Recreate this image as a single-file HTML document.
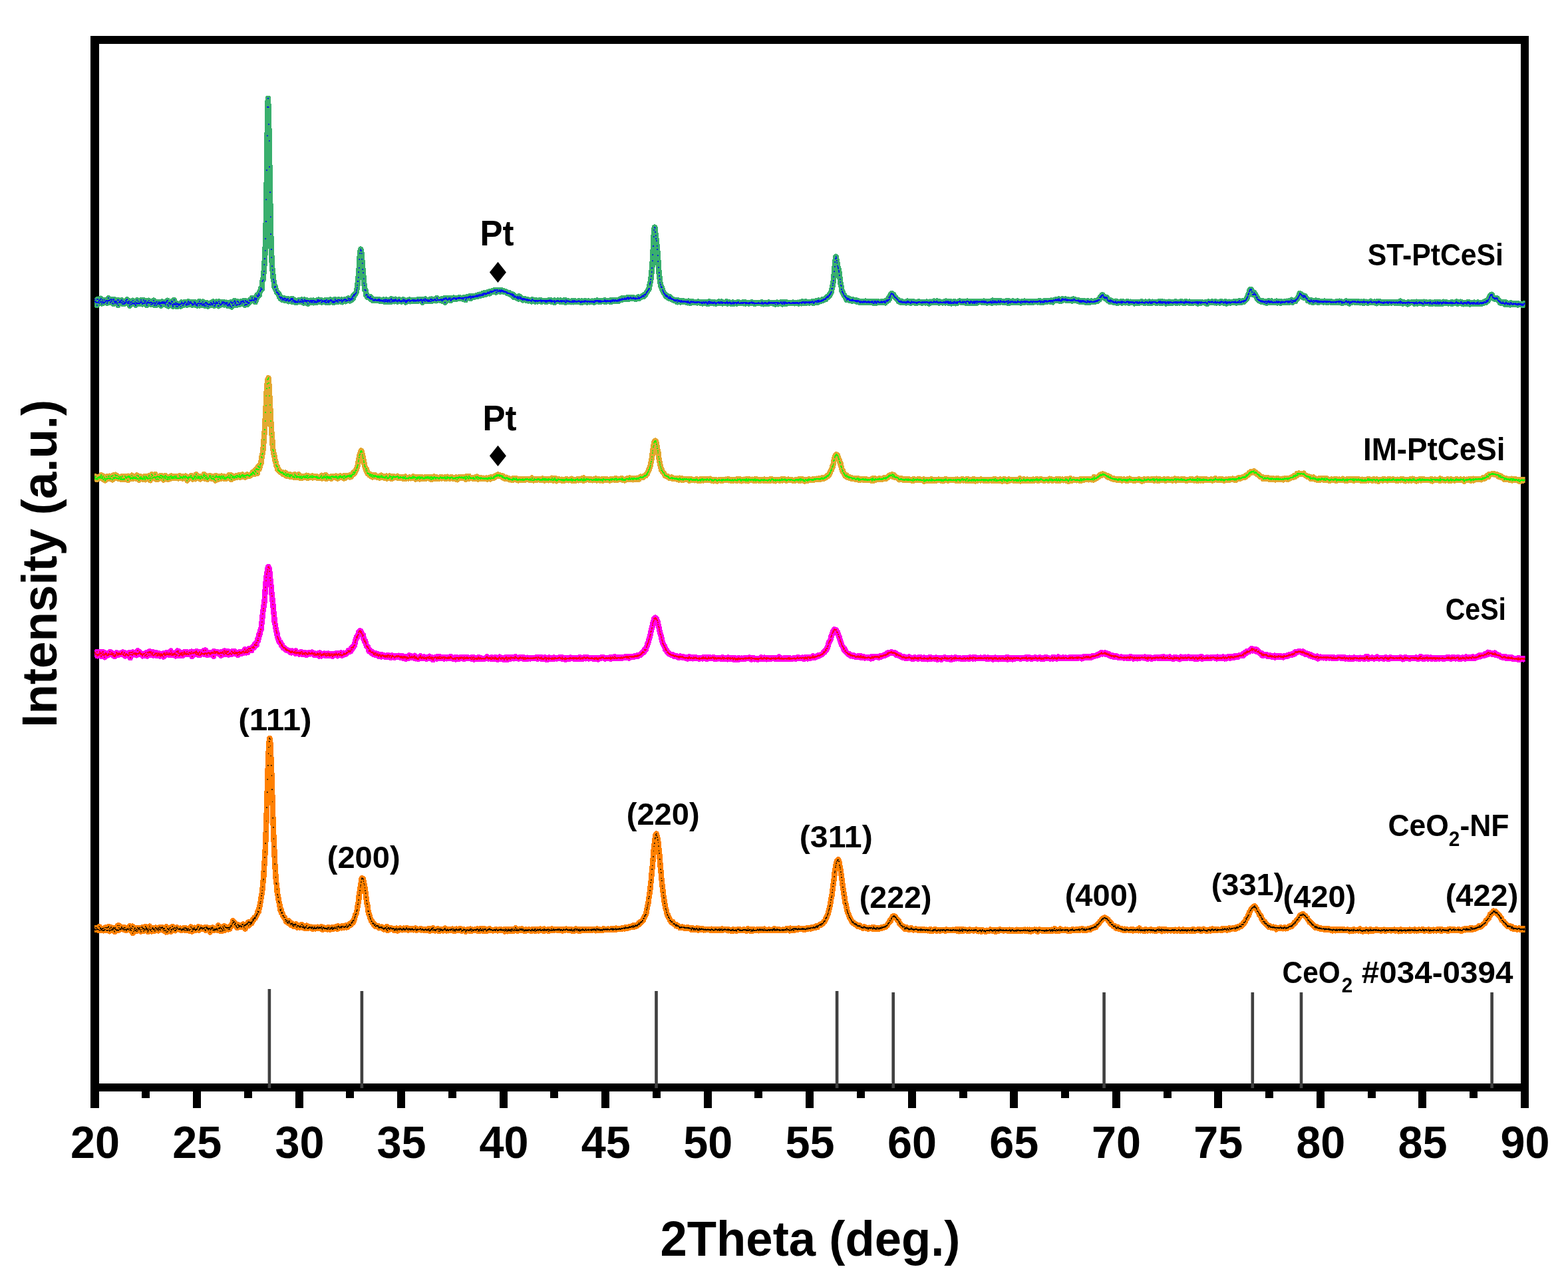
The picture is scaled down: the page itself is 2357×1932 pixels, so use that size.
<!DOCTYPE html>
<html lang="en"><head><meta charset="utf-8"><title>XRD patterns</title>
<style>html,body{margin:0;padding:0;background:#fff}svg{display:block}text{font-family:"Liberation Sans",sans-serif;font-weight:bold;fill:#000}</style></head><body>
<svg width="2357" height="1932" viewBox="0 0 2357 1932">
<rect x="0" y="0" width="2357" height="1932" fill="#fff"/>
<defs>
<marker id="m0" markerUnits="userSpaceOnUse" markerWidth="2" markerHeight="2" refX="1" refY="1" viewBox="0 0 2 2"><rect width="2" height="2" fill="#0000FF"/></marker>
<marker id="m1" markerUnits="userSpaceOnUse" markerWidth="2" markerHeight="2" refX="1" refY="1" viewBox="0 0 2 2"><rect width="2" height="2" fill="#00FF00"/></marker>
<marker id="m2" markerUnits="userSpaceOnUse" markerWidth="2" markerHeight="2" refX="1" refY="1" viewBox="0 0 2 2"><rect width="2" height="2" fill="#FF0000"/></marker>
<marker id="m3" markerUnits="userSpaceOnUse" markerWidth="1.7" markerHeight="1.7" refX="0.85" refY="0.85" viewBox="0 0 1.7 1.7"><rect width="1.7" height="1.7" fill="#000000"/></marker>
<clipPath id="cc"><rect x="142" y="60" width="2150.6" height="1575"/></clipPath>
</defs>
<g fill="#000" shape-rendering="crispEdges">
<rect x="136" y="54" width="13" height="1612"/>
<rect x="2286" y="54" width="12" height="1612"/>
<rect x="136" y="54" width="2162" height="12"/>
<rect x="136" y="1629" width="2162" height="12"/>
<rect x="213.0" y="1640" width="12" height="11"/>
<rect x="290.0" y="1640" width="12" height="26"/>
<rect x="367.0" y="1640" width="12" height="11"/>
<rect x="444.0" y="1640" width="12" height="26"/>
<rect x="520.0" y="1640" width="12" height="11"/>
<rect x="597.0" y="1640" width="12" height="26"/>
<rect x="674.0" y="1640" width="12" height="11"/>
<rect x="751.0" y="1640" width="12" height="26"/>
<rect x="827.0" y="1640" width="12" height="11"/>
<rect x="904.0" y="1640" width="12" height="26"/>
<rect x="981.0" y="1640" width="12" height="11"/>
<rect x="1058.0" y="1640" width="12" height="26"/>
<rect x="1134.0" y="1640" width="12" height="11"/>
<rect x="1211.0" y="1640" width="12" height="26"/>
<rect x="1288.0" y="1640" width="12" height="11"/>
<rect x="1365.0" y="1640" width="12" height="26"/>
<rect x="1442.0" y="1640" width="12" height="11"/>
<rect x="1518.0" y="1640" width="12" height="26"/>
<rect x="1595.0" y="1640" width="12" height="11"/>
<rect x="1672.0" y="1640" width="12" height="26"/>
<rect x="1749.0" y="1640" width="12" height="11"/>
<rect x="1825.0" y="1640" width="12" height="26"/>
<rect x="1902.0" y="1640" width="12" height="11"/>
<rect x="1979.0" y="1640" width="12" height="26"/>
<rect x="2056.0" y="1640" width="12" height="11"/>
<rect x="2132.0" y="1640" width="12" height="26"/>
<rect x="2209.0" y="1640" width="12" height="11"/>
</g>
<g fill="#404040" shape-rendering="crispEdges">
<rect x="402.6" y="1487" width="4.6" height="149" shape-rendering="auto"/>
<rect x="541.6" y="1490" width="4.6" height="146" shape-rendering="auto"/>
<rect x="984.2" y="1490" width="4.6" height="146" shape-rendering="auto"/>
<rect x="1255.8" y="1490" width="4.6" height="146" shape-rendering="auto"/>
<rect x="1340.4" y="1492" width="4.6" height="144" shape-rendering="auto"/>
<rect x="1657.3" y="1492" width="4.6" height="144" shape-rendering="auto"/>
<rect x="1880.5" y="1492" width="4.6" height="144" shape-rendering="auto"/>
<rect x="1953.7" y="1492" width="4.6" height="144" shape-rendering="auto"/>
<rect x="2240.3" y="1492" width="4.6" height="144" shape-rendering="auto"/>
</g>
<polyline clip-path="url(#cc)" fill="none" stroke="#39AF6D" stroke-width="8.5" stroke-linejoin="round" stroke-linecap="butt" shape-rendering="crispEdges" marker-start="url(#m0)" marker-mid="url(#m0)" marker-end="url(#m0)" points="142.5,449.7 143.1,453.1 143.7,454.5 144.3,453.3 145.0,454.7 145.6,458.9 146.2,450.1 146.8,454.9 147.4,449.7 148.0,453.7 148.6,452.0 149.3,455.7 149.9,451.3 150.5,454.1 151.1,450.5 151.7,448.7 152.3,453.9 152.9,456.5 153.6,454.1 154.2,451.1 154.8,453.7 155.4,454.7 156.0,455.5 156.6,450.8 157.2,454.6 157.9,453.9 158.5,453.1 159.1,453.2 159.7,451.8 160.3,452.0 160.9,455.8 161.5,453.7 162.2,452.2 162.8,448.2 163.4,451.5 164.0,452.2 164.6,450.6 165.2,450.6 165.8,454.9 166.5,452.8 167.1,449.9 167.7,450.6 168.3,452.7 168.9,455.5 169.5,450.3 170.1,456.6 170.7,452.4 171.4,450.0 172.0,454.4 172.6,456.3 173.2,453.0 173.8,454.7 174.4,452.8 175.0,453.4 175.7,456.8 176.3,455.2 176.9,451.1 177.5,459.1 178.1,451.4 178.7,455.2 179.3,454.4 180.0,453.3 180.6,453.9 181.2,453.2 181.8,455.2 182.4,452.1 183.0,451.2 183.6,454.5 184.3,457.1 184.9,453.3 185.5,457.0 186.1,453.5 186.7,456.8 187.3,455.6 187.9,454.8 188.6,455.7 189.2,452.2 189.8,454.1 190.4,450.8 191.0,450.4 191.6,455.8 192.2,453.6 192.9,456.0 193.5,454.3 194.1,452.5 194.7,459.8 195.3,456.8 195.9,454.5 196.5,454.2 197.2,457.5 197.8,453.6 198.4,457.3 199.0,455.6 199.6,451.7 200.2,455.8 200.8,456.6 201.5,455.5 202.1,456.4 202.7,457.2 203.3,453.5 203.9,459.0 204.5,454.8 205.1,456.2 205.8,451.4 206.4,456.5 207.0,456.0 207.6,453.4 208.2,455.9 208.8,455.6 209.4,456.6 210.1,456.0 210.7,453.5 211.3,454.8 211.9,451.3 212.5,454.7 213.1,453.7 213.7,456.9 214.4,457.4 215.0,456.0 215.6,451.1 216.2,455.9 216.8,452.6 217.4,455.7 218.0,455.2 218.7,452.7 219.3,452.3 219.9,456.6 220.5,459.2 221.1,454.9 221.7,455.7 222.3,453.9 222.9,454.5 223.6,451.7 224.2,455.3 224.8,455.5 225.4,454.5 226.0,455.3 226.6,454.4 227.2,457.8 227.9,455.0 228.5,455.7 229.1,457.1 229.7,455.6 230.3,456.1 230.9,451.7 231.5,454.8 232.2,459.2 232.8,456.1 233.4,457.4 234.0,456.1 234.6,459.1 235.2,453.9 235.8,453.8 236.5,456.8 237.1,457.1 237.7,456.2 238.3,456.2 238.9,454.2 239.5,457.7 240.1,455.7 240.8,456.6 241.4,454.7 242.0,459.8 242.6,454.8 243.2,456.1 243.8,453.5 244.4,454.1 245.1,455.7 245.7,454.2 246.3,456.1 246.9,454.2 247.5,456.1 248.1,456.0 248.7,458.4 249.4,454.9 250.0,453.8 250.6,454.4 251.2,451.8 251.8,451.7 252.4,458.2 253.0,460.4 253.7,455.4 254.3,456.4 254.9,455.3 255.5,458.1 256.1,455.9 256.7,456.0 257.3,456.0 258.0,453.1 258.6,458.1 259.2,454.0 259.8,460.9 260.4,459.2 261.0,456.9 261.6,451.1 262.3,456.6 262.9,458.1 263.5,457.4 264.1,455.4 264.7,460.7 265.3,458.2 265.9,456.3 266.6,461.0 267.2,457.5 267.8,457.1 268.4,457.6 269.0,459.3 269.6,457.5 270.2,457.4 270.9,457.5 271.5,460.8 272.1,457.1 272.7,454.3 273.3,455.4 273.9,456.0 274.5,459.1 275.1,459.3 275.8,456.3 276.4,457.0 277.0,456.4 277.6,454.1 278.2,454.8 278.8,454.4 279.4,457.5 280.1,458.6 280.7,456.7 281.3,456.1 281.9,458.4 282.5,455.2 283.1,453.0 283.7,456.8 284.4,457.6 285.0,454.8 285.6,454.1 286.2,455.6 286.8,454.1 287.4,456.3 288.0,456.4 288.7,457.2 289.3,458.7 289.9,456.9 290.5,458.1 291.1,457.8 291.7,453.8 292.3,456.5 293.0,454.8 293.6,454.6 294.2,457.1 294.8,459.1 295.4,458.2 296.0,457.8 296.6,459.8 297.3,456.8 297.9,455.5 298.5,456.0 299.1,455.8 299.7,453.1 300.3,459.4 300.9,456.6 301.6,456.7 302.2,456.0 302.8,457.0 303.4,455.8 304.0,458.8 304.6,453.6 305.2,458.2 305.9,457.0 306.5,459.2 307.1,459.6 307.7,459.6 308.3,456.9 308.9,455.1 309.5,459.8 310.2,454.8 310.8,457.4 311.4,455.9 312.0,457.3 312.6,460.8 313.2,458.2 313.8,457.6 314.5,456.8 315.1,457.7 315.7,458.6 316.3,458.1 316.9,455.1 317.5,455.6 318.1,457.0 318.8,458.5 319.4,457.9 320.0,456.7 320.6,453.3 321.2,454.6 321.8,459.9 322.4,456.1 323.1,459.6 323.7,457.6 324.3,455.9 324.9,453.7 325.5,456.4 326.1,455.8 326.7,454.7 327.4,456.3 328.0,459.8 328.6,460.4 329.2,453.2 329.8,456.4 330.4,456.3 331.0,457.7 331.6,458.5 332.3,457.7 332.9,457.1 333.5,454.0 334.1,455.2 334.7,456.2 335.3,455.8 335.9,453.8 336.6,454.5 337.2,458.4 337.8,454.7 338.4,456.1 339.0,455.7 339.6,457.7 340.2,455.9 340.9,454.7 341.5,455.9 342.1,458.9 342.7,460.0 343.3,458.3 343.9,457.5 344.5,455.9 345.2,458.0 345.8,459.9 346.4,460.5 347.0,454.0 347.6,454.8 348.2,461.6 348.8,456.1 349.5,459.0 350.1,455.4 350.7,458.8 351.3,459.3 351.9,453.5 352.5,452.0 353.1,456.7 353.8,454.2 354.4,456.0 355.0,458.7 355.6,458.4 356.2,458.6 356.8,452.9 357.4,457.5 358.1,453.5 358.7,454.7 359.3,457.5 359.9,457.7 360.5,456.4 361.1,456.9 361.7,455.4 362.4,453.3 363.0,454.3 363.6,456.5 364.2,453.4 364.8,453.5 365.4,452.3 366.0,453.1 366.7,454.8 367.3,454.7 367.9,458.7 368.5,457.7 369.1,452.1 369.7,457.6 370.3,453.9 371.0,458.2 371.6,453.1 372.2,454.7 372.8,455.2 373.4,456.1 374.0,456.0 374.6,454.5 375.3,451.2 375.9,452.2 376.5,451.7 377.1,452.1 377.7,450.7 378.3,452.4 378.9,447.9 379.6,451.4 380.2,451.1 380.8,451.3 381.4,451.6 382.0,451.6 382.6,450.0 383.2,448.0 383.8,454.2 384.5,449.4 385.1,451.2 385.7,448.8 386.3,443.5 386.9,445.6 387.5,444.5 388.1,445.8 388.8,443.1 389.4,441.2 390.0,443.7 390.6,438.1 391.2,437.7 391.8,436.3 392.4,432.9 393.1,434.6 393.7,434.6 394.3,423.2 394.9,422.2 395.5,420.5 396.1,412.8 396.7,407.7 397.4,397.7 398.0,388.9 398.6,376.5 399.2,358.7 399.8,333.0 400.4,300.2 401.0,255.6 401.7,204.3 402.3,160.9 402.9,147.8 403.5,161.3 404.1,186.6 404.7,211.6 405.3,250.8 406.0,289.2 406.6,326.4 407.2,352.1 407.8,374.9 408.4,387.4 409.0,400.4 409.6,405.9 410.3,412.1 410.9,420.2 411.5,422.5 412.1,425.0 412.7,432.0 413.3,431.4 413.9,431.1 414.6,435.7 415.2,436.0 415.8,438.9 416.4,439.6 417.0,439.9 417.6,439.7 418.2,442.2 418.9,443.0 419.5,442.2 420.1,446.3 420.7,447.2 421.3,446.9 421.9,449.3 422.5,447.2 423.2,447.1 423.8,447.7 424.4,451.1 425.0,448.7 425.6,448.5 426.2,450.4 426.8,451.4 427.5,448.3 428.1,449.4 428.7,449.0 429.3,452.2 429.9,449.5 430.5,452.1 431.1,449.8 431.8,450.6 432.4,451.2 433.0,449.2 433.6,453.4 434.2,451.5 434.8,451.9 435.4,451.1 436.0,452.3 436.7,451.2 437.3,449.5 437.9,449.0 438.5,453.8 439.1,450.2 439.7,449.0 440.3,452.4 441.0,451.4 441.6,452.5 442.2,454.3 442.8,453.2 443.4,451.5 444.0,454.6 444.6,452.9 445.3,453.9 445.9,453.8 446.5,454.7 447.1,453.9 447.7,454.1 448.3,451.8 448.9,451.1 449.6,453.6 450.2,453.6 450.8,454.1 451.4,453.4 452.0,453.4 452.6,450.8 453.2,454.1 453.9,450.4 454.5,454.2 455.1,451.8 455.7,452.8 456.3,455.6 456.9,453.2 457.5,450.4 458.2,450.9 458.8,452.2 459.4,453.2 460.0,452.3 460.6,451.9 461.2,454.1 461.8,451.6 462.5,456.7 463.1,452.4 463.7,452.7 464.3,452.4 464.9,452.5 465.5,454.9 466.1,452.7 466.8,451.8 467.4,452.2 468.0,453.5 468.6,451.7 469.2,454.9 469.8,452.9 470.4,452.0 471.1,451.5 471.7,455.3 472.3,452.3 472.9,454.1 473.5,452.8 474.1,452.6 474.7,454.3 475.4,455.2 476.0,453.7 476.6,452.6 477.2,450.9 477.8,454.2 478.4,452.3 479.0,450.7 479.7,453.2 480.3,452.8 480.9,451.8 481.5,451.6 482.1,451.8 482.7,450.8 483.3,454.7 484.0,453.8 484.6,451.8 485.2,453.2 485.8,452.9 486.4,453.2 487.0,452.8 487.6,454.2 488.2,451.6 488.9,453.0 489.5,451.8 490.1,455.0 490.7,450.9 491.3,451.3 491.9,454.2 492.5,452.5 493.2,453.6 493.8,451.7 494.4,455.0 495.0,452.6 495.6,452.7 496.2,452.4 496.8,450.5 497.5,451.0 498.1,452.3 498.7,451.6 499.3,454.2 499.9,453.6 500.5,453.3 501.1,455.0 501.8,453.9 502.4,453.1 503.0,454.5 503.6,450.0 504.2,452.8 504.8,452.1 505.4,452.6 506.1,452.4 506.7,451.9 507.3,453.7 507.9,450.8 508.5,453.7 509.1,450.5 509.7,450.6 510.4,451.1 511.0,452.2 511.6,452.1 512.2,451.7 512.8,451.7 513.4,450.4 514.0,454.3 514.7,452.6 515.3,451.8 515.9,451.4 516.5,451.0 517.1,452.4 517.7,450.3 518.3,450.0 519.0,449.9 519.6,453.3 520.2,452.1 520.8,451.2 521.4,450.5 522.0,452.1 522.6,451.9 523.3,448.4 523.9,450.6 524.5,449.0 525.1,448.8 525.7,452.4 526.3,452.0 526.9,450.0 527.6,448.7 528.2,450.3 528.8,450.7 529.4,448.1 530.0,446.1 530.6,449.2 531.2,444.7 531.9,443.0 532.5,444.6 533.1,442.6 533.7,442.2 534.3,441.8 534.9,441.1 535.5,439.2 536.2,436.1 536.8,432.6 537.4,428.5 538.0,423.0 538.6,417.3 539.2,409.2 539.8,402.5 540.4,389.8 541.1,380.6 541.7,376.5 542.3,374.6 542.9,377.1 543.5,381.3 544.1,389.5 544.7,395.6 545.4,405.0 546.0,410.4 546.6,419.4 547.2,425.6 547.8,429.4 548.4,435.6 549.0,435.6 549.7,436.7 550.3,443.8 550.9,442.7 551.5,443.0 552.1,446.7 552.7,446.2 553.3,445.4 554.0,446.7 554.6,446.8 555.2,448.1 555.8,447.8 556.4,449.4 557.0,446.3 557.6,449.8 558.3,449.0 558.9,449.4 559.5,449.2 560.1,449.5 560.7,452.2 561.3,450.8 561.9,451.0 562.6,451.5 563.2,451.7 563.8,449.8 564.4,450.0 565.0,451.3 565.6,451.6 566.2,451.6 566.9,450.9 567.5,452.2 568.1,451.4 568.7,449.9 569.3,451.8 569.9,449.9 570.5,450.8 571.2,452.7 571.8,451.1 572.4,452.0 573.0,452.4 573.6,451.4 574.2,452.6 574.8,452.2 575.5,452.4 576.1,452.9 576.7,450.6 577.3,450.7 577.9,453.7 578.5,452.4 579.1,450.9 579.8,453.4 580.4,450.3 581.0,452.9 581.6,451.1 582.2,451.9 582.8,453.9 583.4,451.5 584.1,451.1 584.7,452.6 585.3,451.1 585.9,453.6 586.5,453.8 587.1,451.3 587.7,450.9 588.4,449.2 589.0,453.5 589.6,450.5 590.2,452.3 590.8,452.1 591.4,453.0 592.0,450.8 592.6,453.3 593.3,450.9 593.9,452.2 594.5,449.7 595.1,450.6 595.7,452.6 596.3,452.3 596.9,452.5 597.6,453.6 598.2,451.4 598.8,451.8 599.4,452.1 600.0,450.4 600.6,452.8 601.2,452.0 601.9,453.1 602.5,452.7 603.1,453.6 603.7,452.2 604.3,452.5 604.9,452.5 605.5,452.2 606.2,450.3 606.8,453.1 607.4,450.7 608.0,451.1 608.6,451.4 609.2,452.9 609.8,454.6 610.5,451.9 611.1,454.0 611.7,451.9 612.3,453.1 612.9,451.0 613.5,452.1 614.1,451.2 614.8,451.0 615.4,450.4 616.0,453.3 616.6,452.8 617.2,452.2 617.8,451.6 618.4,451.9 619.1,452.2 619.7,451.0 620.3,451.9 620.9,451.0 621.5,452.8 622.1,450.8 622.7,452.5 623.4,452.4 624.0,451.3 624.6,452.3 625.2,452.7 625.8,452.2 626.4,451.9 627.0,451.4 627.7,452.4 628.3,449.8 628.9,452.5 629.5,451.3 630.1,451.6 630.7,451.7 631.3,450.5 632.0,451.5 632.6,450.5 633.2,450.2 633.8,451.0 634.4,453.2 635.0,454.8 635.6,451.4 636.3,452.2 636.9,450.4 637.5,450.5 638.1,451.6 638.7,452.9 639.3,449.4 639.9,450.4 640.6,452.2 641.2,451.0 641.8,451.2 642.4,451.1 643.0,452.9 643.6,451.8 644.2,451.1 644.9,453.0 645.5,451.8 646.1,452.6 646.7,449.7 647.3,449.9 647.9,453.3 648.5,451.0 649.1,449.7 649.8,451.3 650.4,451.8 651.0,451.9 651.6,451.6 652.2,451.1 652.8,451.3 653.4,449.8 654.1,449.9 654.7,451.1 655.3,451.5 655.9,452.3 656.5,448.0 657.1,448.6 657.7,451.2 658.4,451.3 659.0,450.8 659.6,451.2 660.2,450.8 660.8,451.3 661.4,450.7 662.0,450.6 662.7,449.6 663.3,450.6 663.9,451.6 664.5,452.5 665.1,450.4 665.7,451.0 666.3,450.7 667.0,448.7 667.6,450.2 668.2,450.4 668.8,454.7 669.4,448.4 670.0,449.4 670.6,447.9 671.3,449.8 671.9,449.8 672.5,450.1 673.1,451.4 673.7,449.7 674.3,449.5 674.9,448.2 675.6,448.9 676.2,449.7 676.8,450.6 677.4,448.3 678.0,452.1 678.6,450.2 679.2,449.5 679.9,449.4 680.5,450.3 681.1,449.0 681.7,447.6 682.3,448.3 682.9,448.0 683.5,449.4 684.2,448.9 684.8,449.6 685.4,448.3 686.0,450.1 686.6,449.0 687.2,448.4 687.8,448.4 688.5,447.9 689.1,448.4 689.7,449.0 690.3,447.1 690.9,448.2 691.5,447.6 692.1,447.6 692.8,448.7 693.4,448.4 694.0,448.9 694.6,448.3 695.2,447.8 695.8,447.7 696.4,450.1 697.1,447.8 697.7,447.5 698.3,447.5 698.9,447.3 699.5,447.1 700.1,451.2 700.7,448.8 701.3,448.4 702.0,446.5 702.6,446.7 703.2,447.4 703.8,447.7 704.4,447.1 705.0,445.6 705.6,446.3 706.3,447.1 706.9,445.3 707.5,449.0 708.1,446.7 708.7,446.5 709.3,445.9 709.9,447.1 710.6,445.7 711.2,445.3 711.8,447.2 712.4,446.1 713.0,445.7 713.6,444.9 714.2,446.2 714.9,445.9 715.5,446.2 716.1,443.8 716.7,445.6 717.3,443.7 717.9,445.9 718.5,444.7 719.2,444.1 719.8,444.6 720.4,442.7 721.0,444.5 721.6,444.9 722.2,442.7 722.8,443.4 723.5,443.8 724.1,444.0 724.7,441.5 725.3,441.7 725.9,443.9 726.5,441.2 727.1,442.6 727.8,440.5 728.4,442.2 729.0,440.6 729.6,441.3 730.2,442.6 730.8,441.6 731.4,442.1 732.1,440.6 732.7,441.1 733.3,439.3 733.9,441.3 734.5,440.3 735.1,439.5 735.7,441.4 736.4,438.9 737.0,437.9 737.6,438.9 738.2,439.0 738.8,439.5 739.4,437.6 740.0,438.7 740.7,437.6 741.3,438.3 741.9,437.9 742.5,437.4 743.1,436.1 743.7,436.7 744.3,436.0 745.0,436.7 745.6,439.8 746.2,436.4 746.8,436.0 747.4,438.5 748.0,436.1 748.6,437.7 749.3,437.5 749.9,437.7 750.5,436.5 751.1,436.2 751.7,436.8 752.3,438.9 752.9,437.2 753.5,436.0 754.2,437.9 754.8,437.3 755.4,437.8 756.0,436.9 756.6,437.8 757.2,438.8 757.8,439.1 758.5,438.3 759.1,438.4 759.7,438.6 760.3,439.2 760.9,439.6 761.5,438.7 762.1,440.7 762.8,440.7 763.4,440.3 764.0,441.4 764.6,440.8 765.2,440.8 765.8,440.9 766.4,440.5 767.1,442.6 767.7,441.5 768.3,442.3 768.9,442.6 769.5,444.0 770.1,442.1 770.7,444.9 771.4,444.3 772.0,443.2 772.6,447.0 773.2,445.2 773.8,445.3 774.4,445.9 775.0,446.3 775.7,446.9 776.3,446.7 776.9,447.8 777.5,448.6 778.1,445.7 778.7,447.1 779.3,449.5 780.0,447.7 780.6,445.5 781.2,448.2 781.8,448.6 782.4,449.4 783.0,446.9 783.6,449.7 784.3,448.5 784.9,449.9 785.5,449.2 786.1,451.4 786.7,449.0 787.3,448.9 787.9,450.4 788.6,449.4 789.2,450.7 789.8,450.4 790.4,449.9 791.0,450.5 791.6,451.9 792.2,449.9 792.9,450.0 793.5,450.7 794.1,452.4 794.7,451.2 795.3,451.1 795.9,451.1 796.5,452.1 797.2,451.7 797.8,451.6 798.4,451.5 799.0,453.4 799.6,450.8 800.2,450.2 800.8,451.0 801.5,451.5 802.1,452.0 802.7,451.6 803.3,452.5 803.9,452.2 804.5,453.6 805.1,452.0 805.7,451.5 806.4,452.5 807.0,451.5 807.6,453.3 808.2,453.4 808.8,452.8 809.4,451.7 810.0,451.9 810.7,452.2 811.3,452.0 811.9,452.5 812.5,451.1 813.1,451.6 813.7,453.8 814.3,452.1 815.0,451.9 815.6,452.7 816.2,452.0 816.8,452.1 817.4,451.9 818.0,452.7 818.6,452.4 819.3,452.1 819.9,453.9 820.5,452.0 821.1,452.6 821.7,454.2 822.3,451.8 822.9,452.2 823.6,452.9 824.2,451.7 824.8,452.6 825.4,452.4 826.0,451.4 826.6,453.1 827.2,453.2 827.9,451.4 828.5,452.3 829.1,453.8 829.7,452.1 830.3,452.6 830.9,452.9 831.5,452.8 832.2,452.6 832.8,453.0 833.4,451.6 834.0,455.1 834.6,452.7 835.2,452.5 835.8,452.6 836.5,452.3 837.1,453.0 837.7,452.7 838.3,451.5 838.9,451.7 839.5,453.2 840.1,452.6 840.8,453.5 841.4,452.7 842.0,452.7 842.6,451.5 843.2,453.1 843.8,453.1 844.4,453.9 845.1,451.9 845.7,452.7 846.3,452.5 846.9,452.6 847.5,451.6 848.1,453.3 848.7,452.7 849.4,453.1 850.0,454.7 850.6,451.3 851.2,454.3 851.8,452.3 852.4,453.0 853.0,452.5 853.7,452.3 854.3,452.9 854.9,452.6 855.5,453.8 856.1,452.9 856.7,453.1 857.3,453.6 857.9,453.5 858.6,454.4 859.2,453.7 859.8,453.6 860.4,451.8 861.0,454.0 861.6,454.3 862.2,452.3 862.9,454.1 863.5,452.1 864.1,452.8 864.7,453.1 865.3,452.9 865.9,454.0 866.5,453.9 867.2,452.9 867.8,453.4 868.4,453.5 869.0,452.7 869.6,453.2 870.2,452.3 870.8,453.3 871.5,453.2 872.1,453.9 872.7,454.4 873.3,455.0 873.9,453.1 874.5,452.5 875.1,454.1 875.8,454.4 876.4,453.3 877.0,453.1 877.6,453.3 878.2,453.9 878.8,452.4 879.4,454.1 880.1,452.4 880.7,452.5 881.3,453.4 881.9,452.8 882.5,454.6 883.1,453.0 883.7,453.1 884.4,452.6 885.0,452.7 885.6,454.1 886.2,454.3 886.8,453.3 887.4,453.8 888.0,452.9 888.7,453.1 889.3,454.2 889.9,452.6 890.5,453.8 891.1,453.6 891.7,453.2 892.3,454.1 893.0,454.8 893.6,452.4 894.2,454.3 894.8,452.9 895.4,451.8 896.0,452.9 896.6,452.6 897.3,451.5 897.9,452.1 898.5,452.9 899.1,453.0 899.7,452.0 900.3,454.2 900.9,453.2 901.6,451.9 902.2,453.9 902.8,454.0 903.4,452.3 904.0,453.5 904.6,452.5 905.2,452.8 905.9,453.2 906.5,452.7 907.1,453.0 907.7,453.3 908.3,452.5 908.9,451.2 909.5,453.1 910.1,452.1 910.8,452.8 911.4,453.8 912.0,452.3 912.6,453.1 913.2,452.8 913.8,452.2 914.4,452.1 915.1,453.1 915.7,453.4 916.3,452.6 916.9,451.5 917.5,452.9 918.1,454.1 918.7,453.3 919.4,451.7 920.0,451.4 920.6,452.6 921.2,453.3 921.8,451.4 922.4,450.9 923.0,451.7 923.7,453.0 924.3,451.8 924.9,450.8 925.5,452.3 926.1,452.1 926.7,452.7 927.3,451.6 928.0,452.7 928.6,451.2 929.2,451.0 929.8,451.2 930.4,452.6 931.0,450.0 931.6,451.7 932.3,449.6 932.9,451.1 933.5,451.2 934.1,450.4 934.7,448.5 935.3,450.7 935.9,448.5 936.6,449.9 937.2,449.9 937.8,449.6 938.4,449.6 939.0,448.3 939.6,450.2 940.2,449.5 940.9,449.4 941.5,450.1 942.1,448.1 942.7,448.7 943.3,448.4 943.9,446.8 944.5,449.9 945.2,448.2 945.8,449.1 946.4,448.6 947.0,447.8 947.6,447.3 948.2,447.0 948.8,449.1 949.5,448.4 950.1,448.7 950.7,448.6 951.3,448.9 951.9,447.3 952.5,448.1 953.1,448.9 953.8,448.3 954.4,448.6 955.0,449.6 955.6,447.9 956.2,448.8 956.8,449.4 957.4,449.0 958.1,449.2 958.7,448.6 959.3,446.4 959.9,447.9 960.5,447.7 961.1,448.9 961.7,447.9 962.4,447.0 963.0,447.1 963.6,446.5 964.2,446.8 964.8,445.3 965.4,446.1 966.0,445.3 966.6,444.8 967.3,444.2 967.9,445.8 968.5,442.9 969.1,442.5 969.7,443.5 970.3,442.8 970.9,441.8 971.6,440.3 972.2,439.3 972.8,438.6 973.4,438.1 974.0,436.6 974.6,436.0 975.2,434.5 975.9,434.0 976.5,428.4 977.1,425.9 977.7,423.6 978.3,420.1 978.9,415.2 979.5,409.0 980.2,403.0 980.8,392.4 981.4,383.0 982.0,370.1 982.6,355.9 983.2,345.7 983.8,341.6 984.5,342.6 985.1,348.8 985.7,354.4 986.3,358.9 986.9,362.3 987.5,369.6 988.1,375.2 988.8,384.3 989.4,393.1 990.0,402.4 990.6,410.0 991.2,414.8 991.8,419.7 992.4,425.3 993.1,428.2 993.7,430.9 994.3,432.1 994.9,432.3 995.5,435.7 996.1,435.6 996.7,437.9 997.4,439.0 998.0,440.8 998.6,441.2 999.2,442.0 999.8,443.1 1000.4,444.7 1001.0,443.6 1001.7,446.0 1002.3,444.2 1002.9,445.1 1003.5,446.6 1004.1,446.3 1004.7,447.8 1005.3,448.5 1006.0,448.2 1006.6,446.1 1007.2,448.8 1007.8,447.4 1008.4,449.3 1009.0,448.9 1009.6,450.2 1010.3,449.3 1010.9,450.1 1011.5,450.4 1012.1,450.0 1012.7,451.7 1013.3,451.1 1013.9,452.1 1014.6,451.0 1015.2,452.5 1015.8,451.9 1016.4,451.4 1017.0,451.6 1017.6,451.0 1018.2,454.3 1018.8,451.3 1019.5,452.2 1020.1,452.9 1020.7,452.6 1021.3,451.8 1021.9,453.3 1022.5,452.7 1023.1,454.4 1023.8,452.2 1024.4,452.2 1025.0,453.7 1025.6,452.5 1026.2,453.6 1026.8,453.3 1027.4,454.1 1028.1,452.6 1028.7,452.9 1029.3,453.8 1029.9,452.9 1030.5,453.5 1031.1,453.9 1031.7,453.8 1032.4,453.2 1033.0,455.3 1033.6,453.0 1034.2,453.6 1034.8,455.2 1035.4,452.6 1036.0,455.1 1036.7,455.1 1037.3,456.1 1037.9,453.8 1038.5,454.1 1039.1,452.8 1039.7,453.8 1040.3,454.5 1041.0,454.3 1041.6,453.3 1042.2,454.1 1042.8,454.1 1043.4,454.8 1044.0,454.7 1044.6,453.8 1045.3,455.2 1045.9,454.9 1046.5,454.9 1047.1,453.8 1047.7,454.2 1048.3,455.4 1048.9,453.9 1049.6,453.6 1050.2,453.9 1050.8,454.5 1051.4,454.1 1052.0,455.4 1052.6,455.0 1053.2,455.0 1053.9,454.4 1054.5,456.1 1055.1,455.3 1055.7,455.9 1056.3,456.4 1056.9,454.2 1057.5,454.4 1058.2,455.0 1058.8,455.4 1059.4,456.1 1060.0,454.4 1060.6,454.4 1061.2,455.3 1061.8,454.3 1062.5,455.6 1063.1,456.8 1063.7,457.0 1064.3,454.7 1064.9,453.9 1065.5,455.6 1066.1,453.2 1066.8,456.3 1067.4,455.3 1068.0,454.1 1068.6,455.1 1069.2,455.6 1069.8,454.9 1070.4,454.4 1071.0,455.9 1071.7,455.0 1072.3,455.1 1072.9,456.3 1073.5,454.0 1074.1,455.3 1074.7,455.4 1075.3,454.9 1076.0,456.8 1076.6,456.1 1077.2,456.3 1077.8,455.0 1078.4,454.7 1079.0,454.6 1079.6,455.0 1080.3,453.5 1080.9,456.2 1081.5,454.7 1082.1,455.2 1082.7,453.8 1083.3,455.6 1083.9,455.5 1084.6,453.5 1085.2,454.4 1085.8,456.4 1086.4,455.6 1087.0,454.7 1087.6,455.1 1088.2,454.8 1088.9,455.2 1089.5,455.7 1090.1,455.7 1090.7,454.7 1091.3,456.1 1091.9,455.4 1092.5,453.2 1093.2,454.9 1093.8,456.5 1094.4,455.0 1095.0,454.7 1095.6,455.4 1096.2,455.5 1096.8,454.4 1097.5,454.8 1098.1,456.0 1098.7,456.6 1099.3,455.4 1099.9,456.5 1100.5,455.9 1101.1,456.1 1101.8,454.4 1102.4,454.8 1103.0,456.6 1103.6,454.8 1104.2,455.8 1104.8,455.3 1105.4,455.2 1106.1,455.1 1106.7,454.9 1107.3,456.6 1107.9,455.8 1108.5,454.8 1109.1,454.9 1109.7,454.0 1110.4,455.6 1111.0,455.6 1111.6,455.6 1112.2,456.1 1112.8,456.1 1113.4,455.6 1114.0,454.8 1114.7,455.1 1115.3,456.0 1115.9,455.7 1116.5,454.6 1117.1,456.3 1117.7,455.1 1118.3,454.7 1119.0,454.9 1119.6,454.5 1120.2,455.2 1120.8,456.5 1121.4,454.7 1122.0,456.1 1122.6,455.1 1123.2,456.1 1123.9,455.5 1124.5,455.5 1125.1,456.1 1125.7,456.6 1126.3,454.8 1126.9,456.0 1127.5,455.7 1128.2,454.8 1128.8,455.1 1129.4,455.4 1130.0,454.2 1130.6,456.1 1131.2,455.6 1131.8,454.7 1132.5,455.7 1133.1,455.1 1133.7,456.6 1134.3,455.7 1134.9,456.1 1135.5,455.7 1136.1,456.4 1136.8,455.6 1137.4,456.2 1138.0,456.1 1138.6,456.0 1139.2,455.7 1139.8,456.3 1140.4,454.9 1141.1,455.6 1141.7,455.6 1142.3,456.1 1142.9,455.8 1143.5,455.8 1144.1,456.2 1144.7,456.5 1145.4,454.3 1146.0,455.2 1146.6,455.6 1147.2,457.3 1147.8,455.5 1148.4,455.7 1149.0,455.4 1149.7,456.2 1150.3,455.1 1150.9,455.0 1151.5,456.1 1152.1,456.6 1152.7,455.8 1153.3,455.5 1154.0,456.8 1154.6,454.7 1155.2,456.1 1155.8,454.4 1156.4,456.3 1157.0,455.8 1157.6,454.9 1158.3,455.4 1158.9,455.6 1159.5,455.6 1160.1,455.0 1160.7,454.9 1161.3,455.6 1161.9,456.3 1162.6,455.8 1163.2,455.0 1163.8,455.1 1164.4,456.2 1165.0,455.4 1165.6,457.5 1166.2,455.3 1166.9,455.0 1167.5,455.0 1168.1,454.5 1168.7,456.9 1169.3,457.3 1169.9,454.8 1170.5,455.5 1171.2,455.7 1171.8,455.8 1172.4,455.6 1173.0,455.4 1173.6,455.4 1174.2,454.1 1174.8,456.0 1175.4,456.2 1176.1,457.4 1176.7,454.7 1177.3,454.1 1177.9,455.6 1178.5,455.1 1179.1,456.9 1179.7,453.9 1180.4,455.1 1181.0,455.6 1181.6,455.8 1182.2,454.5 1182.8,456.4 1183.4,456.3 1184.0,456.2 1184.7,455.4 1185.3,455.1 1185.9,455.0 1186.5,456.2 1187.1,454.9 1187.7,455.6 1188.3,455.6 1189.0,455.7 1189.6,456.1 1190.2,455.5 1190.8,455.0 1191.4,455.6 1192.0,454.5 1192.6,456.0 1193.3,454.9 1193.9,456.3 1194.5,456.3 1195.1,455.2 1195.7,455.8 1196.3,455.6 1196.9,454.9 1197.6,455.6 1198.2,455.4 1198.8,456.0 1199.4,454.7 1200.0,456.0 1200.6,456.7 1201.2,456.1 1201.9,454.6 1202.5,455.4 1203.1,454.6 1203.7,454.9 1204.3,455.0 1204.9,456.3 1205.5,453.6 1206.2,454.0 1206.8,455.2 1207.4,453.7 1208.0,454.2 1208.6,455.0 1209.2,454.4 1209.8,456.2 1210.5,453.6 1211.1,455.4 1211.7,455.0 1212.3,453.7 1212.9,455.4 1213.5,454.8 1214.1,454.3 1214.8,454.9 1215.4,454.8 1216.0,454.1 1216.6,455.7 1217.2,454.9 1217.8,454.2 1218.4,453.9 1219.1,454.6 1219.7,454.7 1220.3,454.1 1220.9,453.1 1221.5,453.0 1222.1,454.3 1222.7,456.2 1223.4,455.1 1224.0,455.3 1224.6,453.2 1225.2,453.6 1225.8,453.4 1226.4,452.6 1227.0,452.8 1227.7,454.5 1228.3,452.5 1228.9,452.0 1229.5,454.4 1230.1,452.6 1230.7,451.4 1231.3,453.7 1231.9,452.5 1232.6,452.7 1233.2,452.5 1233.8,452.8 1234.4,451.9 1235.0,452.5 1235.6,450.5 1236.2,452.0 1236.9,451.7 1237.5,451.7 1238.1,449.8 1238.7,449.8 1239.3,449.8 1239.9,449.8 1240.5,448.7 1241.2,450.1 1241.8,448.3 1242.4,446.9 1243.0,447.1 1243.6,446.7 1244.2,445.4 1244.8,447.2 1245.5,445.3 1246.1,444.5 1246.7,442.7 1247.3,444.1 1247.9,441.9 1248.5,441.7 1249.1,439.7 1249.8,438.6 1250.4,434.3 1251.0,433.8 1251.6,429.2 1252.2,426.2 1252.8,422.1 1253.4,416.4 1254.1,408.4 1254.7,400.9 1255.3,394.1 1255.9,388.9 1256.5,385.7 1257.1,388.1 1257.7,391.9 1258.4,395.4 1259.0,399.6 1259.6,402.0 1260.2,403.5 1260.8,406.9 1261.4,409.1 1262.0,413.7 1262.7,419.7 1263.3,424.3 1263.9,428.5 1264.5,429.9 1265.1,434.9 1265.7,438.7 1266.3,438.0 1267.0,440.3 1267.6,441.6 1268.2,442.5 1268.8,444.6 1269.4,445.3 1270.0,444.9 1270.6,446.7 1271.3,446.4 1271.9,448.0 1272.5,450.8 1273.1,448.0 1273.7,449.2 1274.3,450.4 1274.9,449.3 1275.6,448.5 1276.2,449.9 1276.8,451.6 1277.4,450.8 1278.0,451.5 1278.6,451.1 1279.2,451.0 1279.9,452.4 1280.5,450.6 1281.1,452.4 1281.7,450.1 1282.3,452.3 1282.9,452.2 1283.5,451.5 1284.1,451.9 1284.8,452.0 1285.4,451.6 1286.0,452.9 1286.6,451.7 1287.2,452.9 1287.8,451.6 1288.4,453.9 1289.1,453.1 1289.7,452.0 1290.3,452.2 1290.9,452.8 1291.5,454.6 1292.1,453.4 1292.7,453.0 1293.4,454.7 1294.0,454.7 1294.6,453.3 1295.2,453.6 1295.8,453.5 1296.4,454.3 1297.0,454.9 1297.7,453.0 1298.3,454.0 1298.9,453.1 1299.5,454.6 1300.1,453.6 1300.7,454.2 1301.3,452.6 1302.0,454.4 1302.6,454.2 1303.2,455.1 1303.8,453.5 1304.4,454.1 1305.0,453.3 1305.6,454.7 1306.3,453.4 1306.9,454.9 1307.5,453.9 1308.1,453.7 1308.7,453.9 1309.3,453.5 1309.9,454.7 1310.6,453.3 1311.2,453.1 1311.8,454.4 1312.4,455.0 1313.0,455.8 1313.6,455.8 1314.2,453.3 1314.9,454.7 1315.5,454.4 1316.1,453.0 1316.7,454.2 1317.3,455.9 1317.9,455.1 1318.5,453.1 1319.2,452.9 1319.8,452.9 1320.4,453.9 1321.0,454.6 1321.6,454.3 1322.2,454.5 1322.8,454.8 1323.5,454.6 1324.1,453.8 1324.7,453.6 1325.3,453.2 1325.9,455.1 1326.5,453.5 1327.1,453.9 1327.8,454.4 1328.4,453.9 1329.0,453.0 1329.6,454.9 1330.2,453.4 1330.8,455.4 1331.4,454.3 1332.1,451.5 1332.7,451.4 1333.3,453.3 1333.9,452.6 1334.5,451.0 1335.1,451.5 1335.7,451.4 1336.3,447.3 1337.0,449.7 1337.6,447.0 1338.2,445.1 1338.8,442.8 1339.4,442.4 1340.0,441.1 1340.6,442.2 1341.3,441.5 1341.9,442.1 1342.5,443.8 1343.1,442.6 1343.7,444.7 1344.3,445.0 1344.9,446.8 1345.6,446.8 1346.2,447.1 1346.8,447.8 1347.4,448.8 1348.0,449.1 1348.6,450.1 1349.2,450.8 1349.9,450.7 1350.5,452.7 1351.1,453.2 1351.7,453.2 1352.3,453.9 1352.9,453.1 1353.5,454.5 1354.2,453.4 1354.8,453.4 1355.4,452.7 1356.0,454.9 1356.6,454.2 1357.2,454.4 1357.8,454.8 1358.5,453.9 1359.1,453.8 1359.7,454.8 1360.3,454.1 1360.9,454.7 1361.5,454.3 1362.1,455.5 1362.8,454.1 1363.4,454.5 1364.0,452.6 1364.6,454.9 1365.2,454.3 1365.8,454.1 1366.4,453.1 1367.1,454.7 1367.7,455.0 1368.3,454.8 1368.9,455.9 1369.5,454.1 1370.1,452.9 1370.7,454.1 1371.4,454.8 1372.0,454.4 1372.6,454.3 1373.2,454.8 1373.8,453.5 1374.4,454.9 1375.0,455.4 1375.7,454.6 1376.3,454.4 1376.9,455.3 1377.5,455.0 1378.1,456.0 1378.7,454.4 1379.3,455.0 1380.0,454.6 1380.6,453.5 1381.2,454.5 1381.8,453.6 1382.4,453.9 1383.0,454.4 1383.6,454.9 1384.3,455.2 1384.9,454.9 1385.5,455.5 1386.1,453.9 1386.7,453.9 1387.3,454.6 1387.9,455.3 1388.5,454.3 1389.2,454.2 1389.8,454.6 1390.4,453.9 1391.0,455.3 1391.6,454.4 1392.2,454.4 1392.8,453.5 1393.5,454.0 1394.1,455.1 1394.7,454.5 1395.3,454.4 1395.9,455.0 1396.5,456.6 1397.1,454.8 1397.8,453.9 1398.4,454.3 1399.0,454.8 1399.6,453.8 1400.2,454.0 1400.8,454.6 1401.4,455.1 1402.1,454.8 1402.7,454.9 1403.3,454.4 1403.9,452.6 1404.5,453.7 1405.1,454.1 1405.7,454.7 1406.4,454.2 1407.0,453.9 1407.6,454.1 1408.2,452.5 1408.8,455.1 1409.4,454.7 1410.0,454.2 1410.7,454.5 1411.3,455.5 1411.9,455.2 1412.5,453.5 1413.1,454.7 1413.7,454.7 1414.3,453.9 1415.0,455.0 1415.6,454.5 1416.2,455.2 1416.8,455.4 1417.4,454.5 1418.0,454.4 1418.6,454.6 1419.3,453.5 1419.9,455.3 1420.5,454.3 1421.1,455.5 1421.7,454.2 1422.3,452.7 1422.9,454.6 1423.6,454.1 1424.2,454.9 1424.8,452.8 1425.4,454.1 1426.0,455.9 1426.6,455.0 1427.2,453.9 1427.9,455.8 1428.5,454.6 1429.1,453.4 1429.7,456.4 1430.3,455.6 1430.9,454.9 1431.5,455.5 1432.2,455.1 1432.8,455.8 1433.4,453.5 1434.0,455.7 1434.6,453.9 1435.2,453.4 1435.8,454.6 1436.5,456.3 1437.1,454.8 1437.7,454.2 1438.3,454.2 1438.9,456.0 1439.5,454.2 1440.1,453.6 1440.7,454.0 1441.4,453.8 1442.0,454.3 1442.6,452.3 1443.2,453.6 1443.8,453.6 1444.4,454.7 1445.0,454.8 1445.7,454.7 1446.3,455.2 1446.9,453.4 1447.5,455.1 1448.1,454.8 1448.7,454.5 1449.3,453.4 1450.0,454.0 1450.6,454.2 1451.2,453.9 1451.8,454.5 1452.4,456.0 1453.0,453.4 1453.6,452.6 1454.3,453.3 1454.9,453.1 1455.5,454.0 1456.1,453.7 1456.7,456.0 1457.3,454.3 1457.9,455.8 1458.6,455.1 1459.2,452.9 1459.8,454.1 1460.4,453.3 1461.0,454.2 1461.6,455.9 1462.2,454.1 1462.9,455.0 1463.5,453.2 1464.1,454.1 1464.7,456.0 1465.3,453.4 1465.9,454.7 1466.5,453.3 1467.2,454.3 1467.8,453.4 1468.4,455.7 1469.0,452.8 1469.6,453.7 1470.2,454.6 1470.8,454.4 1471.5,453.1 1472.1,453.8 1472.7,454.2 1473.3,453.9 1473.9,453.8 1474.5,454.3 1475.1,453.0 1475.8,454.5 1476.4,453.0 1477.0,452.9 1477.6,454.5 1478.2,454.1 1478.8,452.7 1479.4,453.9 1480.1,455.0 1480.7,453.3 1481.3,454.5 1481.9,453.4 1482.5,454.1 1483.1,454.5 1483.7,455.6 1484.4,455.2 1485.0,455.0 1485.6,453.5 1486.2,454.6 1486.8,455.2 1487.4,454.1 1488.0,454.0 1488.7,454.7 1489.3,453.0 1489.9,454.7 1490.5,455.8 1491.1,453.9 1491.7,454.2 1492.3,451.6 1492.9,454.9 1493.6,455.2 1494.2,452.8 1494.8,454.5 1495.4,452.8 1496.0,454.7 1496.6,452.5 1497.2,454.2 1497.9,455.3 1498.5,453.7 1499.1,454.2 1499.7,454.9 1500.3,453.8 1500.9,451.8 1501.5,453.7 1502.2,454.1 1502.8,455.1 1503.4,453.7 1504.0,452.2 1504.6,453.3 1505.2,453.5 1505.8,454.1 1506.5,454.3 1507.1,454.4 1507.7,453.2 1508.3,454.3 1508.9,452.8 1509.5,454.9 1510.1,453.7 1510.8,453.9 1511.4,454.3 1512.0,454.2 1512.6,452.6 1513.2,453.1 1513.8,453.5 1514.4,452.6 1515.1,456.1 1515.7,454.4 1516.3,452.1 1516.9,454.6 1517.5,454.2 1518.1,454.2 1518.7,455.3 1519.4,453.4 1520.0,453.2 1520.6,454.4 1521.2,454.1 1521.8,453.7 1522.4,452.6 1523.0,453.8 1523.7,454.6 1524.3,454.6 1524.9,454.4 1525.5,453.1 1526.1,454.6 1526.7,454.3 1527.3,455.2 1528.0,454.4 1528.6,454.8 1529.2,454.3 1529.8,452.4 1530.4,454.2 1531.0,453.8 1531.6,454.3 1532.3,454.0 1532.9,454.0 1533.5,454.7 1534.1,453.9 1534.7,455.5 1535.3,453.3 1535.9,453.2 1536.6,454.5 1537.2,454.4 1537.8,453.8 1538.4,454.4 1539.0,453.3 1539.6,453.9 1540.2,452.6 1540.9,454.6 1541.5,452.9 1542.1,454.1 1542.7,452.8 1543.3,453.4 1543.9,454.4 1544.5,453.3 1545.2,453.7 1545.8,453.5 1546.4,454.6 1547.0,453.9 1547.6,455.1 1548.2,454.4 1548.8,453.4 1549.4,453.8 1550.1,453.4 1550.7,453.2 1551.3,454.4 1551.9,455.2 1552.5,453.8 1553.1,453.3 1553.7,453.0 1554.4,453.2 1555.0,453.8 1555.6,453.7 1556.2,453.5 1556.8,453.2 1557.4,453.8 1558.0,453.9 1558.7,454.2 1559.3,453.4 1559.9,454.4 1560.5,452.9 1561.1,452.6 1561.7,453.3 1562.3,452.6 1563.0,452.3 1563.6,453.6 1564.2,455.0 1564.8,453.9 1565.4,452.8 1566.0,452.9 1566.6,454.3 1567.3,454.6 1567.9,453.5 1568.5,452.7 1569.1,454.5 1569.7,452.3 1570.3,454.1 1570.9,452.3 1571.6,452.8 1572.2,452.8 1572.8,452.3 1573.4,453.9 1574.0,452.9 1574.6,453.6 1575.2,452.8 1575.9,453.2 1576.5,452.0 1577.1,452.3 1577.7,453.2 1578.3,451.8 1578.9,452.2 1579.5,453.9 1580.2,451.6 1580.8,452.2 1581.4,452.2 1582.0,452.8 1582.6,454.4 1583.2,451.5 1583.8,451.1 1584.5,451.6 1585.1,452.0 1585.7,451.7 1586.3,451.4 1586.9,450.1 1587.5,450.8 1588.1,451.7 1588.8,451.6 1589.4,450.9 1590.0,449.9 1590.6,451.8 1591.2,451.3 1591.8,449.3 1592.4,452.4 1593.1,450.8 1593.7,451.7 1594.3,451.5 1594.9,452.7 1595.5,450.0 1596.1,451.1 1596.7,451.7 1597.4,449.2 1598.0,450.2 1598.6,449.7 1599.2,450.8 1599.8,451.2 1600.4,450.2 1601.0,450.7 1601.6,449.4 1602.3,451.4 1602.9,451.7 1603.5,450.6 1604.1,450.4 1604.7,451.4 1605.3,452.0 1605.9,450.7 1606.6,450.6 1607.2,451.1 1607.8,451.5 1608.4,451.4 1609.0,451.7 1609.6,452.2 1610.2,450.6 1610.9,452.4 1611.5,450.6 1612.1,451.1 1612.7,452.3 1613.3,451.5 1613.9,449.5 1614.5,450.6 1615.2,449.8 1615.8,451.2 1616.4,451.7 1617.0,451.5 1617.6,451.9 1618.2,451.9 1618.8,452.4 1619.5,451.5 1620.1,452.3 1620.7,451.1 1621.3,452.8 1621.9,452.4 1622.5,452.6 1623.1,454.2 1623.8,452.0 1624.4,452.9 1625.0,454.0 1625.6,452.4 1626.2,454.1 1626.8,452.3 1627.4,452.3 1628.1,453.0 1628.7,452.2 1629.3,453.6 1629.9,452.7 1630.5,454.3 1631.1,452.6 1631.7,454.1 1632.4,453.6 1633.0,454.7 1633.6,454.7 1634.2,452.4 1634.8,453.8 1635.4,452.4 1636.0,454.2 1636.7,452.9 1637.3,453.9 1637.9,454.6 1638.5,453.5 1639.1,453.3 1639.7,453.7 1640.3,452.5 1641.0,453.5 1641.6,453.5 1642.2,453.8 1642.8,453.7 1643.4,454.1 1644.0,453.7 1644.6,452.7 1645.3,453.6 1645.9,453.7 1646.5,452.4 1647.1,452.7 1647.7,453.3 1648.3,452.7 1648.9,451.7 1649.6,452.8 1650.2,452.3 1650.8,450.6 1651.4,450.6 1652.0,451.0 1652.6,450.6 1653.2,447.4 1653.8,447.2 1654.5,447.0 1655.1,445.3 1655.7,445.7 1656.3,443.5 1656.9,444.4 1657.5,443.3 1658.1,444.0 1658.8,446.7 1659.4,445.8 1660.0,447.2 1660.6,448.6 1661.2,446.5 1661.8,446.8 1662.4,447.5 1663.1,448.2 1663.7,447.3 1664.3,448.8 1664.9,451.0 1665.5,452.2 1666.1,452.6 1666.7,452.6 1667.4,452.6 1668.0,451.6 1668.6,454.0 1669.2,451.2 1669.8,451.7 1670.4,452.5 1671.0,452.4 1671.7,454.1 1672.3,453.4 1672.9,452.8 1673.5,453.8 1674.1,454.8 1674.7,454.3 1675.3,454.6 1676.0,454.9 1676.6,453.4 1677.2,452.7 1677.8,455.4 1678.4,454.8 1679.0,455.9 1679.6,453.6 1680.3,453.9 1680.9,454.3 1681.5,455.3 1682.1,453.9 1682.7,453.8 1683.3,454.9 1683.9,455.1 1684.6,454.5 1685.2,453.3 1685.8,454.6 1686.4,455.6 1687.0,453.3 1687.6,454.6 1688.2,454.4 1688.9,453.6 1689.5,454.3 1690.1,454.4 1690.7,455.2 1691.3,454.6 1691.9,455.3 1692.5,454.6 1693.2,453.8 1693.8,453.3 1694.4,454.0 1695.0,454.1 1695.6,453.3 1696.2,454.1 1696.8,455.8 1697.5,453.8 1698.1,454.2 1698.7,453.8 1699.3,455.0 1699.9,453.9 1700.5,454.2 1701.1,455.2 1701.8,454.1 1702.4,454.8 1703.0,454.0 1703.6,454.8 1704.2,455.6 1704.8,454.8 1705.4,456.4 1706.0,455.3 1706.7,454.0 1707.3,454.2 1707.9,454.0 1708.5,454.7 1709.1,455.6 1709.7,454.0 1710.3,455.6 1711.0,454.8 1711.6,454.6 1712.2,456.0 1712.8,454.2 1713.4,454.2 1714.0,454.7 1714.6,454.9 1715.3,454.7 1715.9,455.1 1716.5,453.2 1717.1,454.8 1717.7,454.7 1718.3,454.7 1718.9,454.7 1719.6,455.5 1720.2,455.4 1720.8,455.1 1721.4,455.7 1722.0,453.5 1722.6,454.4 1723.2,454.4 1723.9,454.8 1724.5,454.1 1725.1,454.7 1725.7,455.8 1726.3,454.5 1726.9,454.5 1727.5,453.3 1728.2,455.3 1728.8,453.9 1729.4,454.7 1730.0,456.0 1730.6,455.1 1731.2,453.8 1731.8,455.6 1732.5,453.7 1733.1,454.5 1733.7,454.3 1734.3,453.9 1734.9,453.8 1735.5,454.0 1736.1,454.3 1736.8,455.3 1737.4,454.0 1738.0,454.9 1738.6,455.7 1739.2,455.5 1739.8,455.3 1740.4,454.5 1741.1,454.8 1741.7,453.2 1742.3,455.2 1742.9,454.2 1743.5,455.5 1744.1,452.9 1744.7,455.0 1745.4,454.5 1746.0,453.8 1746.6,455.9 1747.2,455.3 1747.8,453.6 1748.4,455.4 1749.0,454.1 1749.7,454.7 1750.3,453.7 1750.9,454.6 1751.5,455.7 1752.1,454.0 1752.7,456.6 1753.3,454.9 1754.0,454.6 1754.6,454.3 1755.2,454.1 1755.8,456.1 1756.4,453.7 1757.0,455.8 1757.6,454.7 1758.2,453.7 1758.9,455.4 1759.5,454.3 1760.1,454.1 1760.7,455.4 1761.3,454.7 1761.9,455.3 1762.5,455.6 1763.2,455.3 1763.8,455.0 1764.4,454.3 1765.0,454.9 1765.6,454.3 1766.2,454.8 1766.8,453.5 1767.5,455.5 1768.1,453.8 1768.7,453.7 1769.3,454.9 1769.9,455.5 1770.5,454.2 1771.1,454.8 1771.8,454.3 1772.4,454.6 1773.0,455.4 1773.6,455.4 1774.2,453.9 1774.8,454.7 1775.4,453.1 1776.1,455.0 1776.7,454.3 1777.3,454.5 1777.9,454.3 1778.5,454.7 1779.1,454.5 1779.7,456.0 1780.4,454.1 1781.0,455.2 1781.6,454.7 1782.2,452.9 1782.8,455.3 1783.4,453.4 1784.0,454.1 1784.7,455.2 1785.3,453.8 1785.9,455.1 1786.5,454.1 1787.1,454.4 1787.7,455.5 1788.3,453.6 1789.0,455.3 1789.6,454.4 1790.2,454.8 1790.8,454.7 1791.4,455.1 1792.0,455.8 1792.6,454.9 1793.3,454.3 1793.9,455.3 1794.5,455.3 1795.1,454.8 1795.7,454.1 1796.3,455.1 1796.9,455.1 1797.6,454.1 1798.2,454.1 1798.8,455.6 1799.4,455.0 1800.0,453.9 1800.6,456.7 1801.2,455.8 1801.9,454.2 1802.5,454.4 1803.1,455.2 1803.7,454.2 1804.3,454.6 1804.9,455.8 1805.5,454.5 1806.2,453.8 1806.8,454.7 1807.4,454.6 1808.0,455.0 1808.6,454.9 1809.2,455.1 1809.8,455.1 1810.4,454.9 1811.1,455.4 1811.7,455.4 1812.3,454.3 1812.9,454.5 1813.5,456.5 1814.1,456.4 1814.7,455.5 1815.4,456.5 1816.0,454.3 1816.6,453.4 1817.2,454.0 1817.8,453.9 1818.4,454.9 1819.0,454.1 1819.7,453.9 1820.3,454.0 1820.9,454.6 1821.5,453.8 1822.1,453.3 1822.7,453.6 1823.3,453.7 1824.0,454.9 1824.6,455.1 1825.2,455.0 1825.8,455.3 1826.4,453.9 1827.0,453.2 1827.6,454.6 1828.3,455.6 1828.9,454.8 1829.5,454.9 1830.1,453.9 1830.7,455.1 1831.3,454.8 1831.9,454.9 1832.6,454.4 1833.2,455.5 1833.8,455.5 1834.4,453.9 1835.0,455.1 1835.6,452.8 1836.2,454.3 1836.9,454.3 1837.5,454.1 1838.1,454.0 1838.7,454.3 1839.3,455.6 1839.9,455.0 1840.5,455.0 1841.2,454.4 1841.8,453.3 1842.4,454.9 1843.0,455.5 1843.6,456.5 1844.2,453.9 1844.8,454.9 1845.5,455.7 1846.1,454.4 1846.7,455.1 1847.3,454.7 1847.9,453.7 1848.5,454.8 1849.1,455.6 1849.8,454.8 1850.4,454.4 1851.0,454.7 1851.6,454.2 1852.2,454.3 1852.8,454.4 1853.4,453.9 1854.1,454.6 1854.7,454.4 1855.3,453.6 1855.9,454.6 1856.5,455.1 1857.1,452.8 1857.7,454.6 1858.4,455.4 1859.0,454.9 1859.6,453.7 1860.2,453.8 1860.8,455.0 1861.4,454.1 1862.0,453.7 1862.7,452.1 1863.3,454.6 1863.9,454.8 1864.5,453.5 1865.1,453.6 1865.7,454.7 1866.3,453.7 1866.9,452.7 1867.6,453.1 1868.2,453.4 1868.8,453.2 1869.4,454.1 1870.0,452.0 1870.6,451.8 1871.2,452.7 1871.9,452.1 1872.5,451.4 1873.1,450.9 1873.7,449.1 1874.3,448.9 1874.9,447.1 1875.5,445.8 1876.2,443.2 1876.8,442.1 1877.4,440.6 1878.0,438.1 1878.6,436.7 1879.2,434.9 1879.8,435.5 1880.5,434.9 1881.1,436.4 1881.7,438.6 1882.3,439.4 1882.9,442.7 1883.5,442.7 1884.1,443.1 1884.8,441.7 1885.4,439.7 1886.0,442.5 1886.6,442.5 1887.2,442.4 1887.8,443.8 1888.4,446.5 1889.1,447.7 1889.7,447.0 1890.3,450.2 1890.9,449.6 1891.5,450.6 1892.1,451.1 1892.7,452.2 1893.4,451.3 1894.0,451.5 1894.6,453.0 1895.2,452.4 1895.8,453.5 1896.4,453.0 1897.0,452.4 1897.7,454.1 1898.3,453.3 1898.9,452.5 1899.5,453.8 1900.1,454.0 1900.7,453.7 1901.3,454.8 1902.0,453.0 1902.6,453.2 1903.2,455.5 1903.8,453.2 1904.4,455.8 1905.0,453.6 1905.6,454.5 1906.3,453.1 1906.9,452.3 1907.5,453.7 1908.1,455.0 1908.7,453.3 1909.3,455.1 1909.9,454.3 1910.6,453.9 1911.2,452.5 1911.8,453.6 1912.4,455.2 1913.0,454.1 1913.6,454.6 1914.2,455.0 1914.9,454.6 1915.5,453.7 1916.1,454.3 1916.7,454.3 1917.3,455.0 1917.9,454.6 1918.5,454.4 1919.1,452.5 1919.8,453.6 1920.4,455.4 1921.0,453.8 1921.6,453.1 1922.2,454.9 1922.8,454.2 1923.4,453.5 1924.1,454.1 1924.7,453.6 1925.3,455.8 1925.9,455.3 1926.5,453.3 1927.1,454.4 1927.7,454.0 1928.4,455.2 1929.0,454.0 1929.6,453.7 1930.2,453.6 1930.8,454.6 1931.4,455.2 1932.0,453.8 1932.7,453.0 1933.3,453.8 1933.9,453.0 1934.5,452.7 1935.1,453.2 1935.7,455.2 1936.3,453.6 1937.0,452.5 1937.6,454.1 1938.2,454.7 1938.8,452.7 1939.4,453.4 1940.0,453.1 1940.6,453.9 1941.3,450.7 1941.9,454.5 1942.5,452.4 1943.1,454.7 1943.7,452.1 1944.3,453.0 1944.9,452.7 1945.6,452.9 1946.2,452.2 1946.8,451.4 1947.4,453.0 1948.0,451.0 1948.6,450.8 1949.2,450.0 1949.9,449.3 1950.5,448.8 1951.1,447.3 1951.7,445.8 1952.3,445.8 1952.9,444.0 1953.5,440.8 1954.2,442.4 1954.8,441.5 1955.4,442.5 1956.0,442.7 1956.6,444.0 1957.2,444.6 1957.8,445.3 1958.5,445.1 1959.1,447.4 1959.7,444.3 1960.3,446.7 1960.9,445.1 1961.5,444.9 1962.1,446.3 1962.8,446.7 1963.4,448.4 1964.0,449.1 1964.6,449.1 1965.2,449.5 1965.8,452.1 1966.4,451.6 1967.1,452.2 1967.7,452.9 1968.3,452.1 1968.9,453.9 1969.5,453.2 1970.1,453.0 1970.7,450.9 1971.3,452.6 1972.0,453.4 1972.6,453.4 1973.2,452.7 1973.8,455.2 1974.4,452.3 1975.0,451.8 1975.6,452.6 1976.3,453.7 1976.9,452.8 1977.5,452.3 1978.1,451.7 1978.7,452.1 1979.3,453.7 1979.9,453.1 1980.6,454.5 1981.2,452.4 1981.8,452.9 1982.4,452.5 1983.0,454.5 1983.6,453.0 1984.2,453.0 1984.9,454.2 1985.5,453.1 1986.1,453.9 1986.7,453.0 1987.3,453.7 1987.9,454.3 1988.5,453.4 1989.2,454.5 1989.8,454.0 1990.4,452.9 1991.0,452.6 1991.6,453.7 1992.2,452.9 1992.8,454.2 1993.5,454.5 1994.1,453.1 1994.7,453.9 1995.3,454.0 1995.9,453.1 1996.5,454.4 1997.1,453.7 1997.8,453.8 1998.4,453.3 1999.0,453.3 1999.6,454.0 2000.2,453.8 2000.8,454.9 2001.4,453.5 2002.1,453.7 2002.7,454.5 2003.3,454.4 2003.9,454.2 2004.5,454.7 2005.1,454.3 2005.7,453.8 2006.4,453.9 2007.0,454.0 2007.6,454.1 2008.2,454.9 2008.8,453.4 2009.4,454.3 2010.0,453.6 2010.7,453.5 2011.3,453.4 2011.9,452.8 2012.5,455.1 2013.1,452.7 2013.7,453.5 2014.3,453.1 2015.0,453.0 2015.6,453.0 2016.2,454.3 2016.8,454.3 2017.4,455.8 2018.0,454.0 2018.6,454.7 2019.3,454.4 2019.9,455.3 2020.5,454.8 2021.1,454.8 2021.7,454.0 2022.3,454.2 2022.9,452.9 2023.5,452.3 2024.2,453.4 2024.8,454.8 2025.4,454.4 2026.0,453.7 2026.6,454.7 2027.2,453.2 2027.8,453.8 2028.5,456.6 2029.1,455.5 2029.7,453.7 2030.3,455.0 2030.9,454.1 2031.5,455.0 2032.1,453.7 2032.8,452.8 2033.4,453.7 2034.0,453.4 2034.6,453.5 2035.2,453.5 2035.8,453.4 2036.4,454.4 2037.1,453.3 2037.7,453.9 2038.3,453.5 2038.9,454.4 2039.5,454.5 2040.1,454.5 2040.7,453.9 2041.4,453.0 2042.0,453.8 2042.6,454.9 2043.2,453.8 2043.8,453.8 2044.4,455.3 2045.0,454.3 2045.7,454.1 2046.3,453.6 2046.9,453.9 2047.5,453.9 2048.1,455.4 2048.7,453.9 2049.3,454.4 2050.0,453.0 2050.6,455.4 2051.2,453.7 2051.8,454.2 2052.4,454.1 2053.0,454.4 2053.6,453.7 2054.3,454.0 2054.9,454.1 2055.5,454.2 2056.1,455.9 2056.7,454.1 2057.3,454.9 2057.9,454.6 2058.6,454.1 2059.2,453.8 2059.8,454.1 2060.4,452.7 2061.0,453.0 2061.6,454.5 2062.2,454.9 2062.9,454.6 2063.5,454.5 2064.1,454.3 2064.7,454.3 2065.3,453.8 2065.9,453.6 2066.5,454.6 2067.2,454.3 2067.8,454.4 2068.4,454.0 2069.0,456.3 2069.6,453.6 2070.2,454.8 2070.8,454.6 2071.5,452.9 2072.1,454.9 2072.7,454.6 2073.3,453.0 2073.9,453.6 2074.5,454.8 2075.1,455.4 2075.7,454.6 2076.4,454.2 2077.0,454.9 2077.6,455.7 2078.2,454.5 2078.8,455.3 2079.4,454.9 2080.0,456.1 2080.7,453.8 2081.3,454.8 2081.9,454.7 2082.5,454.9 2083.1,455.4 2083.7,455.3 2084.3,454.2 2085.0,454.4 2085.6,453.8 2086.2,455.9 2086.8,455.0 2087.4,455.7 2088.0,454.4 2088.6,453.9 2089.3,454.4 2089.9,455.0 2090.5,454.4 2091.1,455.6 2091.7,455.6 2092.3,454.3 2092.9,454.6 2093.6,455.1 2094.2,455.1 2094.8,454.2 2095.4,454.9 2096.0,455.4 2096.6,455.1 2097.2,455.5 2097.9,454.5 2098.5,453.9 2099.1,454.5 2099.7,454.7 2100.3,454.5 2100.9,455.7 2101.5,454.5 2102.2,454.2 2102.8,454.9 2103.4,455.1 2104.0,453.8 2104.6,455.9 2105.2,452.5 2105.8,454.2 2106.5,454.1 2107.1,454.9 2107.7,454.7 2108.3,456.4 2108.9,456.4 2109.5,454.6 2110.1,455.0 2110.8,454.7 2111.4,455.5 2112.0,455.4 2112.6,455.6 2113.2,456.3 2113.8,455.0 2114.4,455.3 2115.1,454.8 2115.7,457.4 2116.3,454.4 2116.9,455.4 2117.5,454.3 2118.1,454.6 2118.7,455.8 2119.4,455.2 2120.0,455.4 2120.6,454.9 2121.2,455.1 2121.8,454.5 2122.4,454.7 2123.0,455.2 2123.7,454.6 2124.3,454.9 2124.9,455.8 2125.5,454.6 2126.1,456.7 2126.7,456.1 2127.3,455.0 2127.9,455.7 2128.6,455.7 2129.2,453.7 2129.8,455.5 2130.4,456.5 2131.0,455.9 2131.6,455.4 2132.2,454.8 2132.9,454.9 2133.5,455.9 2134.1,454.1 2134.7,455.6 2135.3,455.4 2135.9,454.5 2136.5,456.1 2137.2,454.7 2137.8,455.7 2138.4,456.5 2139.0,456.7 2139.6,456.3 2140.2,456.5 2140.8,453.7 2141.5,455.4 2142.1,454.4 2142.7,455.8 2143.3,455.8 2143.9,455.6 2144.5,454.6 2145.1,455.4 2145.8,456.1 2146.4,455.3 2147.0,454.8 2147.6,454.7 2148.2,455.4 2148.8,455.2 2149.4,456.8 2150.1,454.0 2150.7,455.2 2151.3,455.6 2151.9,456.5 2152.5,456.7 2153.1,456.8 2153.7,454.7 2154.4,455.2 2155.0,455.5 2155.6,454.7 2156.2,456.0 2156.8,456.4 2157.4,455.6 2158.0,454.3 2158.7,456.7 2159.3,455.5 2159.9,456.1 2160.5,454.2 2161.1,453.9 2161.7,456.8 2162.3,455.1 2163.0,455.1 2163.6,456.5 2164.2,455.6 2164.8,454.4 2165.4,455.3 2166.0,455.4 2166.6,455.8 2167.3,456.9 2167.9,454.9 2168.5,455.7 2169.1,455.7 2169.7,453.7 2170.3,454.9 2170.9,454.5 2171.6,455.6 2172.2,455.5 2172.8,456.1 2173.4,454.1 2174.0,455.1 2174.6,456.2 2175.2,455.7 2175.9,455.1 2176.5,455.3 2177.1,456.4 2177.7,455.9 2178.3,455.6 2178.9,455.3 2179.5,455.8 2180.2,455.1 2180.8,456.4 2181.4,454.3 2182.0,456.1 2182.6,456.5 2183.2,454.9 2183.8,454.7 2184.4,456.3 2185.1,455.8 2185.7,455.9 2186.3,455.5 2186.9,455.5 2187.5,455.9 2188.1,454.5 2188.7,454.9 2189.4,453.4 2190.0,455.1 2190.6,456.5 2191.2,454.6 2191.8,454.9 2192.4,456.3 2193.0,455.9 2193.7,456.0 2194.3,455.9 2194.9,455.5 2195.5,453.7 2196.1,456.2 2196.7,453.8 2197.3,456.1 2198.0,456.4 2198.6,457.2 2199.2,455.5 2199.8,457.3 2200.4,455.2 2201.0,455.6 2201.6,455.4 2202.3,454.8 2202.9,456.0 2203.5,455.7 2204.1,455.4 2204.7,457.0 2205.3,455.2 2205.9,454.0 2206.6,455.3 2207.2,455.6 2207.8,454.1 2208.4,456.4 2209.0,454.7 2209.6,457.6 2210.2,456.2 2210.9,455.8 2211.5,454.9 2212.1,456.1 2212.7,456.2 2213.3,456.7 2213.9,455.3 2214.5,454.9 2215.2,457.1 2215.8,454.6 2216.4,455.1 2217.0,455.7 2217.6,457.0 2218.2,456.5 2218.8,456.0 2219.5,456.6 2220.1,455.1 2220.7,457.1 2221.3,456.1 2221.9,454.4 2222.5,456.6 2223.1,456.9 2223.8,455.8 2224.4,456.5 2225.0,455.3 2225.6,455.5 2226.2,455.8 2226.8,455.1 2227.4,456.5 2228.1,456.1 2228.7,454.9 2229.3,454.8 2229.9,456.1 2230.5,454.5 2231.1,453.5 2231.7,454.4 2232.4,454.1 2233.0,455.3 2233.6,454.5 2234.2,452.3 2234.8,453.9 2235.4,452.7 2236.0,451.6 2236.6,452.7 2237.3,450.6 2237.9,449.6 2238.5,447.7 2239.1,446.8 2239.7,445.5 2240.3,444.2 2240.9,443.3 2241.6,443.8 2242.2,442.7 2242.8,442.8 2243.4,445.2 2244.0,446.9 2244.6,448.0 2245.2,448.4 2245.9,447.9 2246.5,449.7 2247.1,449.1 2247.7,448.9 2248.3,448.4 2248.9,448.9 2249.5,448.0 2250.2,448.9 2250.8,448.6 2251.4,450.5 2252.0,451.5 2252.6,452.3 2253.2,452.9 2253.8,453.6 2254.5,452.5 2255.1,455.4 2255.7,454.8 2256.3,454.4 2256.9,456.0 2257.5,455.7 2258.1,455.5 2258.8,456.1 2259.4,454.0 2260.0,455.9 2260.6,456.3 2261.2,455.8 2261.8,456.4 2262.4,457.8 2263.1,455.8 2263.7,454.4 2264.3,455.7 2264.9,456.2 2265.5,457.6 2266.1,456.8 2266.7,456.1 2267.4,456.8 2268.0,456.1 2268.6,457.5 2269.2,458.1 2269.8,458.4 2270.4,455.7 2271.0,455.2 2271.7,457.3 2272.3,455.7 2272.9,457.2 2273.5,458.2 2274.1,457.7 2274.7,457.0 2275.3,456.1 2276.0,457.4 2276.6,457.4 2277.2,456.6 2277.8,457.3 2278.4,456.1 2279.0,457.9 2279.6,457.7 2280.3,456.7 2280.9,457.7 2281.5,458.6 2282.1,456.8 2282.7,456.4 2283.3,457.4 2283.9,457.7 2284.6,457.4 2285.2,457.2 2285.8,458.2 2286.4,456.7 2287.0,458.5 2287.6,458.7 2288.2,457.2 2288.8,458.6 2289.5,459.2 2290.1,457.6 2290.7,456.9 2291.3,456.2 2291.9,457.3"/>
<polyline clip-path="url(#cc)" fill="none" stroke="#E3A830" stroke-width="8.5" stroke-linejoin="round" stroke-linecap="butt" shape-rendering="crispEdges" marker-start="url(#m1)" marker-mid="url(#m1)" marker-end="url(#m1)" points="142.5,716.6 143.1,718.8 143.7,716.4 144.3,720.6 145.0,719.5 145.6,719.7 146.2,718.9 146.8,720.6 147.4,717.5 148.0,717.6 148.6,719.2 149.3,717.1 149.9,716.7 150.5,717.6 151.1,718.5 151.7,716.0 152.3,714.0 152.9,718.8 153.6,717.4 154.2,718.8 154.8,715.6 155.4,721.1 156.0,720.5 156.6,717.7 157.2,719.8 157.9,722.5 158.5,721.5 159.1,719.5 159.7,720.0 160.3,716.5 160.9,719.8 161.5,719.5 162.2,719.3 162.8,716.3 163.4,718.9 164.0,715.7 164.6,718.5 165.2,720.2 165.8,718.9 166.5,720.0 167.1,716.2 167.7,715.6 168.3,715.8 168.9,721.4 169.5,714.7 170.1,718.5 170.7,718.2 171.4,719.5 172.0,718.9 172.6,717.9 173.2,713.7 173.8,715.2 174.4,718.4 175.0,719.1 175.7,714.8 176.3,719.1 176.9,719.4 177.5,716.4 178.1,720.1 178.7,719.6 179.3,717.7 180.0,717.3 180.6,719.3 181.2,720.6 181.8,716.6 182.4,720.7 183.0,718.5 183.6,721.2 184.3,715.9 184.9,721.1 185.5,719.8 186.1,719.8 186.7,720.8 187.3,719.7 187.9,715.8 188.6,718.2 189.2,717.9 189.8,717.4 190.4,719.4 191.0,717.7 191.6,716.6 192.2,722.2 192.9,715.7 193.5,717.1 194.1,718.1 194.7,718.4 195.3,716.1 195.9,720.0 196.5,718.1 197.2,719.2 197.8,718.6 198.4,714.6 199.0,719.0 199.6,720.1 200.2,717.3 200.8,718.1 201.5,718.8 202.1,718.7 202.7,716.5 203.3,719.2 203.9,718.7 204.5,719.7 205.1,717.5 205.8,714.5 206.4,719.6 207.0,719.9 207.6,715.4 208.2,716.3 208.8,721.8 209.4,719.3 210.1,717.8 210.7,720.1 211.3,719.1 211.9,716.7 212.5,718.9 213.1,719.9 213.7,720.3 214.4,718.8 215.0,720.7 215.6,718.7 216.2,716.4 216.8,717.4 217.4,719.2 218.0,721.3 218.7,718.6 219.3,716.4 219.9,716.9 220.5,719.0 221.1,717.9 221.7,719.7 222.3,719.0 222.9,719.5 223.6,716.5 224.2,714.9 224.8,718.9 225.4,719.2 226.0,722.3 226.6,719.3 227.2,716.5 227.9,713.4 228.5,719.6 229.1,714.8 229.7,718.0 230.3,718.4 230.9,718.3 231.5,718.1 232.2,717.4 232.8,717.4 233.4,713.1 234.0,718.6 234.6,720.7 235.2,717.4 235.8,717.1 236.5,720.4 237.1,716.2 237.7,720.6 238.3,717.2 238.9,717.0 239.5,717.0 240.1,718.5 240.8,715.2 241.4,718.0 242.0,715.0 242.6,715.3 243.2,719.4 243.8,717.2 244.4,716.0 245.1,716.9 245.7,721.5 246.3,718.6 246.9,716.4 247.5,717.0 248.1,718.5 248.7,715.1 249.4,719.5 250.0,717.3 250.6,716.8 251.2,720.5 251.8,718.6 252.4,721.2 253.0,717.4 253.7,717.9 254.3,720.4 254.9,717.1 255.5,720.2 256.1,717.3 256.7,717.3 257.3,715.4 258.0,718.8 258.6,717.2 259.2,717.4 259.8,719.0 260.4,718.9 261.0,716.7 261.6,716.5 262.3,718.7 262.9,716.0 263.5,718.4 264.1,718.5 264.7,717.9 265.3,715.8 265.9,719.2 266.6,718.7 267.2,719.0 267.8,719.4 268.4,718.6 269.0,719.2 269.6,715.3 270.2,718.9 270.9,716.6 271.5,718.6 272.1,717.5 272.7,717.9 273.3,717.2 273.9,717.9 274.5,719.5 275.1,718.1 275.8,715.9 276.4,715.8 277.0,716.8 277.6,716.8 278.2,718.7 278.8,715.6 279.4,716.0 280.1,717.2 280.7,718.0 281.3,722.5 281.9,718.9 282.5,717.5 283.1,720.4 283.7,718.4 284.4,717.0 285.0,717.8 285.6,717.7 286.2,717.4 286.8,715.7 287.4,715.0 288.0,718.4 288.7,717.6 289.3,719.2 289.9,720.5 290.5,719.4 291.1,719.9 291.7,715.7 292.3,718.1 293.0,716.9 293.6,720.3 294.2,715.7 294.8,713.1 295.4,717.6 296.0,718.5 296.6,715.6 297.3,718.7 297.9,717.7 298.5,716.3 299.1,719.2 299.7,717.7 300.3,716.5 300.9,720.4 301.6,718.9 302.2,716.0 302.8,716.2 303.4,718.4 304.0,717.8 304.6,718.8 305.2,717.7 305.9,715.1 306.5,713.0 307.1,716.2 307.7,715.4 308.3,719.7 308.9,717.5 309.5,715.1 310.2,717.8 310.8,720.0 311.4,717.3 312.0,721.0 312.6,718.8 313.2,719.4 313.8,718.9 314.5,715.6 315.1,716.8 315.7,714.8 316.3,716.2 316.9,718.3 317.5,719.6 318.1,718.5 318.8,716.2 319.4,719.8 320.0,719.8 320.6,719.0 321.2,716.2 321.8,720.7 322.4,721.0 323.1,718.0 323.7,722.5 324.3,717.0 324.9,714.8 325.5,716.8 326.1,716.7 326.7,717.6 327.4,716.7 328.0,720.8 328.6,717.6 329.2,716.3 329.8,718.3 330.4,716.2 331.0,718.8 331.6,717.2 332.3,719.9 332.9,715.6 333.5,718.1 334.1,718.2 334.7,718.9 335.3,716.2 335.9,716.0 336.6,717.9 337.2,719.8 337.8,720.1 338.4,717.5 339.0,719.7 339.6,719.7 340.2,717.7 340.9,718.2 341.5,716.5 342.1,716.6 342.7,717.6 343.3,717.4 343.9,714.5 344.5,719.0 345.2,717.7 345.8,718.7 346.4,716.7 347.0,714.1 347.6,721.0 348.2,715.1 348.8,718.2 349.5,716.2 350.1,717.2 350.7,717.7 351.3,716.4 351.9,718.8 352.5,717.7 353.1,716.5 353.8,716.1 354.4,715.5 355.0,718.1 355.6,715.2 356.2,717.9 356.8,715.1 357.4,716.4 358.1,716.0 358.7,717.0 359.3,717.0 359.9,713.8 360.5,716.0 361.1,717.7 361.7,717.5 362.4,716.5 363.0,715.4 363.6,714.9 364.2,713.5 364.8,713.8 365.4,717.0 366.0,714.5 366.7,715.3 367.3,717.3 367.9,715.3 368.5,714.7 369.1,717.5 369.7,715.2 370.3,715.4 371.0,714.2 371.6,713.5 372.2,714.0 372.8,714.3 373.4,715.3 374.0,714.7 374.6,715.7 375.3,715.8 375.9,715.2 376.5,713.6 377.1,713.1 377.7,713.7 378.3,711.9 378.9,713.5 379.6,710.0 380.2,711.5 380.8,709.6 381.4,709.8 382.0,712.2 382.6,713.1 383.2,707.2 383.8,709.0 384.5,709.6 385.1,705.3 385.7,706.4 386.3,704.8 386.9,711.7 387.5,706.1 388.1,701.1 388.8,702.3 389.4,705.9 390.0,703.0 390.6,702.2 391.2,699.1 391.8,696.9 392.4,697.0 393.1,687.1 393.7,688.3 394.3,683.2 394.9,681.5 395.5,675.0 396.1,669.6 396.7,661.3 397.4,652.2 398.0,646.0 398.6,633.0 399.2,620.1 399.8,609.5 400.4,595.4 401.0,584.4 401.7,577.2 402.3,570.5 402.9,570.0 403.5,568.2 404.1,575.6 404.7,583.1 405.3,595.3 406.0,608.5 406.6,620.4 407.2,633.1 407.8,642.5 408.4,651.7 409.0,656.5 409.6,667.5 410.3,675.9 410.9,677.9 411.5,682.1 412.1,685.7 412.7,685.9 413.3,691.1 413.9,694.7 414.6,694.5 415.2,699.3 415.8,701.3 416.4,700.6 417.0,701.7 417.6,706.7 418.2,704.8 418.9,707.8 419.5,707.6 420.1,707.7 420.7,709.0 421.3,709.8 421.9,710.4 422.5,710.5 423.2,711.1 423.8,710.0 424.4,710.7 425.0,710.4 425.6,712.9 426.2,711.8 426.8,712.8 427.5,713.3 428.1,713.1 428.7,714.5 429.3,710.6 429.9,715.4 430.5,713.6 431.1,712.8 431.8,715.7 432.4,712.9 433.0,713.4 433.6,713.3 434.2,715.5 434.8,715.5 435.4,714.4 436.0,716.8 436.7,713.6 437.3,715.3 437.9,714.6 438.5,714.5 439.1,714.4 439.7,716.7 440.3,716.5 441.0,716.8 441.6,716.2 442.2,717.5 442.8,718.1 443.4,713.2 444.0,715.3 444.6,714.6 445.3,716.3 445.9,718.0 446.5,716.5 447.1,716.4 447.7,717.1 448.3,717.4 448.9,713.3 449.6,718.2 450.2,716.4 450.8,718.5 451.4,716.7 452.0,717.3 452.6,716.0 453.2,719.0 453.9,718.8 454.5,717.6 455.1,717.1 455.7,716.3 456.3,716.9 456.9,715.8 457.5,718.2 458.2,717.6 458.8,717.5 459.4,716.1 460.0,718.2 460.6,714.7 461.2,718.3 461.8,716.3 462.5,718.9 463.1,715.3 463.7,718.3 464.3,718.4 464.9,717.7 465.5,717.0 466.1,716.1 466.8,715.9 467.4,717.8 468.0,717.5 468.6,717.2 469.2,715.4 469.8,718.4 470.4,718.1 471.1,716.2 471.7,717.1 472.3,716.9 472.9,716.7 473.5,717.3 474.1,717.2 474.7,716.5 475.4,718.3 476.0,716.3 476.6,717.6 477.2,718.9 477.8,717.8 478.4,717.2 479.0,719.1 479.7,719.1 480.3,719.1 480.9,718.2 481.5,717.4 482.1,717.3 482.7,716.6 483.3,714.7 484.0,719.4 484.6,718.3 485.2,718.0 485.8,716.7 486.4,718.5 487.0,716.4 487.6,716.3 488.2,718.0 488.9,717.9 489.5,713.9 490.1,716.7 490.7,720.2 491.3,717.8 491.9,716.3 492.5,718.2 493.2,716.7 493.8,719.1 494.4,717.1 495.0,718.6 495.6,717.1 496.2,719.0 496.8,717.2 497.5,717.2 498.1,719.6 498.7,715.8 499.3,717.4 499.9,716.8 500.5,716.3 501.1,717.3 501.8,717.5 502.4,717.6 503.0,716.8 503.6,717.2 504.2,717.5 504.8,715.6 505.4,717.7 506.1,716.4 506.7,719.3 507.3,717.7 507.9,719.5 508.5,716.7 509.1,717.3 509.7,718.7 510.4,715.8 511.0,717.1 511.6,715.4 512.2,716.0 512.8,717.0 513.4,717.9 514.0,718.0 514.7,716.5 515.3,717.5 515.9,715.6 516.5,718.7 517.1,719.5 517.7,715.9 518.3,715.2 519.0,717.5 519.6,718.4 520.2,717.0 520.8,715.5 521.4,716.7 522.0,716.5 522.6,715.2 523.3,716.3 523.9,716.3 524.5,716.4 525.1,714.5 525.7,717.4 526.3,714.4 526.9,715.9 527.6,715.1 528.2,716.9 528.8,715.0 529.4,714.0 530.0,712.5 530.6,713.2 531.2,710.1 531.9,713.1 532.5,710.4 533.1,711.3 533.7,709.7 534.3,707.5 534.9,706.5 535.5,707.1 536.2,703.7 536.8,702.9 537.4,701.0 538.0,699.1 538.6,694.1 539.2,691.6 539.8,687.8 540.4,684.7 541.1,683.2 541.7,680.2 542.3,678.7 542.9,677.5 543.5,678.6 544.1,679.5 544.7,684.3 545.4,686.5 546.0,689.4 546.6,692.6 547.2,694.9 547.8,698.6 548.4,700.9 549.0,702.4 549.7,705.4 550.3,707.6 550.9,705.2 551.5,707.8 552.1,710.8 552.7,712.0 553.3,711.7 554.0,712.4 554.6,711.7 555.2,714.2 555.8,714.8 556.4,714.9 557.0,713.2 557.6,715.8 558.3,715.7 558.9,714.2 559.5,714.0 560.1,717.4 560.7,717.3 561.3,714.5 561.9,715.1 562.6,715.5 563.2,716.9 563.8,716.3 564.4,714.6 565.0,716.2 565.6,715.7 566.2,716.3 566.9,717.8 567.5,716.8 568.1,716.0 568.7,716.9 569.3,718.0 569.9,716.1 570.5,718.5 571.2,716.7 571.8,717.3 572.4,716.6 573.0,714.6 573.6,717.2 574.2,717.5 574.8,715.5 575.5,718.0 576.1,717.7 576.7,717.6 577.3,717.2 577.9,717.7 578.5,718.9 579.1,718.1 579.8,716.9 580.4,716.1 581.0,715.5 581.6,719.5 582.2,718.1 582.8,719.2 583.4,718.7 584.1,718.9 584.7,718.0 585.3,717.4 585.9,715.4 586.5,717.3 587.1,716.8 587.7,717.4 588.4,720.0 589.0,717.2 589.6,719.8 590.2,718.3 590.8,717.5 591.4,715.8 592.0,717.3 592.6,716.5 593.3,716.5 593.9,717.7 594.5,717.4 595.1,717.0 595.7,717.4 596.3,716.8 596.9,716.3 597.6,715.7 598.2,716.7 598.8,719.1 599.4,717.4 600.0,718.0 600.6,718.0 601.2,718.5 601.9,717.0 602.5,717.8 603.1,717.7 603.7,718.1 604.3,718.1 604.9,718.2 605.5,719.5 606.2,716.8 606.8,717.9 607.4,718.6 608.0,719.1 608.6,717.8 609.2,716.4 609.8,720.1 610.5,718.6 611.1,719.1 611.7,718.6 612.3,718.7 612.9,718.6 613.5,718.5 614.1,719.5 614.8,718.0 615.4,717.4 616.0,718.2 616.6,718.4 617.2,719.3 617.8,718.8 618.4,717.7 619.1,718.7 619.7,719.0 620.3,717.4 620.9,716.3 621.5,717.8 622.1,718.5 622.7,717.8 623.4,716.8 624.0,717.8 624.6,720.6 625.2,718.3 625.8,718.7 626.4,718.2 627.0,720.0 627.7,718.0 628.3,717.3 628.9,718.7 629.5,718.6 630.1,717.2 630.7,720.4 631.3,717.1 632.0,718.9 632.6,717.7 633.2,718.7 633.8,718.0 634.4,717.3 635.0,717.7 635.6,719.9 636.3,719.0 636.9,718.6 637.5,718.7 638.1,719.6 638.7,719.3 639.3,717.2 639.9,718.3 640.6,719.4 641.2,718.4 641.8,717.1 642.4,716.9 643.0,718.6 643.6,719.2 644.2,716.8 644.9,719.4 645.5,719.6 646.1,717.6 646.7,717.3 647.3,718.5 647.9,720.9 648.5,717.0 649.1,717.9 649.8,720.4 650.4,718.8 651.0,718.2 651.6,719.8 652.2,717.7 652.8,716.5 653.4,718.0 654.1,717.7 654.7,719.0 655.3,719.9 655.9,718.2 656.5,717.8 657.1,718.3 657.7,717.7 658.4,719.4 659.0,719.2 659.6,720.2 660.2,719.1 660.8,719.3 661.4,717.6 662.0,717.2 662.7,717.5 663.3,718.2 663.9,719.4 664.5,718.7 665.1,717.7 665.7,717.9 666.3,718.7 667.0,718.6 667.6,718.4 668.2,718.1 668.8,717.1 669.4,719.9 670.0,718.9 670.6,718.9 671.3,719.8 671.9,717.1 672.5,716.7 673.1,719.1 673.7,717.6 674.3,718.4 674.9,718.4 675.6,717.9 676.2,720.0 676.8,717.7 677.4,718.6 678.0,717.9 678.6,718.4 679.2,717.4 679.9,717.6 680.5,719.3 681.1,720.0 681.7,719.1 682.3,719.2 682.9,719.0 683.5,718.5 684.2,719.7 684.8,718.8 685.4,717.6 686.0,718.1 686.6,718.0 687.2,721.3 687.8,717.8 688.5,719.4 689.1,719.1 689.7,718.3 690.3,717.0 690.9,717.3 691.5,718.0 692.1,717.7 692.8,718.2 693.4,718.5 694.0,717.4 694.6,718.3 695.2,718.1 695.8,718.9 696.4,717.8 697.1,718.7 697.7,719.2 698.3,717.2 698.9,717.3 699.5,719.1 700.1,720.6 700.7,716.3 701.3,719.4 702.0,716.5 702.6,718.4 703.2,718.2 703.8,718.8 704.4,719.9 705.0,715.9 705.6,717.4 706.3,718.5 706.9,719.2 707.5,718.1 708.1,719.0 708.7,718.6 709.3,718.9 709.9,718.5 710.6,718.6 711.2,718.0 711.8,720.2 712.4,717.8 713.0,719.5 713.6,719.7 714.2,719.7 714.9,717.3 715.5,717.9 716.1,717.6 716.7,719.5 717.3,716.6 717.9,717.0 718.5,720.6 719.2,718.5 719.8,718.2 720.4,718.2 721.0,719.1 721.6,719.4 722.2,720.0 722.8,718.1 723.5,718.6 724.1,718.7 724.7,719.3 725.3,719.5 725.9,719.3 726.5,718.7 727.1,719.8 727.8,719.4 728.4,719.4 729.0,719.9 729.6,719.4 730.2,719.0 730.8,718.7 731.4,720.3 732.1,719.4 732.7,720.5 733.3,719.1 733.9,720.0 734.5,719.3 735.1,717.8 735.7,718.9 736.4,719.0 737.0,720.3 737.6,719.5 738.2,717.3 738.8,718.8 739.4,719.2 740.0,718.7 740.7,718.9 741.3,719.1 741.9,717.4 742.5,718.8 743.1,716.1 743.7,717.1 744.3,715.9 745.0,715.8 745.6,716.2 746.2,714.4 746.8,716.3 747.4,714.3 748.0,714.8 748.6,713.5 749.3,714.9 749.9,714.9 750.5,714.0 751.1,716.0 751.7,715.6 752.3,714.9 752.9,715.4 753.5,715.2 754.2,716.2 754.8,717.3 755.4,717.9 756.0,715.5 756.6,717.5 757.2,717.7 757.8,719.2 758.5,718.8 759.1,718.3 759.7,720.1 760.3,718.9 760.9,718.7 761.5,717.8 762.1,718.1 762.8,719.2 763.4,719.4 764.0,720.5 764.6,719.2 765.2,721.3 765.8,720.5 766.4,719.7 767.1,720.9 767.7,721.3 768.3,720.8 768.9,720.8 769.5,721.9 770.1,720.7 770.7,721.7 771.4,719.0 772.0,720.5 772.6,719.7 773.2,719.4 773.8,720.9 774.4,720.8 775.0,720.7 775.7,719.0 776.3,720.4 776.9,721.7 777.5,720.9 778.1,720.7 778.7,722.4 779.3,720.6 780.0,720.9 780.6,720.4 781.2,720.8 781.8,721.6 782.4,720.8 783.0,720.7 783.6,720.8 784.3,721.7 784.9,721.3 785.5,720.1 786.1,721.9 786.7,721.2 787.3,721.7 787.9,721.7 788.6,721.0 789.2,721.1 789.8,720.1 790.4,721.3 791.0,720.9 791.6,720.6 792.2,720.1 792.9,720.3 793.5,720.7 794.1,720.7 794.7,720.8 795.3,721.5 795.9,721.0 796.5,719.9 797.2,721.7 797.8,720.6 798.4,721.1 799.0,721.6 799.6,718.6 800.2,719.4 800.8,722.1 801.5,721.9 802.1,722.4 802.7,721.9 803.3,719.8 803.9,721.4 804.5,720.7 805.1,721.3 805.7,721.4 806.4,720.5 807.0,721.5 807.6,720.2 808.2,720.5 808.8,721.3 809.4,720.1 810.0,720.0 810.7,721.2 811.3,721.6 811.9,721.5 812.5,720.6 813.1,721.6 813.7,722.1 814.3,721.3 815.0,720.8 815.6,719.3 816.2,721.8 816.8,720.9 817.4,721.3 818.0,720.0 818.6,722.4 819.3,720.1 819.9,721.5 820.5,719.8 821.1,720.9 821.7,721.8 822.3,720.6 822.9,721.1 823.6,720.4 824.2,722.3 824.8,720.6 825.4,719.8 826.0,721.3 826.6,721.4 827.2,721.2 827.9,721.5 828.5,720.5 829.1,721.3 829.7,718.7 830.3,721.6 830.9,722.4 831.5,720.2 832.2,722.4 832.8,721.1 833.4,721.2 834.0,718.8 834.6,721.4 835.2,722.0 835.8,720.6 836.5,723.3 837.1,721.8 837.7,721.5 838.3,722.0 838.9,720.2 839.5,721.4 840.1,720.5 840.8,720.6 841.4,721.4 842.0,721.3 842.6,721.4 843.2,721.6 843.8,722.4 844.4,720.7 845.1,720.7 845.7,721.8 846.3,722.5 846.9,721.4 847.5,721.1 848.1,722.6 848.7,721.8 849.4,721.4 850.0,721.5 850.6,720.3 851.2,721.2 851.8,720.0 852.4,721.9 853.0,721.9 853.7,721.3 854.3,722.3 854.9,721.1 855.5,721.8 856.1,721.0 856.7,721.7 857.3,720.9 857.9,721.9 858.6,720.7 859.2,719.7 859.8,722.2 860.4,723.1 861.0,720.6 861.6,721.7 862.2,721.4 862.9,722.1 863.5,722.3 864.1,721.5 864.7,721.1 865.3,722.5 865.9,721.1 866.5,720.9 867.2,721.4 867.8,720.4 868.4,719.8 869.0,722.2 869.6,722.3 870.2,721.2 870.8,721.7 871.5,721.4 872.1,722.3 872.7,721.1 873.3,721.6 873.9,719.7 874.5,720.3 875.1,721.6 875.8,722.4 876.4,722.6 877.0,721.0 877.6,718.6 878.2,722.5 878.8,721.1 879.4,721.2 880.1,722.0 880.7,721.5 881.3,720.3 881.9,719.7 882.5,720.5 883.1,721.2 883.7,720.6 884.4,720.2 885.0,720.5 885.6,721.3 886.2,721.7 886.8,721.2 887.4,721.4 888.0,720.7 888.7,720.5 889.3,721.3 889.9,722.3 890.5,722.3 891.1,721.6 891.7,720.7 892.3,721.7 893.0,721.2 893.6,720.9 894.2,721.5 894.8,722.1 895.4,719.5 896.0,721.4 896.6,722.4 897.3,720.2 897.9,721.9 898.5,720.8 899.1,722.2 899.7,720.8 900.3,720.1 900.9,720.9 901.6,721.4 902.2,722.4 902.8,720.8 903.4,720.7 904.0,721.6 904.6,722.1 905.2,720.5 905.9,723.0 906.5,720.6 907.1,720.0 907.7,721.4 908.3,721.3 908.9,720.9 909.5,721.2 910.1,721.7 910.8,720.5 911.4,721.1 912.0,720.8 912.6,721.4 913.2,720.8 913.8,721.3 914.4,720.9 915.1,720.9 915.7,722.1 916.3,722.5 916.9,721.4 917.5,720.3 918.1,721.4 918.7,721.9 919.4,721.4 920.0,720.0 920.6,721.1 921.2,720.3 921.8,721.1 922.4,720.9 923.0,721.4 923.7,719.7 924.3,721.6 924.9,720.1 925.5,720.0 926.1,719.4 926.7,719.8 927.3,722.0 928.0,721.3 928.6,721.0 929.2,720.7 929.8,720.7 930.4,720.1 931.0,721.3 931.6,720.4 932.3,719.9 932.9,720.5 933.5,721.2 934.1,721.1 934.7,719.0 935.3,721.6 935.9,720.3 936.6,720.9 937.2,722.1 937.8,721.2 938.4,721.0 939.0,722.3 939.6,721.4 940.2,721.7 940.9,720.3 941.5,720.2 942.1,719.5 942.7,719.6 943.3,719.6 943.9,720.2 944.5,721.0 945.2,720.5 945.8,719.4 946.4,718.3 947.0,720.5 947.6,720.4 948.2,720.8 948.8,719.4 949.5,718.9 950.1,719.5 950.7,720.7 951.3,719.4 951.9,721.3 952.5,719.1 953.1,719.2 953.8,719.7 954.4,719.3 955.0,720.1 955.6,719.6 956.2,719.7 956.8,720.7 957.4,718.7 958.1,720.1 958.7,718.9 959.3,719.6 959.9,718.8 960.5,720.7 961.1,717.9 961.7,718.3 962.4,718.4 963.0,716.7 963.6,717.5 964.2,718.1 964.8,718.0 965.4,718.0 966.0,717.4 966.6,717.8 967.3,716.5 967.9,716.4 968.5,715.5 969.1,715.0 969.7,715.7 970.3,714.9 970.9,715.2 971.6,713.0 972.2,713.8 972.8,712.8 973.4,711.1 974.0,709.8 974.6,708.7 975.2,706.5 975.9,705.6 976.5,703.9 977.1,702.3 977.7,699.7 978.3,696.5 978.9,694.2 979.5,690.5 980.2,686.6 980.8,681.3 981.4,677.5 982.0,672.4 982.6,669.7 983.2,665.7 983.8,664.0 984.5,662.7 985.1,663.5 985.7,662.7 986.3,665.1 986.9,668.0 987.5,670.5 988.1,674.3 988.8,677.9 989.4,680.5 990.0,686.6 990.6,690.2 991.2,693.6 991.8,696.2 992.4,698.9 993.1,701.5 993.7,704.4 994.3,706.8 994.9,706.7 995.5,708.5 996.1,709.4 996.7,710.8 997.4,710.7 998.0,711.2 998.6,713.3 999.2,713.9 999.8,715.1 1000.4,715.2 1001.0,715.0 1001.7,715.9 1002.3,715.7 1002.9,716.2 1003.5,716.8 1004.1,716.3 1004.7,717.0 1005.3,718.3 1006.0,718.6 1006.6,718.7 1007.2,719.0 1007.8,718.8 1008.4,719.1 1009.0,718.7 1009.6,717.5 1010.3,718.2 1010.9,719.6 1011.5,718.5 1012.1,719.4 1012.7,719.1 1013.3,719.0 1013.9,719.9 1014.6,720.1 1015.2,719.4 1015.8,719.8 1016.4,720.4 1017.0,718.9 1017.6,720.6 1018.2,719.8 1018.8,720.6 1019.5,721.2 1020.1,719.5 1020.7,721.7 1021.3,719.5 1021.9,718.7 1022.5,719.5 1023.1,721.2 1023.8,721.2 1024.4,721.4 1025.0,720.7 1025.6,719.6 1026.2,720.8 1026.8,721.8 1027.4,720.4 1028.1,720.5 1028.7,720.1 1029.3,720.2 1029.9,720.6 1030.5,720.7 1031.1,720.4 1031.7,720.2 1032.4,719.8 1033.0,721.0 1033.6,721.1 1034.2,720.6 1034.8,720.6 1035.4,720.3 1036.0,722.8 1036.7,720.7 1037.3,721.5 1037.9,719.9 1038.5,721.3 1039.1,720.2 1039.7,721.2 1040.3,721.6 1041.0,721.9 1041.6,721.1 1042.2,721.1 1042.8,722.2 1043.4,721.3 1044.0,721.2 1044.6,722.3 1045.3,721.8 1045.9,720.7 1046.5,721.7 1047.1,720.4 1047.7,720.8 1048.3,720.6 1048.9,722.7 1049.6,722.0 1050.2,722.1 1050.8,721.8 1051.4,722.3 1052.0,720.6 1052.6,721.3 1053.2,722.9 1053.9,721.1 1054.5,721.6 1055.1,720.3 1055.7,720.9 1056.3,720.3 1056.9,722.5 1057.5,721.0 1058.2,720.7 1058.8,721.1 1059.4,721.6 1060.0,721.0 1060.6,720.6 1061.2,721.0 1061.8,722.2 1062.5,720.6 1063.1,720.1 1063.7,721.1 1064.3,720.6 1064.9,721.7 1065.5,721.5 1066.1,721.9 1066.8,720.8 1067.4,719.7 1068.0,720.8 1068.6,721.2 1069.2,720.7 1069.8,722.7 1070.4,720.8 1071.0,721.6 1071.7,721.6 1072.3,723.3 1072.9,721.6 1073.5,720.9 1074.1,721.6 1074.7,721.0 1075.3,721.1 1076.0,721.2 1076.6,722.3 1077.2,721.6 1077.8,723.4 1078.4,723.0 1079.0,722.4 1079.6,722.3 1080.3,722.3 1080.9,721.1 1081.5,721.6 1082.1,721.8 1082.7,722.4 1083.3,721.5 1083.9,721.5 1084.6,721.0 1085.2,723.2 1085.8,721.9 1086.4,720.8 1087.0,722.0 1087.6,721.4 1088.2,721.1 1088.9,721.7 1089.5,721.6 1090.1,722.0 1090.7,720.9 1091.3,721.2 1091.9,721.6 1092.5,721.4 1093.2,722.1 1093.8,720.8 1094.4,719.8 1095.0,721.5 1095.6,722.3 1096.2,721.8 1096.8,721.1 1097.5,721.9 1098.1,722.4 1098.7,721.9 1099.3,722.6 1099.9,722.1 1100.5,721.7 1101.1,720.9 1101.8,721.9 1102.4,722.8 1103.0,721.7 1103.6,721.6 1104.2,721.3 1104.8,721.2 1105.4,722.3 1106.1,722.2 1106.7,722.2 1107.3,722.0 1107.9,722.6 1108.5,720.2 1109.1,721.7 1109.7,721.5 1110.4,720.7 1111.0,720.8 1111.6,720.9 1112.2,720.2 1112.8,721.8 1113.4,721.2 1114.0,723.3 1114.7,722.0 1115.3,721.3 1115.9,720.8 1116.5,721.7 1117.1,721.2 1117.7,722.3 1118.3,721.6 1119.0,720.7 1119.6,722.2 1120.2,721.9 1120.8,721.1 1121.4,723.2 1122.0,720.0 1122.6,721.3 1123.2,722.7 1123.9,721.7 1124.5,723.3 1125.1,720.4 1125.7,721.3 1126.3,721.5 1126.9,720.8 1127.5,721.3 1128.2,722.0 1128.8,721.7 1129.4,721.0 1130.0,721.4 1130.6,720.7 1131.2,721.8 1131.8,721.1 1132.5,720.8 1133.1,722.6 1133.7,721.1 1134.3,721.7 1134.9,720.3 1135.5,722.1 1136.1,722.8 1136.8,722.1 1137.4,720.5 1138.0,721.4 1138.6,721.6 1139.2,721.8 1139.8,721.4 1140.4,722.1 1141.1,722.8 1141.7,721.8 1142.3,722.9 1142.9,722.7 1143.5,721.3 1144.1,721.7 1144.7,721.1 1145.4,721.8 1146.0,721.8 1146.6,722.4 1147.2,721.3 1147.8,721.8 1148.4,722.6 1149.0,720.7 1149.7,721.6 1150.3,721.5 1150.9,721.8 1151.5,722.3 1152.1,721.6 1152.7,722.2 1153.3,721.6 1154.0,722.8 1154.6,721.8 1155.2,722.2 1155.8,721.4 1156.4,721.1 1157.0,720.6 1157.6,722.9 1158.3,722.7 1158.9,721.7 1159.5,721.3 1160.1,720.3 1160.7,720.4 1161.3,720.9 1161.9,721.0 1162.6,722.6 1163.2,721.2 1163.8,721.5 1164.4,722.1 1165.0,721.8 1165.6,723.3 1166.2,720.8 1166.9,722.2 1167.5,722.4 1168.1,721.7 1168.7,721.4 1169.3,722.1 1169.9,721.5 1170.5,722.0 1171.2,721.9 1171.8,721.1 1172.4,722.8 1173.0,721.8 1173.6,721.9 1174.2,721.8 1174.8,720.8 1175.4,719.9 1176.1,722.4 1176.7,721.6 1177.3,721.1 1177.9,721.1 1178.5,721.5 1179.1,721.2 1179.7,720.4 1180.4,721.5 1181.0,721.5 1181.6,721.1 1182.2,722.8 1182.8,721.7 1183.4,722.2 1184.0,721.8 1184.7,720.7 1185.3,720.7 1185.9,720.8 1186.5,721.6 1187.1,721.0 1187.7,722.3 1188.3,722.3 1189.0,721.2 1189.6,721.4 1190.2,721.3 1190.8,722.4 1191.4,721.8 1192.0,722.4 1192.6,722.0 1193.3,722.2 1193.9,722.6 1194.5,722.9 1195.1,722.1 1195.7,721.7 1196.3,720.9 1196.9,721.0 1197.6,722.0 1198.2,721.3 1198.8,721.1 1199.4,721.1 1200.0,722.5 1200.6,720.6 1201.2,721.3 1201.9,720.3 1202.5,723.0 1203.1,720.7 1203.7,720.0 1204.3,720.6 1204.9,721.6 1205.5,721.9 1206.2,721.3 1206.8,720.6 1207.4,721.0 1208.0,723.0 1208.6,721.6 1209.2,723.0 1209.8,723.6 1210.5,721.2 1211.1,721.4 1211.7,722.4 1212.3,721.5 1212.9,721.7 1213.5,721.1 1214.1,722.8 1214.8,722.1 1215.4,720.6 1216.0,720.2 1216.6,721.7 1217.2,720.9 1217.8,720.9 1218.4,721.4 1219.1,720.8 1219.7,721.5 1220.3,720.9 1220.9,722.1 1221.5,720.6 1222.1,721.7 1222.7,721.7 1223.4,721.4 1224.0,720.2 1224.6,719.9 1225.2,720.9 1225.8,721.2 1226.4,720.4 1227.0,719.7 1227.7,719.7 1228.3,720.4 1228.9,720.1 1229.5,720.3 1230.1,719.5 1230.7,720.3 1231.3,720.6 1231.9,719.8 1232.6,719.8 1233.2,720.8 1233.8,719.6 1234.4,718.7 1235.0,719.2 1235.6,718.2 1236.2,720.2 1236.9,719.7 1237.5,719.7 1238.1,719.7 1238.7,717.9 1239.3,719.3 1239.9,718.5 1240.5,717.3 1241.2,717.7 1241.8,718.1 1242.4,716.7 1243.0,715.6 1243.6,714.9 1244.2,716.1 1244.8,715.7 1245.5,714.1 1246.1,714.3 1246.7,712.6 1247.3,710.5 1247.9,711.1 1248.5,708.8 1249.1,707.4 1249.8,706.9 1250.4,704.8 1251.0,701.9 1251.6,702.4 1252.2,700.2 1252.8,697.5 1253.4,693.0 1254.1,691.6 1254.7,687.8 1255.3,686.3 1255.9,684.5 1256.5,685.2 1257.1,683.2 1257.7,683.6 1258.4,684.4 1259.0,684.5 1259.6,686.4 1260.2,688.3 1260.8,690.2 1261.4,691.1 1262.0,694.2 1262.7,696.0 1263.3,695.9 1263.9,700.7 1264.5,701.3 1265.1,703.1 1265.7,706.3 1266.3,708.5 1267.0,707.5 1267.6,710.7 1268.2,711.1 1268.8,712.0 1269.4,713.6 1270.0,713.9 1270.6,715.8 1271.3,715.5 1271.9,715.4 1272.5,714.3 1273.1,717.4 1273.7,717.1 1274.3,716.2 1274.9,716.7 1275.6,717.4 1276.2,718.5 1276.8,717.4 1277.4,717.5 1278.0,718.3 1278.6,718.4 1279.2,718.0 1279.9,718.4 1280.5,719.9 1281.1,719.4 1281.7,719.2 1282.3,720.2 1282.9,719.0 1283.5,719.0 1284.1,719.0 1284.8,719.3 1285.4,719.8 1286.0,721.0 1286.6,721.2 1287.2,720.7 1287.8,720.3 1288.4,719.3 1289.1,719.0 1289.7,720.8 1290.3,719.4 1290.9,722.0 1291.5,721.6 1292.1,720.1 1292.7,720.6 1293.4,721.5 1294.0,720.6 1294.6,721.1 1295.2,720.7 1295.8,720.8 1296.4,720.0 1297.0,721.3 1297.7,721.1 1298.3,719.9 1298.9,721.5 1299.5,720.7 1300.1,720.5 1300.7,721.7 1301.3,720.1 1302.0,720.7 1302.6,721.7 1303.2,721.4 1303.8,721.5 1304.4,722.1 1305.0,721.0 1305.6,721.3 1306.3,721.7 1306.9,721.5 1307.5,720.8 1308.1,720.8 1308.7,720.9 1309.3,720.7 1309.9,720.1 1310.6,722.9 1311.2,721.9 1311.8,720.2 1312.4,719.0 1313.0,721.4 1313.6,722.4 1314.2,720.9 1314.9,721.6 1315.5,721.1 1316.1,719.7 1316.7,721.4 1317.3,721.4 1317.9,720.8 1318.5,720.4 1319.2,720.8 1319.8,720.1 1320.4,720.8 1321.0,720.5 1321.6,719.2 1322.2,720.5 1322.8,720.3 1323.5,720.5 1324.1,720.5 1324.7,720.1 1325.3,719.9 1325.9,720.8 1326.5,719.5 1327.1,720.3 1327.8,719.8 1328.4,718.3 1329.0,719.0 1329.6,718.6 1330.2,718.8 1330.8,719.7 1331.4,717.8 1332.1,719.6 1332.7,718.3 1333.3,718.4 1333.9,717.3 1334.5,717.8 1335.1,717.0 1335.7,715.9 1336.3,715.0 1337.0,715.9 1337.6,714.9 1338.2,714.3 1338.8,714.6 1339.4,715.4 1340.0,714.7 1340.6,714.8 1341.3,713.2 1341.9,716.7 1342.5,714.1 1343.1,714.1 1343.7,716.5 1344.3,715.2 1344.9,717.0 1345.6,718.0 1346.2,718.0 1346.8,718.0 1347.4,717.3 1348.0,718.0 1348.6,718.3 1349.2,718.3 1349.9,718.6 1350.5,719.0 1351.1,720.6 1351.7,721.2 1352.3,720.8 1352.9,720.9 1353.5,719.5 1354.2,720.2 1354.8,720.8 1355.4,719.6 1356.0,721.2 1356.6,721.3 1357.2,721.5 1357.8,720.8 1358.5,721.8 1359.1,721.0 1359.7,720.6 1360.3,721.9 1360.9,721.1 1361.5,720.2 1362.1,721.2 1362.8,721.7 1363.4,720.7 1364.0,721.7 1364.6,721.5 1365.2,720.2 1365.8,722.1 1366.4,720.5 1367.1,721.6 1367.7,720.8 1368.3,721.3 1368.9,721.8 1369.5,722.3 1370.1,721.9 1370.7,721.6 1371.4,721.2 1372.0,722.6 1372.6,722.8 1373.2,719.9 1373.8,721.2 1374.4,721.9 1375.0,722.1 1375.7,721.2 1376.3,721.4 1376.9,720.9 1377.5,721.8 1378.1,721.9 1378.7,721.2 1379.3,720.4 1380.0,721.1 1380.6,721.5 1381.2,722.1 1381.8,721.6 1382.4,720.6 1383.0,721.5 1383.6,721.2 1384.3,721.7 1384.9,721.9 1385.5,722.1 1386.1,721.9 1386.7,722.2 1387.3,722.0 1387.9,721.5 1388.5,720.2 1389.2,723.7 1389.8,721.7 1390.4,721.7 1391.0,723.1 1391.6,722.7 1392.2,721.3 1392.8,721.9 1393.5,721.0 1394.1,722.4 1394.7,722.1 1395.3,722.3 1395.9,722.6 1396.5,722.0 1397.1,721.1 1397.8,721.6 1398.4,721.8 1399.0,722.5 1399.6,721.5 1400.2,720.2 1400.8,722.7 1401.4,722.0 1402.1,721.0 1402.7,721.7 1403.3,721.7 1403.9,722.3 1404.5,722.8 1405.1,722.0 1405.7,722.1 1406.4,722.0 1407.0,721.8 1407.6,721.1 1408.2,722.4 1408.8,721.3 1409.4,721.5 1410.0,721.6 1410.7,722.1 1411.3,720.6 1411.9,721.8 1412.5,721.4 1413.1,722.0 1413.7,722.2 1414.3,721.0 1415.0,722.9 1415.6,722.5 1416.2,721.1 1416.8,721.8 1417.4,723.3 1418.0,723.3 1418.6,721.0 1419.3,720.8 1419.9,722.0 1420.5,722.0 1421.1,721.1 1421.7,720.2 1422.3,721.6 1422.9,721.8 1423.6,722.3 1424.2,722.2 1424.8,722.7 1425.4,721.7 1426.0,721.2 1426.6,721.4 1427.2,722.0 1427.9,721.0 1428.5,720.9 1429.1,722.0 1429.7,721.3 1430.3,722.1 1430.9,722.2 1431.5,721.9 1432.2,722.0 1432.8,721.6 1433.4,721.1 1434.0,721.9 1434.6,722.2 1435.2,721.6 1435.8,721.3 1436.5,720.7 1437.1,723.1 1437.7,721.8 1438.3,723.1 1438.9,720.7 1439.5,721.3 1440.1,721.1 1440.7,721.8 1441.4,721.2 1442.0,721.0 1442.6,723.1 1443.2,721.9 1443.8,722.5 1444.4,722.4 1445.0,721.0 1445.7,721.5 1446.3,720.0 1446.9,720.1 1447.5,722.2 1448.1,722.4 1448.7,720.9 1449.3,721.2 1450.0,721.1 1450.6,721.6 1451.2,722.0 1451.8,722.9 1452.4,721.3 1453.0,720.1 1453.6,720.2 1454.3,720.1 1454.9,723.1 1455.5,722.8 1456.1,722.0 1456.7,722.5 1457.3,721.3 1457.9,721.9 1458.6,721.9 1459.2,722.4 1459.8,721.8 1460.4,723.0 1461.0,721.0 1461.6,721.6 1462.2,720.5 1462.9,722.7 1463.5,720.9 1464.1,721.3 1464.7,722.3 1465.3,720.6 1465.9,723.4 1466.5,721.9 1467.2,721.7 1467.8,721.4 1468.4,721.7 1469.0,721.0 1469.6,722.5 1470.2,722.0 1470.8,721.8 1471.5,721.2 1472.1,721.6 1472.7,722.1 1473.3,722.2 1473.9,722.4 1474.5,720.5 1475.1,721.9 1475.8,721.0 1476.4,721.9 1477.0,721.7 1477.6,721.0 1478.2,721.0 1478.8,722.8 1479.4,722.2 1480.1,721.1 1480.7,721.3 1481.3,722.6 1481.9,721.3 1482.5,722.3 1483.1,722.0 1483.7,721.4 1484.4,722.1 1485.0,722.8 1485.6,722.1 1486.2,722.6 1486.8,720.9 1487.4,721.8 1488.0,721.9 1488.7,721.7 1489.3,721.1 1489.9,721.7 1490.5,722.7 1491.1,721.4 1491.7,721.3 1492.3,721.4 1492.9,721.1 1493.6,720.5 1494.2,722.7 1494.8,721.0 1495.4,721.8 1496.0,720.1 1496.6,722.6 1497.2,723.0 1497.9,721.4 1498.5,722.9 1499.1,722.3 1499.7,722.1 1500.3,722.6 1500.9,721.6 1501.5,721.7 1502.2,721.6 1502.8,722.4 1503.4,720.6 1504.0,722.0 1504.6,721.5 1505.2,721.2 1505.8,723.2 1506.5,723.6 1507.1,721.2 1507.7,721.5 1508.3,720.4 1508.9,720.1 1509.5,721.2 1510.1,722.6 1510.8,720.5 1511.4,722.3 1512.0,722.1 1512.6,721.8 1513.2,722.7 1513.8,723.7 1514.4,721.3 1515.1,721.7 1515.7,722.7 1516.3,720.4 1516.9,721.4 1517.5,721.6 1518.1,722.4 1518.7,721.8 1519.4,721.7 1520.0,721.9 1520.6,721.8 1521.2,721.4 1521.8,721.4 1522.4,721.3 1523.0,721.3 1523.7,721.9 1524.3,722.8 1524.9,722.4 1525.5,721.4 1526.1,722.4 1526.7,721.6 1527.3,721.4 1528.0,723.1 1528.6,721.9 1529.2,721.1 1529.8,722.9 1530.4,722.1 1531.0,722.8 1531.6,721.7 1532.3,720.8 1532.9,719.4 1533.5,722.7 1534.1,723.5 1534.7,721.4 1535.3,721.9 1535.9,722.2 1536.6,722.4 1537.2,722.7 1537.8,722.3 1538.4,722.0 1539.0,720.4 1539.6,721.5 1540.2,722.0 1540.9,723.0 1541.5,722.2 1542.1,721.4 1542.7,722.5 1543.3,722.1 1543.9,720.7 1544.5,721.9 1545.2,722.4 1545.8,721.1 1546.4,721.8 1547.0,721.5 1547.6,722.9 1548.2,722.2 1548.8,722.9 1549.4,721.3 1550.1,720.8 1550.7,722.4 1551.3,721.3 1551.9,723.3 1552.5,720.7 1553.1,721.2 1553.7,720.7 1554.4,722.5 1555.0,722.4 1555.6,721.3 1556.2,720.7 1556.8,721.5 1557.4,721.6 1558.0,720.3 1558.7,722.3 1559.3,720.3 1559.9,722.1 1560.5,722.9 1561.1,721.2 1561.7,721.3 1562.3,721.0 1563.0,722.3 1563.6,721.3 1564.2,720.1 1564.8,719.9 1565.4,720.7 1566.0,720.8 1566.6,721.3 1567.3,722.0 1567.9,722.1 1568.5,722.7 1569.1,722.2 1569.7,721.8 1570.3,722.6 1570.9,722.4 1571.6,721.3 1572.2,720.8 1572.8,722.2 1573.4,721.0 1574.0,721.1 1574.6,721.9 1575.2,722.6 1575.9,722.8 1576.5,721.1 1577.1,721.6 1577.7,719.7 1578.3,721.5 1578.9,722.1 1579.5,721.2 1580.2,720.3 1580.8,720.9 1581.4,722.6 1582.0,720.9 1582.6,722.5 1583.2,721.9 1583.8,721.5 1584.5,721.8 1585.1,720.8 1585.7,721.4 1586.3,721.9 1586.9,722.4 1587.5,721.4 1588.1,720.0 1588.8,721.6 1589.4,722.9 1590.0,722.2 1590.6,721.8 1591.2,720.2 1591.8,722.3 1592.4,721.6 1593.1,722.8 1593.7,720.4 1594.3,721.7 1594.9,721.3 1595.5,721.5 1596.1,721.3 1596.7,720.6 1597.4,721.8 1598.0,721.7 1598.6,722.4 1599.2,721.6 1599.8,721.7 1600.4,721.6 1601.0,722.0 1601.6,722.4 1602.3,719.8 1602.9,721.1 1603.5,721.8 1604.1,721.1 1604.7,721.5 1605.3,722.1 1605.9,723.6 1606.6,722.2 1607.2,722.0 1607.8,719.7 1608.4,721.3 1609.0,719.0 1609.6,722.4 1610.2,721.5 1610.9,721.2 1611.5,722.4 1612.1,721.4 1612.7,721.3 1613.3,721.2 1613.9,720.7 1614.5,721.0 1615.2,721.3 1615.8,721.7 1616.4,721.5 1617.0,722.1 1617.6,721.2 1618.2,722.3 1618.8,722.2 1619.5,720.9 1620.1,721.7 1620.7,721.5 1621.3,722.2 1621.9,722.1 1622.5,721.5 1623.1,722.9 1623.8,721.9 1624.4,720.0 1625.0,719.8 1625.6,722.8 1626.2,721.3 1626.8,721.6 1627.4,720.6 1628.1,720.9 1628.7,720.0 1629.3,721.8 1629.9,720.0 1630.5,721.2 1631.1,720.5 1631.7,720.7 1632.4,720.9 1633.0,720.6 1633.6,720.1 1634.2,720.3 1634.8,721.2 1635.4,720.1 1636.0,720.8 1636.7,721.3 1637.3,720.2 1637.9,720.6 1638.5,721.2 1639.1,720.6 1639.7,720.9 1640.3,721.2 1641.0,720.2 1641.6,719.9 1642.2,720.6 1642.8,719.3 1643.4,721.5 1644.0,719.3 1644.6,716.9 1645.3,720.9 1645.9,719.3 1646.5,718.6 1647.1,719.1 1647.7,719.5 1648.3,719.2 1648.9,718.1 1649.6,717.4 1650.2,716.9 1650.8,717.6 1651.4,716.4 1652.0,716.2 1652.6,715.7 1653.2,714.4 1653.8,714.8 1654.5,713.4 1655.1,714.5 1655.7,713.9 1656.3,714.6 1656.9,713.5 1657.5,712.4 1658.1,713.4 1658.8,714.0 1659.4,713.3 1660.0,713.7 1660.6,713.4 1661.2,713.9 1661.8,714.5 1662.4,715.0 1663.1,714.8 1663.7,716.1 1664.3,716.7 1664.9,715.6 1665.5,717.4 1666.1,715.7 1666.7,717.5 1667.4,717.8 1668.0,718.4 1668.6,718.7 1669.2,717.3 1669.8,719.3 1670.4,719.4 1671.0,719.0 1671.7,719.3 1672.3,720.1 1672.9,720.4 1673.5,720.2 1674.1,719.5 1674.7,720.6 1675.3,719.8 1676.0,720.9 1676.6,720.1 1677.2,721.3 1677.8,720.2 1678.4,721.2 1679.0,720.6 1679.6,721.9 1680.3,721.2 1680.9,721.7 1681.5,719.9 1682.1,721.6 1682.7,720.2 1683.3,720.8 1683.9,720.8 1684.6,721.5 1685.2,720.3 1685.8,722.3 1686.4,722.4 1687.0,722.5 1687.6,721.1 1688.2,721.6 1688.9,720.6 1689.5,720.5 1690.1,722.2 1690.7,721.2 1691.3,722.2 1691.9,721.1 1692.5,722.7 1693.2,721.9 1693.8,723.0 1694.4,720.6 1695.0,721.4 1695.6,722.6 1696.2,721.3 1696.8,720.6 1697.5,720.7 1698.1,719.5 1698.7,721.9 1699.3,720.9 1699.9,721.1 1700.5,720.8 1701.1,721.6 1701.8,721.9 1702.4,722.2 1703.0,721.9 1703.6,722.4 1704.2,721.9 1704.8,721.6 1705.4,720.9 1706.0,722.3 1706.7,721.1 1707.3,722.3 1707.9,721.0 1708.5,721.4 1709.1,721.0 1709.7,721.9 1710.3,721.6 1711.0,721.8 1711.6,721.4 1712.2,720.2 1712.8,721.8 1713.4,721.2 1714.0,721.7 1714.6,721.0 1715.3,722.8 1715.9,722.2 1716.5,723.4 1717.1,721.7 1717.7,722.5 1718.3,722.5 1718.9,722.8 1719.6,720.9 1720.2,720.3 1720.8,721.7 1721.4,722.0 1722.0,721.9 1722.6,721.0 1723.2,721.5 1723.9,721.9 1724.5,721.1 1725.1,720.8 1725.7,720.1 1726.3,720.9 1726.9,721.2 1727.5,720.9 1728.2,722.1 1728.8,722.0 1729.4,721.9 1730.0,720.5 1730.6,721.2 1731.2,721.6 1731.8,721.4 1732.5,720.9 1733.1,719.8 1733.7,721.7 1734.3,722.1 1734.9,720.4 1735.5,722.9 1736.1,720.8 1736.8,720.7 1737.4,721.2 1738.0,721.3 1738.6,719.7 1739.2,721.2 1739.8,721.4 1740.4,723.1 1741.1,721.4 1741.7,721.6 1742.3,720.8 1742.9,722.5 1743.5,720.2 1744.1,721.6 1744.7,721.6 1745.4,721.3 1746.0,721.4 1746.6,722.0 1747.2,721.4 1747.8,721.0 1748.4,721.4 1749.0,721.8 1749.7,720.9 1750.3,720.3 1750.9,722.5 1751.5,722.0 1752.1,720.9 1752.7,721.5 1753.3,722.4 1754.0,721.2 1754.6,720.6 1755.2,720.9 1755.8,721.5 1756.4,720.6 1757.0,720.6 1757.6,721.9 1758.2,721.6 1758.9,721.4 1759.5,722.1 1760.1,722.2 1760.7,720.9 1761.3,721.4 1761.9,720.7 1762.5,722.4 1763.2,721.7 1763.8,721.6 1764.4,721.5 1765.0,720.5 1765.6,720.7 1766.2,719.6 1766.8,720.2 1767.5,722.6 1768.1,721.3 1768.7,720.4 1769.3,721.3 1769.9,720.7 1770.5,721.3 1771.1,720.4 1771.8,721.4 1772.4,721.6 1773.0,721.1 1773.6,721.0 1774.2,721.5 1774.8,721.6 1775.4,720.3 1776.1,720.1 1776.7,722.0 1777.3,720.5 1777.9,722.0 1778.5,721.3 1779.1,720.6 1779.7,721.6 1780.4,720.6 1781.0,722.2 1781.6,721.7 1782.2,722.2 1782.8,722.5 1783.4,721.5 1784.0,721.9 1784.7,722.4 1785.3,720.8 1785.9,720.8 1786.5,721.0 1787.1,721.5 1787.7,721.1 1788.3,721.3 1789.0,720.0 1789.6,720.5 1790.2,720.8 1790.8,721.4 1791.4,722.2 1792.0,721.6 1792.6,720.4 1793.3,722.0 1793.9,720.9 1794.5,722.0 1795.1,722.4 1795.7,720.9 1796.3,721.6 1796.9,722.0 1797.6,720.6 1798.2,720.9 1798.8,721.4 1799.4,722.8 1800.0,719.4 1800.6,722.6 1801.2,720.5 1801.9,720.3 1802.5,722.3 1803.1,721.7 1803.7,719.9 1804.3,721.8 1804.9,722.4 1805.5,721.3 1806.2,722.0 1806.8,720.7 1807.4,721.4 1808.0,722.4 1808.6,722.1 1809.2,720.4 1809.8,722.3 1810.4,721.7 1811.1,720.6 1811.7,721.2 1812.3,721.5 1812.9,721.5 1813.5,720.6 1814.1,721.9 1814.7,721.8 1815.4,722.0 1816.0,721.6 1816.6,722.1 1817.2,721.8 1817.8,721.4 1818.4,720.9 1819.0,722.2 1819.7,720.9 1820.3,720.6 1820.9,721.3 1821.5,721.9 1822.1,722.1 1822.7,722.5 1823.3,721.9 1824.0,721.0 1824.6,720.5 1825.2,721.8 1825.8,721.2 1826.4,720.8 1827.0,719.4 1827.6,720.6 1828.3,721.3 1828.9,720.7 1829.5,721.8 1830.1,721.3 1830.7,720.9 1831.3,721.1 1831.9,721.7 1832.6,720.4 1833.2,721.3 1833.8,720.8 1834.4,720.6 1835.0,722.1 1835.6,720.2 1836.2,721.8 1836.9,720.8 1837.5,720.5 1838.1,721.8 1838.7,720.9 1839.3,721.8 1839.9,722.8 1840.5,721.3 1841.2,721.8 1841.8,721.0 1842.4,720.9 1843.0,720.7 1843.6,721.4 1844.2,721.0 1844.8,721.1 1845.5,722.0 1846.1,721.4 1846.7,720.6 1847.3,720.1 1847.9,721.2 1848.5,721.8 1849.1,719.8 1849.8,720.9 1850.4,720.4 1851.0,720.5 1851.6,720.8 1852.2,719.8 1852.8,719.6 1853.4,720.0 1854.1,721.2 1854.7,720.2 1855.3,720.0 1855.9,721.6 1856.5,720.7 1857.1,720.1 1857.7,720.1 1858.4,721.6 1859.0,720.0 1859.6,719.5 1860.2,719.8 1860.8,719.9 1861.4,720.0 1862.0,718.0 1862.7,720.2 1863.3,718.3 1863.9,719.9 1864.5,718.7 1865.1,718.8 1865.7,719.0 1866.3,718.8 1866.9,718.1 1867.6,717.3 1868.2,717.9 1868.8,718.2 1869.4,717.9 1870.0,716.9 1870.6,717.9 1871.2,716.8 1871.9,717.5 1872.5,716.6 1873.1,714.6 1873.7,716.2 1874.3,714.0 1874.9,715.2 1875.5,713.6 1876.2,714.1 1876.8,712.9 1877.4,712.1 1878.0,710.7 1878.6,711.7 1879.2,710.1 1879.8,709.7 1880.5,710.8 1881.1,708.8 1881.7,708.9 1882.3,709.5 1882.9,709.2 1883.5,709.3 1884.1,709.1 1884.8,708.3 1885.4,710.7 1886.0,710.9 1886.6,711.1 1887.2,709.9 1887.8,710.2 1888.4,711.4 1889.1,711.4 1889.7,712.9 1890.3,713.3 1890.9,712.6 1891.5,714.2 1892.1,714.5 1892.7,713.7 1893.4,716.4 1894.0,715.8 1894.6,716.3 1895.2,716.9 1895.8,717.4 1896.4,717.0 1897.0,717.5 1897.7,717.5 1898.3,717.3 1898.9,720.0 1899.5,719.9 1900.1,719.8 1900.7,718.5 1901.3,718.2 1902.0,719.1 1902.6,720.0 1903.2,719.1 1903.8,719.4 1904.4,718.7 1905.0,718.6 1905.6,718.1 1906.3,719.4 1906.9,720.0 1907.5,720.4 1908.1,719.8 1908.7,720.7 1909.3,719.2 1909.9,719.9 1910.6,719.8 1911.2,721.0 1911.8,719.0 1912.4,719.4 1913.0,719.6 1913.6,720.0 1914.2,720.8 1914.9,719.5 1915.5,720.2 1916.1,720.1 1916.7,721.4 1917.3,720.0 1917.9,720.3 1918.5,720.7 1919.1,719.4 1919.8,720.2 1920.4,720.7 1921.0,719.8 1921.6,719.4 1922.2,721.0 1922.8,720.0 1923.4,720.8 1924.1,720.7 1924.7,720.3 1925.3,720.1 1925.9,720.7 1926.5,721.0 1927.1,720.7 1927.7,719.7 1928.4,720.2 1929.0,721.4 1929.6,721.2 1930.2,719.7 1930.8,719.4 1931.4,719.3 1932.0,720.2 1932.7,719.8 1933.3,720.4 1933.9,719.3 1934.5,720.2 1935.1,720.2 1935.7,721.2 1936.3,719.0 1937.0,718.8 1937.6,719.9 1938.2,719.1 1938.8,719.4 1939.4,718.5 1940.0,717.9 1940.6,718.3 1941.3,717.8 1941.9,718.1 1942.5,718.0 1943.1,717.7 1943.7,716.1 1944.3,717.5 1944.9,715.4 1945.6,716.4 1946.2,715.4 1946.8,715.6 1947.4,716.6 1948.0,714.2 1948.6,714.7 1949.2,715.2 1949.9,711.8 1950.5,714.5 1951.1,713.4 1951.7,712.0 1952.3,711.5 1952.9,711.5 1953.5,712.9 1954.2,712.8 1954.8,712.5 1955.4,712.0 1956.0,711.8 1956.6,711.8 1957.2,711.9 1957.8,712.6 1958.5,712.8 1959.1,712.7 1959.7,711.6 1960.3,712.7 1960.9,713.5 1961.5,714.1 1962.1,714.9 1962.8,714.6 1963.4,715.6 1964.0,715.7 1964.6,715.8 1965.2,717.1 1965.8,716.6 1966.4,715.9 1967.1,717.1 1967.7,717.5 1968.3,717.0 1968.9,718.9 1969.5,716.8 1970.1,720.1 1970.7,718.6 1971.3,718.7 1972.0,718.8 1972.6,719.8 1973.2,719.2 1973.8,719.8 1974.4,717.5 1975.0,719.5 1975.6,718.9 1976.3,718.6 1976.9,720.6 1977.5,719.3 1978.1,720.0 1978.7,720.9 1979.3,720.9 1979.9,721.8 1980.6,720.0 1981.2,720.7 1981.8,722.2 1982.4,719.5 1983.0,720.8 1983.6,719.5 1984.2,721.4 1984.9,721.5 1985.5,720.3 1986.1,720.8 1986.7,719.0 1987.3,720.1 1987.9,720.5 1988.5,719.9 1989.2,719.9 1989.8,721.6 1990.4,719.7 1991.0,720.6 1991.6,718.9 1992.2,721.9 1992.8,721.8 1993.5,719.8 1994.1,720.3 1994.7,719.4 1995.3,720.5 1995.9,721.1 1996.5,720.8 1997.1,721.3 1997.8,722.1 1998.4,722.9 1999.0,721.4 1999.6,721.5 2000.2,722.3 2000.8,721.1 2001.4,720.4 2002.1,721.1 2002.7,720.9 2003.3,721.6 2003.9,721.1 2004.5,722.1 2005.1,721.5 2005.7,721.4 2006.4,720.1 2007.0,721.4 2007.6,721.3 2008.2,719.9 2008.8,723.2 2009.4,720.7 2010.0,720.8 2010.7,721.9 2011.3,721.8 2011.9,720.8 2012.5,721.7 2013.1,720.7 2013.7,722.1 2014.3,721.8 2015.0,721.1 2015.6,721.9 2016.2,721.7 2016.8,722.0 2017.4,721.1 2018.0,722.1 2018.6,719.7 2019.3,721.3 2019.9,720.9 2020.5,722.5 2021.1,722.5 2021.7,722.5 2022.3,721.1 2022.9,721.3 2023.5,721.8 2024.2,722.2 2024.8,720.4 2025.4,722.8 2026.0,722.0 2026.6,721.4 2027.2,720.5 2027.8,720.8 2028.5,721.2 2029.1,720.7 2029.7,721.4 2030.3,720.4 2030.9,721.4 2031.5,721.3 2032.1,721.0 2032.8,720.4 2033.4,721.9 2034.0,721.8 2034.6,722.6 2035.2,720.2 2035.8,722.5 2036.4,720.9 2037.1,720.8 2037.7,721.3 2038.3,720.4 2038.9,721.7 2039.5,721.4 2040.1,721.8 2040.7,721.4 2041.4,721.6 2042.0,720.3 2042.6,721.3 2043.2,721.8 2043.8,721.5 2044.4,721.6 2045.0,721.2 2045.7,721.3 2046.3,722.8 2046.9,721.6 2047.5,720.7 2048.1,723.0 2048.7,722.6 2049.3,721.6 2050.0,723.2 2050.6,722.1 2051.2,722.7 2051.8,720.9 2052.4,722.7 2053.0,723.0 2053.6,722.4 2054.3,721.9 2054.9,722.2 2055.5,720.7 2056.1,720.0 2056.7,722.4 2057.3,722.2 2057.9,720.2 2058.6,721.9 2059.2,722.1 2059.8,721.7 2060.4,720.8 2061.0,721.7 2061.6,721.6 2062.2,721.2 2062.9,722.6 2063.5,722.5 2064.1,720.6 2064.7,721.1 2065.3,720.5 2065.9,720.6 2066.5,722.2 2067.2,722.2 2067.8,721.8 2068.4,723.2 2069.0,721.2 2069.6,720.5 2070.2,720.5 2070.8,722.0 2071.5,722.2 2072.1,723.8 2072.7,722.0 2073.3,722.2 2073.9,721.8 2074.5,720.8 2075.1,721.7 2075.7,722.0 2076.4,721.5 2077.0,720.8 2077.6,721.6 2078.2,722.0 2078.8,722.6 2079.4,719.9 2080.0,722.2 2080.7,722.1 2081.3,721.0 2081.9,720.7 2082.5,721.8 2083.1,721.2 2083.7,722.1 2084.3,721.2 2085.0,721.7 2085.6,722.6 2086.2,720.4 2086.8,721.6 2087.4,721.6 2088.0,720.9 2088.6,722.0 2089.3,720.1 2089.9,722.1 2090.5,721.5 2091.1,721.9 2091.7,721.7 2092.3,720.9 2092.9,722.1 2093.6,720.3 2094.2,721.1 2094.8,720.4 2095.4,721.0 2096.0,721.7 2096.6,722.1 2097.2,721.5 2097.9,721.2 2098.5,720.9 2099.1,722.6 2099.7,721.0 2100.3,721.9 2100.9,720.7 2101.5,722.4 2102.2,721.9 2102.8,721.1 2103.4,721.5 2104.0,721.9 2104.6,721.4 2105.2,722.3 2105.8,720.4 2106.5,720.9 2107.1,721.1 2107.7,720.3 2108.3,722.1 2108.9,721.6 2109.5,721.7 2110.1,720.7 2110.8,721.6 2111.4,721.1 2112.0,723.3 2112.6,721.5 2113.2,722.9 2113.8,721.2 2114.4,721.1 2115.1,721.3 2115.7,721.9 2116.3,722.2 2116.9,721.3 2117.5,722.5 2118.1,721.4 2118.7,721.6 2119.4,720.3 2120.0,722.1 2120.6,721.4 2121.2,721.1 2121.8,722.5 2122.4,722.0 2123.0,722.2 2123.7,719.7 2124.3,721.9 2124.9,721.2 2125.5,720.3 2126.1,721.8 2126.7,721.6 2127.3,722.3 2127.9,722.4 2128.6,723.4 2129.2,722.0 2129.8,721.9 2130.4,722.4 2131.0,721.1 2131.6,721.3 2132.2,722.4 2132.9,720.6 2133.5,721.6 2134.1,720.2 2134.7,720.2 2135.3,721.9 2135.9,722.5 2136.5,721.9 2137.2,721.2 2137.8,720.4 2138.4,721.9 2139.0,721.0 2139.6,720.6 2140.2,722.1 2140.8,720.5 2141.5,722.1 2142.1,721.5 2142.7,721.1 2143.3,722.1 2143.9,721.9 2144.5,721.4 2145.1,721.4 2145.8,721.8 2146.4,721.4 2147.0,721.7 2147.6,721.3 2148.2,721.8 2148.8,721.5 2149.4,721.8 2150.1,722.6 2150.7,720.2 2151.3,720.8 2151.9,722.0 2152.5,720.6 2153.1,723.5 2153.7,721.0 2154.4,721.2 2155.0,721.2 2155.6,720.9 2156.2,721.0 2156.8,720.6 2157.4,722.0 2158.0,722.1 2158.7,721.3 2159.3,721.6 2159.9,721.2 2160.5,722.0 2161.1,721.1 2161.7,721.2 2162.3,721.5 2163.0,722.5 2163.6,720.8 2164.2,722.0 2164.8,719.3 2165.4,722.8 2166.0,721.0 2166.6,721.5 2167.3,721.0 2167.9,720.7 2168.5,720.6 2169.1,721.3 2169.7,722.3 2170.3,721.0 2170.9,721.3 2171.6,722.2 2172.2,722.5 2172.8,721.9 2173.4,721.5 2174.0,722.1 2174.6,721.7 2175.2,721.2 2175.9,720.4 2176.5,721.2 2177.1,721.8 2177.7,722.6 2178.3,723.1 2178.9,721.8 2179.5,722.0 2180.2,720.7 2180.8,720.1 2181.4,722.1 2182.0,722.5 2182.6,721.2 2183.2,721.8 2183.8,721.1 2184.4,721.3 2185.1,721.7 2185.7,721.6 2186.3,722.6 2186.9,722.4 2187.5,721.5 2188.1,720.9 2188.7,722.0 2189.4,720.1 2190.0,720.7 2190.6,720.6 2191.2,721.9 2191.8,721.0 2192.4,721.1 2193.0,722.2 2193.7,721.1 2194.3,721.5 2194.9,721.8 2195.5,720.3 2196.1,720.8 2196.7,720.7 2197.3,720.8 2198.0,721.3 2198.6,721.5 2199.2,721.2 2199.8,722.0 2200.4,720.4 2201.0,723.8 2201.6,721.9 2202.3,721.5 2202.9,721.7 2203.5,721.2 2204.1,720.9 2204.7,722.0 2205.3,720.9 2205.9,721.5 2206.6,721.2 2207.2,721.0 2207.8,721.3 2208.4,721.5 2209.0,719.9 2209.6,719.8 2210.2,721.2 2210.9,722.7 2211.5,721.7 2212.1,721.1 2212.7,720.7 2213.3,721.5 2213.9,721.0 2214.5,719.7 2215.2,722.4 2215.8,721.4 2216.4,721.1 2217.0,721.0 2217.6,719.8 2218.2,721.2 2218.8,719.9 2219.5,720.7 2220.1,720.8 2220.7,720.5 2221.3,720.3 2221.9,720.4 2222.5,720.6 2223.1,720.0 2223.8,720.3 2224.4,720.5 2225.0,720.2 2225.6,720.5 2226.2,720.1 2226.8,721.3 2227.4,719.8 2228.1,720.5 2228.7,719.5 2229.3,718.2 2229.9,719.6 2230.5,719.5 2231.1,718.8 2231.7,717.7 2232.4,719.4 2233.0,717.9 2233.6,717.8 2234.2,717.5 2234.8,715.4 2235.4,717.0 2236.0,716.5 2236.6,716.1 2237.3,717.0 2237.9,713.4 2238.5,714.7 2239.1,713.3 2239.7,714.3 2240.3,712.9 2240.9,713.0 2241.6,713.0 2242.2,712.6 2242.8,712.1 2243.4,712.1 2244.0,712.9 2244.6,713.3 2245.2,712.3 2245.9,712.7 2246.5,712.6 2247.1,713.3 2247.7,712.7 2248.3,713.4 2248.9,714.1 2249.5,713.8 2250.2,713.6 2250.8,714.1 2251.4,713.7 2252.0,714.1 2252.6,716.8 2253.2,715.3 2253.8,715.3 2254.5,716.6 2255.1,716.7 2255.7,715.4 2256.3,718.0 2256.9,717.8 2257.5,716.9 2258.1,718.4 2258.8,718.3 2259.4,717.9 2260.0,718.4 2260.6,718.6 2261.2,721.1 2261.8,718.7 2262.4,720.6 2263.1,719.4 2263.7,720.4 2264.3,719.4 2264.9,721.2 2265.5,720.9 2266.1,720.4 2266.7,720.1 2267.4,721.2 2268.0,721.4 2268.6,720.4 2269.2,721.7 2269.8,721.2 2270.4,721.9 2271.0,719.9 2271.7,720.6 2272.3,719.7 2272.9,722.5 2273.5,720.8 2274.1,720.2 2274.7,721.9 2275.3,720.1 2276.0,720.7 2276.6,722.2 2277.2,721.8 2277.8,721.4 2278.4,722.1 2279.0,720.6 2279.6,721.3 2280.3,721.6 2280.9,721.5 2281.5,721.9 2282.1,722.7 2282.7,721.1 2283.3,721.3 2283.9,723.5 2284.6,723.9 2285.2,722.2 2285.8,721.9 2286.4,722.0 2287.0,722.1 2287.6,721.0 2288.2,722.2 2288.8,722.0 2289.5,722.7 2290.1,722.3 2290.7,721.3 2291.3,721.6 2291.9,722.4"/>
<polyline clip-path="url(#cc)" fill="none" stroke="#FF00EB" stroke-width="8.5" stroke-linejoin="round" stroke-linecap="butt" shape-rendering="crispEdges" marker-start="url(#m2)" marker-mid="url(#m2)" marker-end="url(#m2)" points="142.5,981.1 143.1,981.5 143.7,984.3 144.3,983.1 145.0,983.5 145.6,979.8 146.2,986.3 146.8,984.0 147.4,985.3 148.0,984.1 148.6,985.1 149.3,983.1 149.9,980.3 150.5,981.4 151.1,982.9 151.7,985.7 152.3,987.0 152.9,982.3 153.6,984.3 154.2,980.3 154.8,985.3 155.4,980.2 156.0,982.8 156.6,985.4 157.2,988.3 157.9,984.3 158.5,982.8 159.1,981.9 159.7,982.8 160.3,983.8 160.9,985.7 161.5,985.2 162.2,984.9 162.8,982.5 163.4,984.9 164.0,983.6 164.6,983.4 165.2,979.8 165.8,983.5 166.5,983.4 167.1,983.9 167.7,984.0 168.3,981.2 168.9,983.0 169.5,983.8 170.1,985.6 170.7,982.8 171.4,986.0 172.0,986.6 172.6,987.2 173.2,985.0 173.8,984.1 174.4,985.5 175.0,981.0 175.7,983.1 176.3,982.2 176.9,985.3 177.5,982.6 178.1,983.8 178.7,982.1 179.3,982.4 180.0,983.6 180.6,983.2 181.2,983.7 181.8,983.0 182.4,982.7 183.0,981.0 183.6,983.5 184.3,980.4 184.9,983.3 185.5,984.6 186.1,985.2 186.7,981.2 187.3,982.2 187.9,986.4 188.6,983.9 189.2,984.7 189.8,982.6 190.4,984.4 191.0,984.2 191.6,985.1 192.2,984.8 192.9,985.9 193.5,984.8 194.1,982.0 194.7,980.8 195.3,984.3 195.9,989.1 196.5,981.1 197.2,984.3 197.8,981.3 198.4,981.2 199.0,984.8 199.6,980.3 200.2,982.9 200.8,983.4 201.5,981.6 202.1,982.9 202.7,983.6 203.3,982.0 203.9,983.5 204.5,982.1 205.1,985.3 205.8,983.4 206.4,982.6 207.0,978.4 207.6,983.2 208.2,983.3 208.8,982.0 209.4,981.3 210.1,980.2 210.7,981.9 211.3,983.3 211.9,984.4 212.5,982.6 213.1,982.6 213.7,984.6 214.4,986.4 215.0,984.4 215.6,982.9 216.2,983.0 216.8,983.1 217.4,982.9 218.0,986.2 218.7,985.3 219.3,981.4 219.9,983.8 220.5,983.8 221.1,986.6 221.7,980.9 222.3,980.7 222.9,981.6 223.6,985.2 224.2,979.5 224.8,981.0 225.4,979.6 226.0,981.6 226.6,984.5 227.2,979.8 227.9,982.4 228.5,983.9 229.1,982.4 229.7,985.3 230.3,980.5 230.9,985.5 231.5,984.7 232.2,984.4 232.8,983.8 233.4,981.6 234.0,982.5 234.6,985.8 235.2,983.3 235.8,981.7 236.5,984.3 237.1,985.9 237.7,984.8 238.3,982.8 238.9,982.2 239.5,985.2 240.1,983.8 240.8,986.5 241.4,985.4 242.0,983.1 242.6,985.0 243.2,985.8 243.8,983.7 244.4,986.0 245.1,983.5 245.7,987.5 246.3,982.2 246.9,983.9 247.5,985.2 248.1,981.9 248.7,985.4 249.4,984.1 250.0,983.7 250.6,980.9 251.2,983.0 251.8,983.5 252.4,984.2 253.0,983.5 253.7,981.9 254.3,984.5 254.9,984.4 255.5,982.4 256.1,983.2 256.7,978.6 257.3,984.7 258.0,981.6 258.6,983.4 259.2,985.0 259.8,983.5 260.4,984.9 261.0,982.5 261.6,983.3 262.3,984.2 262.9,981.8 263.5,984.3 264.1,986.5 264.7,984.3 265.3,979.8 265.9,984.9 266.6,978.5 267.2,980.4 267.8,981.7 268.4,978.9 269.0,986.2 269.6,982.2 270.2,985.1 270.9,983.9 271.5,982.8 272.1,981.9 272.7,985.0 273.3,983.1 273.9,981.3 274.5,986.2 275.1,983.7 275.8,983.6 276.4,981.9 277.0,980.1 277.6,983.7 278.2,982.0 278.8,981.8 279.4,982.1 280.1,984.1 280.7,982.9 281.3,980.2 281.9,982.7 282.5,983.0 283.1,984.1 283.7,983.7 284.4,981.2 285.0,980.5 285.6,981.1 286.2,982.7 286.8,983.4 287.4,982.4 288.0,979.5 288.7,987.2 289.3,982.4 289.9,981.9 290.5,982.1 291.1,981.3 291.7,981.5 292.3,981.0 293.0,980.5 293.6,979.6 294.2,982.0 294.8,983.8 295.4,979.0 296.0,980.9 296.6,983.5 297.3,981.8 297.9,984.0 298.5,984.8 299.1,981.8 299.7,980.5 300.3,980.2 300.9,984.9 301.6,983.2 302.2,983.8 302.8,981.3 303.4,981.8 304.0,983.2 304.6,983.1 305.2,982.7 305.9,978.0 306.5,982.9 307.1,984.0 307.7,983.2 308.3,982.0 308.9,977.5 309.5,982.2 310.2,983.2 310.8,982.8 311.4,985.2 312.0,981.8 312.6,981.7 313.2,981.7 313.8,981.2 314.5,982.6 315.1,982.0 315.7,984.3 316.3,981.9 316.9,983.4 317.5,980.8 318.1,981.6 318.8,981.4 319.4,982.1 320.0,980.8 320.6,981.8 321.2,986.8 321.8,978.9 322.4,982.3 323.1,980.2 323.7,982.1 324.3,981.9 324.9,980.0 325.5,980.4 326.1,980.6 326.7,979.8 327.4,982.7 328.0,981.3 328.6,982.0 329.2,983.2 329.8,981.9 330.4,982.9 331.0,981.6 331.6,980.5 332.3,985.8 332.9,981.9 333.5,982.3 334.1,981.1 334.7,980.8 335.3,979.8 335.9,982.4 336.6,984.1 337.2,978.4 337.8,979.6 338.4,981.4 339.0,982.2 339.6,978.9 340.2,982.9 340.9,980.9 341.5,979.8 342.1,984.3 342.7,980.2 343.3,979.3 343.9,984.4 344.5,982.7 345.2,982.5 345.8,982.2 346.4,981.9 347.0,982.5 347.6,984.0 348.2,979.4 348.8,980.2 349.5,981.9 350.1,981.9 350.7,981.7 351.3,980.8 351.9,981.6 352.5,979.0 353.1,983.0 353.8,982.1 354.4,981.1 355.0,981.9 355.6,981.0 356.2,982.8 356.8,982.0 357.4,985.2 358.1,981.2 358.7,981.4 359.3,983.9 359.9,980.1 360.5,982.7 361.1,981.0 361.7,980.5 362.4,982.2 363.0,981.4 363.6,982.4 364.2,979.8 364.8,980.4 365.4,980.3 366.0,979.2 366.7,981.6 367.3,981.3 367.9,976.3 368.5,979.4 369.1,980.9 369.7,981.4 370.3,978.4 371.0,980.4 371.6,976.9 372.2,981.1 372.8,977.5 373.4,979.5 374.0,975.1 374.6,978.7 375.3,975.5 375.9,975.0 376.5,974.9 377.1,977.9 377.7,977.8 378.3,977.8 378.9,973.2 379.6,973.9 380.2,973.7 380.8,973.5 381.4,972.1 382.0,973.9 382.6,968.8 383.2,969.9 383.8,969.6 384.5,967.1 385.1,970.4 385.7,969.9 386.3,965.6 386.9,962.5 387.5,960.2 388.1,963.1 388.8,956.4 389.4,953.2 390.0,956.3 390.6,953.1 391.2,950.1 391.8,946.2 392.4,946.7 393.1,939.8 393.7,935.3 394.3,929.8 394.9,923.1 395.5,918.1 396.1,915.1 396.7,909.4 397.4,906.0 398.0,897.8 398.6,888.0 399.2,882.8 399.8,873.3 400.4,867.8 401.0,863.3 401.7,859.7 402.3,856.7 402.9,852.6 403.5,852.2 404.1,853.1 404.7,854.6 405.3,859.2 406.0,868.7 406.6,872.6 407.2,878.5 407.8,883.6 408.4,892.4 409.0,896.3 409.6,903.5 410.3,908.7 410.9,915.2 411.5,921.6 412.1,926.0 412.7,935.3 413.3,937.3 413.9,940.9 414.6,945.1 415.2,948.2 415.8,950.3 416.4,952.1 417.0,957.4 417.6,958.9 418.2,960.4 418.9,961.6 419.5,964.8 420.1,964.2 420.7,966.7 421.3,965.2 421.9,967.2 422.5,968.5 423.2,970.7 423.8,969.3 424.4,970.9 425.0,972.1 425.6,974.2 426.2,974.4 426.8,973.9 427.5,974.4 428.1,974.1 428.7,974.9 429.3,976.8 429.9,976.0 430.5,976.2 431.1,978.0 431.8,977.2 432.4,977.8 433.0,978.3 433.6,977.9 434.2,978.6 434.8,979.8 435.4,978.4 436.0,979.4 436.7,981.0 437.3,979.5 437.9,981.3 438.5,980.2 439.1,978.7 439.7,979.9 440.3,980.3 441.0,981.0 441.6,980.9 442.2,981.3 442.8,979.5 443.4,982.4 444.0,980.5 444.6,978.2 445.3,982.5 445.9,980.7 446.5,982.0 447.1,981.1 447.7,981.0 448.3,981.6 448.9,981.7 449.6,983.5 450.2,980.7 450.8,981.5 451.4,982.9 452.0,980.5 452.6,982.6 453.2,980.2 453.9,980.4 454.5,983.9 455.1,982.3 455.7,982.0 456.3,983.2 456.9,982.8 457.5,983.6 458.2,982.2 458.8,981.3 459.4,984.5 460.0,981.6 460.6,981.7 461.2,982.8 461.8,984.4 462.5,983.3 463.1,983.5 463.7,983.4 464.3,980.9 464.9,982.7 465.5,982.0 466.1,983.3 466.8,982.8 467.4,982.5 468.0,982.8 468.6,982.0 469.2,980.6 469.8,983.0 470.4,982.7 471.1,983.4 471.7,981.7 472.3,984.8 472.9,982.2 473.5,983.2 474.1,984.6 474.7,984.7 475.4,983.8 476.0,984.5 476.6,983.5 477.2,982.4 477.8,983.3 478.4,984.9 479.0,982.9 479.7,986.6 480.3,984.1 480.9,981.5 481.5,982.4 482.1,984.6 482.7,983.8 483.3,986.4 484.0,985.0 484.6,984.4 485.2,983.5 485.8,982.9 486.4,985.1 487.0,982.8 487.6,982.4 488.2,984.4 488.9,984.8 489.5,986.1 490.1,982.7 490.7,983.1 491.3,985.9 491.9,985.3 492.5,984.8 493.2,982.4 493.8,984.6 494.4,983.1 495.0,985.9 495.6,984.2 496.2,983.0 496.8,985.6 497.5,985.4 498.1,984.7 498.7,982.8 499.3,984.1 499.9,987.0 500.5,984.9 501.1,984.5 501.8,984.3 502.4,983.0 503.0,985.1 503.6,983.6 504.2,985.1 504.8,984.3 505.4,981.9 506.1,984.0 506.7,983.9 507.3,986.3 507.9,984.0 508.5,983.1 509.1,983.1 509.7,982.5 510.4,985.1 511.0,984.9 511.6,983.6 512.2,981.4 512.8,984.3 513.4,985.6 514.0,985.5 514.7,985.4 515.3,985.3 515.9,984.2 516.5,981.7 517.1,982.7 517.7,983.5 518.3,983.7 519.0,982.6 519.6,982.6 520.2,983.4 520.8,981.1 521.4,982.5 522.0,981.1 522.6,980.8 523.3,978.3 523.9,979.1 524.5,979.0 525.1,980.1 525.7,978.4 526.3,979.1 526.9,979.5 527.6,977.3 528.2,974.1 528.8,973.5 529.4,976.5 530.0,972.8 530.6,973.7 531.2,972.9 531.9,970.7 532.5,970.0 533.1,970.1 533.7,966.0 534.3,963.5 534.9,961.8 535.5,959.0 536.2,957.4 536.8,958.7 537.4,957.0 538.0,955.0 538.6,953.6 539.2,950.5 539.8,949.4 540.4,949.1 541.1,948.4 541.7,951.1 542.3,948.8 542.9,949.8 543.5,952.2 544.1,952.7 544.7,954.5 545.4,956.6 546.0,954.8 546.6,960.4 547.2,961.9 547.8,963.6 548.4,964.8 549.0,963.5 549.7,966.0 550.3,968.2 550.9,971.2 551.5,971.9 552.1,972.8 552.7,971.9 553.3,974.0 554.0,975.0 554.6,979.1 555.2,977.9 555.8,977.3 556.4,978.5 557.0,979.0 557.6,981.4 558.3,981.1 558.9,981.1 559.5,981.4 560.1,980.4 560.7,980.7 561.3,982.5 561.9,984.1 562.6,982.5 563.2,982.2 563.8,984.6 564.4,982.2 565.0,982.2 565.6,984.3 566.2,984.8 566.9,984.9 567.5,982.8 568.1,984.6 568.7,986.6 569.3,986.0 569.9,984.9 570.5,983.9 571.2,984.6 571.8,986.1 572.4,986.5 573.0,987.5 573.6,986.2 574.2,984.7 574.8,985.2 575.5,984.6 576.1,986.0 576.7,986.8 577.3,986.9 577.9,986.2 578.5,985.6 579.1,987.9 579.8,986.4 580.4,987.2 581.0,985.7 581.6,986.0 582.2,988.0 582.8,985.0 583.4,986.4 584.1,985.2 584.7,987.8 585.3,987.5 585.9,986.1 586.5,986.0 587.1,985.7 587.7,988.8 588.4,988.7 589.0,987.1 589.6,985.4 590.2,986.0 590.8,987.3 591.4,986.5 592.0,987.2 592.6,988.8 593.3,988.7 593.9,988.1 594.5,986.5 595.1,987.1 595.7,987.1 596.3,986.1 596.9,987.6 597.6,986.2 598.2,987.0 598.8,986.8 599.4,985.7 600.0,986.8 600.6,987.5 601.2,987.2 601.9,988.7 602.5,986.5 603.1,987.4 603.7,989.0 604.3,986.5 604.9,988.1 605.5,989.7 606.2,987.9 606.8,986.7 607.4,986.8 608.0,988.8 608.6,986.8 609.2,987.6 609.8,988.6 610.5,990.8 611.1,987.8 611.7,987.7 612.3,988.9 612.9,990.0 613.5,989.7 614.1,989.2 614.8,989.4 615.4,985.2 616.0,987.4 616.6,987.9 617.2,988.9 617.8,988.5 618.4,988.2 619.1,986.7 619.7,988.6 620.3,988.6 620.9,988.1 621.5,987.8 622.1,987.1 622.7,989.5 623.4,985.7 624.0,988.1 624.6,990.3 625.2,988.3 625.8,988.1 626.4,989.0 627.0,990.5 627.7,989.5 628.3,991.2 628.9,990.9 629.5,988.6 630.1,988.3 630.7,989.1 631.3,988.1 632.0,986.2 632.6,989.1 633.2,988.3 633.8,989.9 634.4,988.9 635.0,988.1 635.6,988.3 636.3,988.7 636.9,990.1 637.5,987.5 638.1,989.8 638.7,989.8 639.3,989.4 639.9,988.8 640.6,988.7 641.2,991.0 641.8,988.3 642.4,989.0 643.0,989.1 643.6,988.0 644.2,987.7 644.9,990.2 645.5,986.7 646.1,987.5 646.7,989.9 647.3,989.4 647.9,989.2 648.5,990.7 649.1,988.2 649.8,989.5 650.4,988.9 651.0,992.2 651.6,989.5 652.2,989.3 652.8,988.9 653.4,988.8 654.1,988.1 654.7,988.1 655.3,987.7 655.9,989.9 656.5,990.6 657.1,988.8 657.7,987.5 658.4,988.9 659.0,990.2 659.6,988.1 660.2,988.8 660.8,989.8 661.4,987.2 662.0,989.9 662.7,989.8 663.3,988.3 663.9,988.4 664.5,989.0 665.1,989.6 665.7,989.1 666.3,987.8 667.0,987.8 667.6,990.7 668.2,988.3 668.8,989.9 669.4,988.4 670.0,988.9 670.6,989.0 671.3,989.0 671.9,990.2 672.5,990.0 673.1,988.7 673.7,987.9 674.3,990.1 674.9,989.2 675.6,988.4 676.2,989.7 676.8,988.7 677.4,987.0 678.0,987.6 678.6,989.3 679.2,989.4 679.9,990.1 680.5,990.7 681.1,990.0 681.7,990.5 682.3,990.2 682.9,990.5 683.5,988.5 684.2,989.6 684.8,991.4 685.4,989.6 686.0,988.7 686.6,988.6 687.2,989.1 687.8,989.1 688.5,988.7 689.1,990.6 689.7,991.2 690.3,988.7 690.9,989.2 691.5,988.4 692.1,990.2 692.8,988.5 693.4,989.2 694.0,988.3 694.6,989.6 695.2,988.5 695.8,989.2 696.4,989.0 697.1,991.2 697.7,987.8 698.3,989.9 698.9,990.0 699.5,988.9 700.1,989.8 700.7,989.1 701.3,989.7 702.0,988.3 702.6,990.1 703.2,988.5 703.8,990.1 704.4,989.7 705.0,989.4 705.6,988.9 706.3,989.1 706.9,989.4 707.5,988.6 708.1,990.5 708.7,990.7 709.3,988.3 709.9,990.5 710.6,989.0 711.2,989.3 711.8,988.2 712.4,991.6 713.0,990.8 713.6,989.3 714.2,990.0 714.9,990.0 715.5,991.2 716.1,989.6 716.7,989.3 717.3,990.6 717.9,990.9 718.5,989.8 719.2,988.0 719.8,989.0 720.4,989.9 721.0,990.6 721.6,990.0 722.2,988.9 722.8,989.9 723.5,990.8 724.1,989.5 724.7,990.3 725.3,990.4 725.9,989.9 726.5,990.6 727.1,989.9 727.8,990.4 728.4,990.1 729.0,990.6 729.6,989.6 730.2,989.0 730.8,988.2 731.4,989.4 732.1,987.4 732.7,989.0 733.3,988.5 733.9,990.5 734.5,989.1 735.1,989.7 735.7,989.1 736.4,990.1 737.0,988.9 737.6,990.7 738.2,991.0 738.8,991.1 739.4,988.1 740.0,990.0 740.7,990.2 741.3,989.1 741.9,989.3 742.5,989.7 743.1,990.6 743.7,990.2 744.3,988.1 745.0,990.0 745.6,988.6 746.2,991.1 746.8,991.4 747.4,989.8 748.0,989.9 748.6,991.6 749.3,990.1 749.9,989.2 750.5,988.7 751.1,987.7 751.7,990.2 752.3,989.8 752.9,990.7 753.5,990.7 754.2,989.0 754.8,989.1 755.4,989.1 756.0,990.4 756.6,989.3 757.2,989.7 757.8,992.1 758.5,990.4 759.1,989.9 759.7,989.1 760.3,989.6 760.9,987.9 761.5,989.7 762.1,991.6 762.8,989.4 763.4,991.6 764.0,989.6 764.6,988.5 765.2,990.4 765.8,989.8 766.4,989.2 767.1,990.9 767.7,988.5 768.3,988.1 768.9,989.4 769.5,989.6 770.1,989.2 770.7,989.1 771.4,988.9 772.0,988.8 772.6,990.3 773.2,990.2 773.8,987.7 774.4,989.7 775.0,987.4 775.7,988.8 776.3,988.5 776.9,989.2 777.5,990.0 778.1,990.0 778.7,989.5 779.3,990.7 780.0,989.4 780.6,988.6 781.2,990.2 781.8,987.9 782.4,989.0 783.0,988.8 783.6,989.6 784.3,989.3 784.9,989.6 785.5,988.4 786.1,989.0 786.7,990.7 787.3,988.5 787.9,991.1 788.6,989.0 789.2,989.1 789.8,989.0 790.4,991.1 791.0,990.0 791.6,989.8 792.2,989.5 792.9,988.7 793.5,990.4 794.1,989.6 794.7,989.5 795.3,989.4 795.9,989.5 796.5,989.7 797.2,990.4 797.8,989.8 798.4,989.1 799.0,989.8 799.6,989.6 800.2,990.3 800.8,989.2 801.5,990.1 802.1,989.4 802.7,989.9 803.3,989.4 803.9,989.2 804.5,989.6 805.1,988.6 805.7,988.4 806.4,989.4 807.0,989.4 807.6,990.6 808.2,990.9 808.8,988.3 809.4,988.1 810.0,988.8 810.7,989.3 811.3,989.8 811.9,990.2 812.5,989.0 813.1,989.4 813.7,988.2 814.3,990.7 815.0,990.2 815.6,991.0 816.2,990.4 816.8,989.6 817.4,991.2 818.0,989.6 818.6,989.8 819.3,988.2 819.9,989.0 820.5,989.7 821.1,992.2 821.7,989.5 822.3,989.1 822.9,990.4 823.6,990.4 824.2,989.5 824.8,991.3 825.4,988.4 826.0,989.9 826.6,989.7 827.2,989.6 827.9,989.7 828.5,990.7 829.1,989.5 829.7,991.0 830.3,989.1 830.9,989.9 831.5,990.7 832.2,990.3 832.8,988.5 833.4,990.6 834.0,989.7 834.6,989.8 835.2,989.0 835.8,990.2 836.5,989.6 837.1,990.3 837.7,989.8 838.3,989.7 838.9,989.1 839.5,989.5 840.1,989.2 840.8,988.9 841.4,988.1 842.0,988.5 842.6,989.9 843.2,989.5 843.8,990.5 844.4,989.7 845.1,988.3 845.7,991.0 846.3,990.0 846.9,990.2 847.5,989.8 848.1,989.8 848.7,990.8 849.4,991.5 850.0,988.9 850.6,989.9 851.2,991.3 851.8,989.5 852.4,989.6 853.0,989.9 853.7,989.5 854.3,990.0 854.9,989.6 855.5,990.5 856.1,989.1 856.7,989.9 857.3,990.3 857.9,988.5 858.6,989.6 859.2,989.8 859.8,990.0 860.4,989.8 861.0,989.0 861.6,989.3 862.2,990.5 862.9,989.3 863.5,989.0 864.1,990.3 864.7,989.7 865.3,990.4 865.9,988.9 866.5,989.9 867.2,990.6 867.8,989.7 868.4,989.4 869.0,989.8 869.6,989.3 870.2,990.4 870.8,988.4 871.5,987.9 872.1,990.5 872.7,989.6 873.3,990.5 873.9,989.5 874.5,989.0 875.1,989.4 875.8,989.7 876.4,990.5 877.0,989.3 877.6,988.8 878.2,988.1 878.8,988.8 879.4,988.9 880.1,989.7 880.7,990.4 881.3,989.1 881.9,989.1 882.5,987.9 883.1,989.0 883.7,989.2 884.4,989.4 885.0,990.2 885.6,989.8 886.2,989.4 886.8,989.9 887.4,990.1 888.0,990.2 888.7,988.8 889.3,990.1 889.9,988.9 890.5,990.3 891.1,989.9 891.7,990.3 892.3,989.6 893.0,990.7 893.6,989.3 894.2,990.8 894.8,989.9 895.4,989.3 896.0,989.6 896.6,988.9 897.3,990.9 897.9,990.2 898.5,989.8 899.1,991.5 899.7,989.7 900.3,989.4 900.9,989.6 901.6,989.0 902.2,989.8 902.8,990.2 903.4,989.3 904.0,989.4 904.6,988.0 905.2,988.9 905.9,988.5 906.5,988.2 907.1,988.6 907.7,989.7 908.3,989.5 908.9,989.9 909.5,990.3 910.1,989.5 910.8,988.8 911.4,989.8 912.0,989.0 912.6,989.9 913.2,989.7 913.8,989.8 914.4,989.1 915.1,988.9 915.7,989.2 916.3,989.7 916.9,989.6 917.5,987.9 918.1,990.9 918.7,989.1 919.4,989.3 920.0,989.8 920.6,988.6 921.2,988.0 921.8,989.2 922.4,988.7 923.0,990.0 923.7,989.9 924.3,987.1 924.9,988.9 925.5,989.2 926.1,989.5 926.7,989.1 927.3,990.0 928.0,989.5 928.6,988.5 929.2,989.3 929.8,988.8 930.4,988.6 931.0,988.7 931.6,989.5 932.3,988.8 932.9,989.7 933.5,988.5 934.1,988.1 934.7,989.0 935.3,989.6 935.9,989.5 936.6,988.1 937.2,988.4 937.8,988.8 938.4,987.7 939.0,988.1 939.6,987.5 940.2,987.7 940.9,987.3 941.5,987.3 942.1,989.1 942.7,989.1 943.3,987.0 943.9,989.1 944.5,987.9 945.2,987.4 945.8,989.6 946.4,987.3 947.0,987.4 947.6,987.0 948.2,987.5 948.8,986.8 949.5,988.0 950.1,986.8 950.7,987.1 951.3,987.8 951.9,987.2 952.5,987.1 953.1,987.8 953.8,986.9 954.4,986.1 955.0,986.4 955.6,987.0 956.2,986.3 956.8,986.6 957.4,986.7 958.1,985.3 958.7,986.7 959.3,986.2 959.9,985.3 960.5,985.5 961.1,985.3 961.7,985.1 962.4,984.9 963.0,984.2 963.6,984.4 964.2,982.1 964.8,982.5 965.4,982.0 966.0,980.2 966.6,980.2 967.3,981.0 967.9,980.7 968.5,977.3 969.1,976.6 969.7,977.7 970.3,977.3 970.9,976.6 971.6,973.3 972.2,972.4 972.8,969.9 973.4,968.1 974.0,967.3 974.6,964.9 975.2,962.6 975.9,960.7 976.5,958.3 977.1,956.3 977.7,954.0 978.3,950.4 978.9,949.2 979.5,945.5 980.2,944.3 980.8,939.9 981.4,937.2 982.0,934.5 982.6,932.8 983.2,929.7 983.8,929.5 984.5,930.8 985.1,928.6 985.7,929.6 986.3,929.5 986.9,930.8 987.5,932.7 988.1,933.2 988.8,935.8 989.4,939.2 990.0,942.0 990.6,944.0 991.2,947.1 991.8,949.8 992.4,952.6 993.1,954.2 993.7,956.5 994.3,958.9 994.9,962.2 995.5,964.0 996.1,966.7 996.7,968.1 997.4,969.3 998.0,970.6 998.6,970.8 999.2,973.4 999.8,974.1 1000.4,977.0 1001.0,975.8 1001.7,978.0 1002.3,978.1 1002.9,980.9 1003.5,980.2 1004.1,981.0 1004.7,981.6 1005.3,982.5 1006.0,983.4 1006.6,983.0 1007.2,984.2 1007.8,983.8 1008.4,984.3 1009.0,985.1 1009.6,984.7 1010.3,985.0 1010.9,984.7 1011.5,985.7 1012.1,984.6 1012.7,985.8 1013.3,985.8 1013.9,987.2 1014.6,986.3 1015.2,986.4 1015.8,986.1 1016.4,986.5 1017.0,986.8 1017.6,987.5 1018.2,986.7 1018.8,987.2 1019.5,988.0 1020.1,987.2 1020.7,989.1 1021.3,987.2 1021.9,987.7 1022.5,986.6 1023.1,987.4 1023.8,987.9 1024.4,987.7 1025.0,987.4 1025.6,987.6 1026.2,986.9 1026.8,989.1 1027.4,988.3 1028.1,988.7 1028.7,988.8 1029.3,988.6 1029.9,989.5 1030.5,988.6 1031.1,989.0 1031.7,988.8 1032.4,989.0 1033.0,988.5 1033.6,990.4 1034.2,988.6 1034.8,989.9 1035.4,988.5 1036.0,987.4 1036.7,989.4 1037.3,989.3 1037.9,989.8 1038.5,989.1 1039.1,988.9 1039.7,988.5 1040.3,989.1 1041.0,989.6 1041.6,990.4 1042.2,989.8 1042.8,988.2 1043.4,988.9 1044.0,989.6 1044.6,989.3 1045.3,988.7 1045.9,988.4 1046.5,988.8 1047.1,989.9 1047.7,990.1 1048.3,989.5 1048.9,989.8 1049.6,989.5 1050.2,990.0 1050.8,990.8 1051.4,988.9 1052.0,990.5 1052.6,989.9 1053.2,989.7 1053.9,990.3 1054.5,989.1 1055.1,989.6 1055.7,989.1 1056.3,990.4 1056.9,988.0 1057.5,989.8 1058.2,989.1 1058.8,989.3 1059.4,989.7 1060.0,989.9 1060.6,988.3 1061.2,990.4 1061.8,989.6 1062.5,989.7 1063.1,990.7 1063.7,990.3 1064.3,989.5 1064.9,987.9 1065.5,990.0 1066.1,989.8 1066.8,989.9 1067.4,988.6 1068.0,988.5 1068.6,989.4 1069.2,990.0 1069.8,989.1 1070.4,989.4 1071.0,988.4 1071.7,988.3 1072.3,989.2 1072.9,989.9 1073.5,988.3 1074.1,990.6 1074.7,989.7 1075.3,989.6 1076.0,989.0 1076.6,989.9 1077.2,990.7 1077.8,989.7 1078.4,989.6 1079.0,989.1 1079.6,988.9 1080.3,990.3 1080.9,989.4 1081.5,989.2 1082.1,990.0 1082.7,989.8 1083.3,989.4 1083.9,990.6 1084.6,989.6 1085.2,989.8 1085.8,989.7 1086.4,988.2 1087.0,989.3 1087.6,991.2 1088.2,989.0 1088.9,989.3 1089.5,990.4 1090.1,990.1 1090.7,990.3 1091.3,990.2 1091.9,990.0 1092.5,989.1 1093.2,990.4 1093.8,991.3 1094.4,988.6 1095.0,989.0 1095.6,989.2 1096.2,989.8 1096.8,989.9 1097.5,991.1 1098.1,989.2 1098.7,990.2 1099.3,990.0 1099.9,990.3 1100.5,989.8 1101.1,989.0 1101.8,989.5 1102.4,991.7 1103.0,990.6 1103.6,989.1 1104.2,989.7 1104.8,990.5 1105.4,989.6 1106.1,992.1 1106.7,990.9 1107.3,990.2 1107.9,990.9 1108.5,992.0 1109.1,989.8 1109.7,991.1 1110.4,989.2 1111.0,989.7 1111.6,991.3 1112.2,989.9 1112.8,991.0 1113.4,990.6 1114.0,990.1 1114.7,989.7 1115.3,990.4 1115.9,989.8 1116.5,991.1 1117.1,989.8 1117.7,990.7 1118.3,989.6 1119.0,989.9 1119.6,989.2 1120.2,990.3 1120.8,990.6 1121.4,989.3 1122.0,990.2 1122.6,989.4 1123.2,989.7 1123.9,989.8 1124.5,989.2 1125.1,990.0 1125.7,989.8 1126.3,988.4 1126.9,989.5 1127.5,989.4 1128.2,989.5 1128.8,989.4 1129.4,991.6 1130.0,989.2 1130.6,989.7 1131.2,990.4 1131.8,990.0 1132.5,989.7 1133.1,990.3 1133.7,989.7 1134.3,989.6 1134.9,991.3 1135.5,990.5 1136.1,990.0 1136.8,990.9 1137.4,989.9 1138.0,991.4 1138.6,990.4 1139.2,990.4 1139.8,991.6 1140.4,990.6 1141.1,990.1 1141.7,989.7 1142.3,990.0 1142.9,990.0 1143.5,990.2 1144.1,988.4 1144.7,990.6 1145.4,989.5 1146.0,989.5 1146.6,990.9 1147.2,989.5 1147.8,989.6 1148.4,988.7 1149.0,988.6 1149.7,989.7 1150.3,990.2 1150.9,990.1 1151.5,989.2 1152.1,991.3 1152.7,989.1 1153.3,989.8 1154.0,989.8 1154.6,989.3 1155.2,989.8 1155.8,989.9 1156.4,989.5 1157.0,990.5 1157.6,990.9 1158.3,989.9 1158.9,991.0 1159.5,989.9 1160.1,989.4 1160.7,989.8 1161.3,989.7 1161.9,989.7 1162.6,990.2 1163.2,989.3 1163.8,990.5 1164.4,990.4 1165.0,990.0 1165.6,988.8 1166.2,991.1 1166.9,990.3 1167.5,990.0 1168.1,990.2 1168.7,989.3 1169.3,989.9 1169.9,990.4 1170.5,989.0 1171.2,987.6 1171.8,990.5 1172.4,989.7 1173.0,990.3 1173.6,990.5 1174.2,990.1 1174.8,989.4 1175.4,990.5 1176.1,990.0 1176.7,990.6 1177.3,990.5 1177.9,989.7 1178.5,990.7 1179.1,990.0 1179.7,989.6 1180.4,990.3 1181.0,990.2 1181.6,989.6 1182.2,990.6 1182.8,989.6 1183.4,989.7 1184.0,990.5 1184.7,989.4 1185.3,989.1 1185.9,990.5 1186.5,989.0 1187.1,990.9 1187.7,989.7 1188.3,990.6 1189.0,990.0 1189.6,990.0 1190.2,990.5 1190.8,989.7 1191.4,989.7 1192.0,990.3 1192.6,990.0 1193.3,990.0 1193.9,989.4 1194.5,989.7 1195.1,990.5 1195.7,990.3 1196.3,990.7 1196.9,989.5 1197.6,989.5 1198.2,989.3 1198.8,989.4 1199.4,987.9 1200.0,990.1 1200.6,989.8 1201.2,989.8 1201.9,989.2 1202.5,989.0 1203.1,989.3 1203.7,988.9 1204.3,989.6 1204.9,989.5 1205.5,989.2 1206.2,988.6 1206.8,989.0 1207.4,989.2 1208.0,988.8 1208.6,990.9 1209.2,988.5 1209.8,988.9 1210.5,987.9 1211.1,990.1 1211.7,989.8 1212.3,989.0 1212.9,989.7 1213.5,988.1 1214.1,990.5 1214.8,988.2 1215.4,988.1 1216.0,988.3 1216.6,989.8 1217.2,988.0 1217.8,988.9 1218.4,989.7 1219.1,988.4 1219.7,989.0 1220.3,987.7 1220.9,987.6 1221.5,988.9 1222.1,986.1 1222.7,987.8 1223.4,987.9 1224.0,988.8 1224.6,987.0 1225.2,986.8 1225.8,987.3 1226.4,988.3 1227.0,986.5 1227.7,987.3 1228.3,987.1 1228.9,986.2 1229.5,985.4 1230.1,986.1 1230.7,985.4 1231.3,986.3 1231.9,986.0 1232.6,985.2 1233.2,984.6 1233.8,984.4 1234.4,984.5 1235.0,983.5 1235.6,984.2 1236.2,982.9 1236.9,983.0 1237.5,981.6 1238.1,980.2 1238.7,981.1 1239.3,980.8 1239.9,979.9 1240.5,978.1 1241.2,976.9 1241.8,978.1 1242.4,975.2 1243.0,974.9 1243.6,974.8 1244.2,972.2 1244.8,970.6 1245.5,967.5 1246.1,965.5 1246.7,965.3 1247.3,963.5 1247.9,962.6 1248.5,961.6 1249.1,957.6 1249.8,956.5 1250.4,955.1 1251.0,952.3 1251.6,951.4 1252.2,949.4 1252.8,949.7 1253.4,948.2 1254.1,946.3 1254.7,946.9 1255.3,946.9 1255.9,946.8 1256.5,947.4 1257.1,947.2 1257.7,949.7 1258.4,950.5 1259.0,950.8 1259.6,953.9 1260.2,954.0 1260.8,956.9 1261.4,957.2 1262.0,959.3 1262.7,962.2 1263.3,964.1 1263.9,965.3 1264.5,967.2 1265.1,968.5 1265.7,970.7 1266.3,971.3 1267.0,972.4 1267.6,974.0 1268.2,976.4 1268.8,975.5 1269.4,975.3 1270.0,978.6 1270.6,978.2 1271.3,978.6 1271.9,980.9 1272.5,981.3 1273.1,981.3 1273.7,981.7 1274.3,982.5 1274.9,983.6 1275.6,983.3 1276.2,984.2 1276.8,983.2 1277.4,984.6 1278.0,984.3 1278.6,986.3 1279.2,985.3 1279.9,985.2 1280.5,984.8 1281.1,986.0 1281.7,986.5 1282.3,985.8 1282.9,986.3 1283.5,986.3 1284.1,985.7 1284.8,986.3 1285.4,987.1 1286.0,987.9 1286.6,987.7 1287.2,987.8 1287.8,987.0 1288.4,987.2 1289.1,987.5 1289.7,986.2 1290.3,987.9 1290.9,988.3 1291.5,987.3 1292.1,987.5 1292.7,987.1 1293.4,988.5 1294.0,986.1 1294.6,988.6 1295.2,987.5 1295.8,988.1 1296.4,987.4 1297.0,989.2 1297.7,987.0 1298.3,988.8 1298.9,987.6 1299.5,989.0 1300.1,989.5 1300.7,988.3 1301.3,988.9 1302.0,989.1 1302.6,988.6 1303.2,988.7 1303.8,988.8 1304.4,989.3 1305.0,988.1 1305.6,988.3 1306.3,988.3 1306.9,989.2 1307.5,988.9 1308.1,989.1 1308.7,990.4 1309.3,989.6 1309.9,988.7 1310.6,986.9 1311.2,988.9 1311.8,988.0 1312.4,989.5 1313.0,988.8 1313.6,987.0 1314.2,988.3 1314.9,988.1 1315.5,987.2 1316.1,987.3 1316.7,986.8 1317.3,988.0 1317.9,987.5 1318.5,987.1 1319.2,987.7 1319.8,988.4 1320.4,986.8 1321.0,988.9 1321.6,988.5 1322.2,988.1 1322.8,986.1 1323.5,987.2 1324.1,987.3 1324.7,985.9 1325.3,987.4 1325.9,986.3 1326.5,986.6 1327.1,986.3 1327.8,986.3 1328.4,984.8 1329.0,984.5 1329.6,985.0 1330.2,984.6 1330.8,985.5 1331.4,984.3 1332.1,984.7 1332.7,983.5 1333.3,983.9 1333.9,981.7 1334.5,983.7 1335.1,982.6 1335.7,982.1 1336.3,980.8 1337.0,981.4 1337.6,981.6 1338.2,980.9 1338.8,980.9 1339.4,980.4 1340.0,980.1 1340.6,980.8 1341.3,982.1 1341.9,981.3 1342.5,982.0 1343.1,981.1 1343.7,981.8 1344.3,981.3 1344.9,981.9 1345.6,982.8 1346.2,981.7 1346.8,983.7 1347.4,985.0 1348.0,983.0 1348.6,984.7 1349.2,984.2 1349.9,984.2 1350.5,985.5 1351.1,985.5 1351.7,986.3 1352.3,985.4 1352.9,985.3 1353.5,987.0 1354.2,986.3 1354.8,986.7 1355.4,986.7 1356.0,988.5 1356.6,988.2 1357.2,988.6 1357.8,987.2 1358.5,988.2 1359.1,988.6 1359.7,989.2 1360.3,987.6 1360.9,988.6 1361.5,990.0 1362.1,989.3 1362.8,988.4 1363.4,989.1 1364.0,989.0 1364.6,989.4 1365.2,988.6 1365.8,988.8 1366.4,987.3 1367.1,987.8 1367.7,988.6 1368.3,988.7 1368.9,989.4 1369.5,989.7 1370.1,990.5 1370.7,989.0 1371.4,990.4 1372.0,989.5 1372.6,989.3 1373.2,990.6 1373.8,989.9 1374.4,989.3 1375.0,988.4 1375.7,989.6 1376.3,989.0 1376.9,989.6 1377.5,989.8 1378.1,989.3 1378.7,989.9 1379.3,990.5 1380.0,988.6 1380.6,990.7 1381.2,988.6 1381.8,988.5 1382.4,989.2 1383.0,988.8 1383.6,989.6 1384.3,988.2 1384.9,990.4 1385.5,990.5 1386.1,989.8 1386.7,989.5 1387.3,989.9 1387.9,989.8 1388.5,990.7 1389.2,988.6 1389.8,989.1 1390.4,990.0 1391.0,990.3 1391.6,989.6 1392.2,990.0 1392.8,990.5 1393.5,989.3 1394.1,990.0 1394.7,991.3 1395.3,989.8 1395.9,989.8 1396.5,990.1 1397.1,988.4 1397.8,988.5 1398.4,990.4 1399.0,988.4 1399.6,989.3 1400.2,990.8 1400.8,989.7 1401.4,989.8 1402.1,989.8 1402.7,989.3 1403.3,990.3 1403.9,989.9 1404.5,988.8 1405.1,989.3 1405.7,990.5 1406.4,989.8 1407.0,988.7 1407.6,989.6 1408.2,989.3 1408.8,991.9 1409.4,988.9 1410.0,989.3 1410.7,990.0 1411.3,990.1 1411.9,990.3 1412.5,989.9 1413.1,990.6 1413.7,989.8 1414.3,989.6 1415.0,991.8 1415.6,989.5 1416.2,988.9 1416.8,990.4 1417.4,989.7 1418.0,989.6 1418.6,989.7 1419.3,989.9 1419.9,988.3 1420.5,989.8 1421.1,989.4 1421.7,989.7 1422.3,989.3 1422.9,990.5 1423.6,989.9 1424.2,989.3 1424.8,990.7 1425.4,990.4 1426.0,990.0 1426.6,990.4 1427.2,990.4 1427.9,988.8 1428.5,988.9 1429.1,989.4 1429.7,991.9 1430.3,988.7 1430.9,989.5 1431.5,990.7 1432.2,989.9 1432.8,990.0 1433.4,989.1 1434.0,989.2 1434.6,990.5 1435.2,989.7 1435.8,988.2 1436.5,989.9 1437.1,990.3 1437.7,989.2 1438.3,990.1 1438.9,989.9 1439.5,989.6 1440.1,990.0 1440.7,989.5 1441.4,990.4 1442.0,989.4 1442.6,990.2 1443.2,989.1 1443.8,989.7 1444.4,990.3 1445.0,989.8 1445.7,990.8 1446.3,989.7 1446.9,990.4 1447.5,990.6 1448.1,989.7 1448.7,989.6 1449.3,989.1 1450.0,989.0 1450.6,989.8 1451.2,990.8 1451.8,990.2 1452.4,990.2 1453.0,990.1 1453.6,989.0 1454.3,989.4 1454.9,990.5 1455.5,989.9 1456.1,990.4 1456.7,989.4 1457.3,990.6 1457.9,988.3 1458.6,990.0 1459.2,989.6 1459.8,988.8 1460.4,989.6 1461.0,989.2 1461.6,989.2 1462.2,990.5 1462.9,988.3 1463.5,989.4 1464.1,989.2 1464.7,988.7 1465.3,989.4 1465.9,990.5 1466.5,989.9 1467.2,988.6 1467.8,990.0 1468.4,989.7 1469.0,989.9 1469.6,989.3 1470.2,989.9 1470.8,989.1 1471.5,989.6 1472.1,989.4 1472.7,989.0 1473.3,990.2 1473.9,988.7 1474.5,989.4 1475.1,990.0 1475.8,989.1 1476.4,988.8 1477.0,990.1 1477.6,989.5 1478.2,989.5 1478.8,990.0 1479.4,988.6 1480.1,989.1 1480.7,988.7 1481.3,989.5 1481.9,989.7 1482.5,990.7 1483.1,989.0 1483.7,989.1 1484.4,989.2 1485.0,988.6 1485.6,988.8 1486.2,990.7 1486.8,990.3 1487.4,990.2 1488.0,989.0 1488.7,988.8 1489.3,990.2 1489.9,989.3 1490.5,990.1 1491.1,989.0 1491.7,989.9 1492.3,991.5 1492.9,989.8 1493.6,990.5 1494.2,988.8 1494.8,989.9 1495.4,989.7 1496.0,988.6 1496.6,990.5 1497.2,989.0 1497.9,989.3 1498.5,990.0 1499.1,990.8 1499.7,990.7 1500.3,991.3 1500.9,989.7 1501.5,989.1 1502.2,988.9 1502.8,990.5 1503.4,988.8 1504.0,991.2 1504.6,989.5 1505.2,989.5 1505.8,988.8 1506.5,989.4 1507.1,990.3 1507.7,989.0 1508.3,990.5 1508.9,990.2 1509.5,989.7 1510.1,990.8 1510.8,990.1 1511.4,991.0 1512.0,988.7 1512.6,989.6 1513.2,989.4 1513.8,991.2 1514.4,991.5 1515.1,988.1 1515.7,990.3 1516.3,989.1 1516.9,989.0 1517.5,990.0 1518.1,990.8 1518.7,990.6 1519.4,989.3 1520.0,988.9 1520.6,990.4 1521.2,989.7 1521.8,989.8 1522.4,991.4 1523.0,989.3 1523.7,990.3 1524.3,989.6 1524.9,988.8 1525.5,990.0 1526.1,990.3 1526.7,989.5 1527.3,989.3 1528.0,988.9 1528.6,989.5 1529.2,989.3 1529.8,989.7 1530.4,989.7 1531.0,988.9 1531.6,989.7 1532.3,989.6 1532.9,989.8 1533.5,989.7 1534.1,990.9 1534.7,989.9 1535.3,990.0 1535.9,989.1 1536.6,989.2 1537.2,990.2 1537.8,989.5 1538.4,989.0 1539.0,989.3 1539.6,989.6 1540.2,989.5 1540.9,988.9 1541.5,990.1 1542.1,989.3 1542.7,988.0 1543.3,989.5 1543.9,990.7 1544.5,990.4 1545.2,989.7 1545.8,989.8 1546.4,988.6 1547.0,988.5 1547.6,990.2 1548.2,988.7 1548.8,989.0 1549.4,989.1 1550.1,991.1 1550.7,989.3 1551.3,989.8 1551.9,990.5 1552.5,990.3 1553.1,989.1 1553.7,989.8 1554.4,989.8 1555.0,989.5 1555.6,989.5 1556.2,988.3 1556.8,989.4 1557.4,989.6 1558.0,988.8 1558.7,989.5 1559.3,990.6 1559.9,990.1 1560.5,989.1 1561.1,990.2 1561.7,989.6 1562.3,990.0 1563.0,988.3 1563.6,989.5 1564.2,989.9 1564.8,990.5 1565.4,991.1 1566.0,989.3 1566.6,990.0 1567.3,990.7 1567.9,990.2 1568.5,989.3 1569.1,990.6 1569.7,988.7 1570.3,988.6 1570.9,989.1 1571.6,988.6 1572.2,989.7 1572.8,988.3 1573.4,990.1 1574.0,989.6 1574.6,988.8 1575.2,989.4 1575.9,989.1 1576.5,989.3 1577.1,989.6 1577.7,990.4 1578.3,989.8 1578.9,990.4 1579.5,989.8 1580.2,990.1 1580.8,989.2 1581.4,988.9 1582.0,988.1 1582.6,990.5 1583.2,989.9 1583.8,989.7 1584.5,989.8 1585.1,988.2 1585.7,989.6 1586.3,989.4 1586.9,989.6 1587.5,989.1 1588.1,990.5 1588.8,990.5 1589.4,988.8 1590.0,989.8 1590.6,987.5 1591.2,989.3 1591.8,988.2 1592.4,988.5 1593.1,989.6 1593.7,989.8 1594.3,989.4 1594.9,989.4 1595.5,988.9 1596.1,989.9 1596.7,989.5 1597.4,988.6 1598.0,989.3 1598.6,988.4 1599.2,989.9 1599.8,990.2 1600.4,989.6 1601.0,989.2 1601.6,988.8 1602.3,989.2 1602.9,988.7 1603.5,990.0 1604.1,990.1 1604.7,989.7 1605.3,989.7 1605.9,989.6 1606.6,989.1 1607.2,989.6 1607.8,988.3 1608.4,988.6 1609.0,989.9 1609.6,988.2 1610.2,988.7 1610.9,988.9 1611.5,989.6 1612.1,988.0 1612.7,988.9 1613.3,990.1 1613.9,988.6 1614.5,989.5 1615.2,989.1 1615.8,988.5 1616.4,989.2 1617.0,989.0 1617.6,989.6 1618.2,988.3 1618.8,988.9 1619.5,990.0 1620.1,988.2 1620.7,989.5 1621.3,988.3 1621.9,988.2 1622.5,989.2 1623.1,988.7 1623.8,988.5 1624.4,989.2 1625.0,988.7 1625.6,988.9 1626.2,990.4 1626.8,989.6 1627.4,989.3 1628.1,989.5 1628.7,989.4 1629.3,986.8 1629.9,989.3 1630.5,988.5 1631.1,989.1 1631.7,988.3 1632.4,987.4 1633.0,987.2 1633.6,987.2 1634.2,989.0 1634.8,987.5 1635.4,988.2 1636.0,986.8 1636.7,988.8 1637.3,989.0 1637.9,987.9 1638.5,988.2 1639.1,988.8 1639.7,988.8 1640.3,987.3 1641.0,986.5 1641.6,987.3 1642.2,986.4 1642.8,986.7 1643.4,987.4 1644.0,986.3 1644.6,986.4 1645.3,986.7 1645.9,986.5 1646.5,985.7 1647.1,985.7 1647.7,985.8 1648.3,985.0 1648.9,985.4 1649.6,984.5 1650.2,985.4 1650.8,983.7 1651.4,985.2 1652.0,983.4 1652.6,983.8 1653.2,982.7 1653.8,982.7 1654.5,982.2 1655.1,982.7 1655.7,980.9 1656.3,982.1 1656.9,983.3 1657.5,983.4 1658.1,982.8 1658.8,982.4 1659.4,982.5 1660.0,981.7 1660.6,981.2 1661.2,983.4 1661.8,982.0 1662.4,982.4 1663.1,983.7 1663.7,982.5 1664.3,982.4 1664.9,984.3 1665.5,983.6 1666.1,984.6 1666.7,983.3 1667.4,984.6 1668.0,985.2 1668.6,985.8 1669.2,986.4 1669.8,984.9 1670.4,985.5 1671.0,986.8 1671.7,985.9 1672.3,986.4 1672.9,985.8 1673.5,986.3 1674.1,987.4 1674.7,988.0 1675.3,985.8 1676.0,987.3 1676.6,987.4 1677.2,986.0 1677.8,987.3 1678.4,986.5 1679.0,987.3 1679.6,987.7 1680.3,987.2 1680.9,988.5 1681.5,988.0 1682.1,988.7 1682.7,988.9 1683.3,988.9 1683.9,988.1 1684.6,988.4 1685.2,987.5 1685.8,988.9 1686.4,988.8 1687.0,988.7 1687.6,989.1 1688.2,989.3 1688.9,989.3 1689.5,989.5 1690.1,987.9 1690.7,989.1 1691.3,988.5 1691.9,989.1 1692.5,988.3 1693.2,989.6 1693.8,988.7 1694.4,989.4 1695.0,988.2 1695.6,987.9 1696.2,989.4 1696.8,988.1 1697.5,989.6 1698.1,989.8 1698.7,988.8 1699.3,987.1 1699.9,988.2 1700.5,988.7 1701.1,988.5 1701.8,987.7 1702.4,989.1 1703.0,988.6 1703.6,990.5 1704.2,988.5 1704.8,989.4 1705.4,988.2 1706.0,990.2 1706.7,989.2 1707.3,989.2 1707.9,988.5 1708.5,988.4 1709.1,990.3 1709.7,989.0 1710.3,990.1 1711.0,988.7 1711.6,988.9 1712.2,988.4 1712.8,990.2 1713.4,988.9 1714.0,989.2 1714.6,988.7 1715.3,988.5 1715.9,988.4 1716.5,988.1 1717.1,989.3 1717.7,988.7 1718.3,988.6 1718.9,989.3 1719.6,988.6 1720.2,989.1 1720.8,987.7 1721.4,989.4 1722.0,989.8 1722.6,990.2 1723.2,988.8 1723.9,989.2 1724.5,989.1 1725.1,990.9 1725.7,987.8 1726.3,988.7 1726.9,989.6 1727.5,988.7 1728.2,989.2 1728.8,989.2 1729.4,988.2 1730.0,989.2 1730.6,989.8 1731.2,990.7 1731.8,989.3 1732.5,989.3 1733.1,990.1 1733.7,989.2 1734.3,988.8 1734.9,989.4 1735.5,988.9 1736.1,990.0 1736.8,988.4 1737.4,989.3 1738.0,988.9 1738.6,988.9 1739.2,988.2 1739.8,989.3 1740.4,988.4 1741.1,989.5 1741.7,989.3 1742.3,988.8 1742.9,988.3 1743.5,988.6 1744.1,989.3 1744.7,988.8 1745.4,987.7 1746.0,988.2 1746.6,989.5 1747.2,990.2 1747.8,988.9 1748.4,988.5 1749.0,987.0 1749.7,989.9 1750.3,989.0 1750.9,988.5 1751.5,989.0 1752.1,989.8 1752.7,989.0 1753.3,989.3 1754.0,989.2 1754.6,987.9 1755.2,988.3 1755.8,989.6 1756.4,989.7 1757.0,990.1 1757.6,989.9 1758.2,987.4 1758.9,989.6 1759.5,990.1 1760.1,989.0 1760.7,989.7 1761.3,989.3 1761.9,989.4 1762.5,990.2 1763.2,991.1 1763.8,989.9 1764.4,990.2 1765.0,987.9 1765.6,989.9 1766.2,989.2 1766.8,989.7 1767.5,989.3 1768.1,988.4 1768.7,989.9 1769.3,990.1 1769.9,988.9 1770.5,989.4 1771.1,989.1 1771.8,990.7 1772.4,989.3 1773.0,991.3 1773.6,990.1 1774.2,989.9 1774.8,987.6 1775.4,988.6 1776.1,988.6 1776.7,989.7 1777.3,989.3 1777.9,988.4 1778.5,988.7 1779.1,989.8 1779.7,988.7 1780.4,989.6 1781.0,988.8 1781.6,987.7 1782.2,988.5 1782.8,989.7 1783.4,989.5 1784.0,988.5 1784.7,989.6 1785.3,989.3 1785.9,988.1 1786.5,987.5 1787.1,988.8 1787.7,988.3 1788.3,988.5 1789.0,989.6 1789.6,989.4 1790.2,990.2 1790.8,988.7 1791.4,989.3 1792.0,989.6 1792.6,988.2 1793.3,989.3 1793.9,988.2 1794.5,990.1 1795.1,989.9 1795.7,990.8 1796.3,989.7 1796.9,988.6 1797.6,988.3 1798.2,989.1 1798.8,989.3 1799.4,989.9 1800.0,991.0 1800.6,989.1 1801.2,990.1 1801.9,989.8 1802.5,987.9 1803.1,989.7 1803.7,988.4 1804.3,988.9 1804.9,988.9 1805.5,986.9 1806.2,990.0 1806.8,989.8 1807.4,990.8 1808.0,989.1 1808.6,989.1 1809.2,988.7 1809.8,989.9 1810.4,989.9 1811.1,989.6 1811.7,990.1 1812.3,988.7 1812.9,989.6 1813.5,989.7 1814.1,989.0 1814.7,987.8 1815.4,989.8 1816.0,989.0 1816.6,989.6 1817.2,989.5 1817.8,989.4 1818.4,989.3 1819.0,988.7 1819.7,989.9 1820.3,988.1 1820.9,988.9 1821.5,988.5 1822.1,988.7 1822.7,988.3 1823.3,988.9 1824.0,987.9 1824.6,988.9 1825.2,988.8 1825.8,988.7 1826.4,988.9 1827.0,989.9 1827.6,989.2 1828.3,988.5 1828.9,990.5 1829.5,990.1 1830.1,987.6 1830.7,989.7 1831.3,989.9 1831.9,989.1 1832.6,989.7 1833.2,989.2 1833.8,988.8 1834.4,989.5 1835.0,988.5 1835.6,989.8 1836.2,989.8 1836.9,989.0 1837.5,988.6 1838.1,989.2 1838.7,987.3 1839.3,988.9 1839.9,989.0 1840.5,989.5 1841.2,990.4 1841.8,988.0 1842.4,987.9 1843.0,988.6 1843.6,990.3 1844.2,988.8 1844.8,989.4 1845.5,988.8 1846.1,988.3 1846.7,987.0 1847.3,988.2 1847.9,987.6 1848.5,988.1 1849.1,989.8 1849.8,987.1 1850.4,988.4 1851.0,986.9 1851.6,989.2 1852.2,987.3 1852.8,988.2 1853.4,988.2 1854.1,988.9 1854.7,989.2 1855.3,986.5 1855.9,987.6 1856.5,987.1 1857.1,987.0 1857.7,987.8 1858.4,986.8 1859.0,986.9 1859.6,985.8 1860.2,987.0 1860.8,986.6 1861.4,987.5 1862.0,985.9 1862.7,986.2 1863.3,986.1 1863.9,984.9 1864.5,986.2 1865.1,985.8 1865.7,985.9 1866.3,985.9 1866.9,985.2 1867.6,983.5 1868.2,984.3 1868.8,985.7 1869.4,983.6 1870.0,982.1 1870.6,983.1 1871.2,983.3 1871.9,980.7 1872.5,982.8 1873.1,980.6 1873.7,980.7 1874.3,979.2 1874.9,981.0 1875.5,978.9 1876.2,979.9 1876.8,979.9 1877.4,979.6 1878.0,979.7 1878.6,978.0 1879.2,978.4 1879.8,978.4 1880.5,976.4 1881.1,977.0 1881.7,974.9 1882.3,976.0 1882.9,978.4 1883.5,976.4 1884.1,976.0 1884.8,976.4 1885.4,976.3 1886.0,978.3 1886.6,978.7 1887.2,979.1 1887.8,977.1 1888.4,978.3 1889.1,976.6 1889.7,980.1 1890.3,979.9 1890.9,979.6 1891.5,979.9 1892.1,979.1 1892.7,981.3 1893.4,982.1 1894.0,982.1 1894.6,982.1 1895.2,982.0 1895.8,983.5 1896.4,981.8 1897.0,985.4 1897.7,984.5 1898.3,983.3 1898.9,985.7 1899.5,984.0 1900.1,984.4 1900.7,984.6 1901.3,984.5 1902.0,984.4 1902.6,984.4 1903.2,985.3 1903.8,984.3 1904.4,985.2 1905.0,986.6 1905.6,985.7 1906.3,985.8 1906.9,986.9 1907.5,987.1 1908.1,987.2 1908.7,985.2 1909.3,986.7 1909.9,986.8 1910.6,986.0 1911.2,986.7 1911.8,987.8 1912.4,986.1 1913.0,987.1 1913.6,987.4 1914.2,987.4 1914.9,987.9 1915.5,988.4 1916.1,985.5 1916.7,988.7 1917.3,987.4 1917.9,988.2 1918.5,986.6 1919.1,986.6 1919.8,987.2 1920.4,986.8 1921.0,988.1 1921.6,986.2 1922.2,985.8 1922.8,987.2 1923.4,986.9 1924.1,987.3 1924.7,986.4 1925.3,988.0 1925.9,986.7 1926.5,988.1 1927.1,988.0 1927.7,987.2 1928.4,987.1 1929.0,988.5 1929.6,987.7 1930.2,986.1 1930.8,986.3 1931.4,987.1 1932.0,986.9 1932.7,987.0 1933.3,987.1 1933.9,985.5 1934.5,986.5 1935.1,985.5 1935.7,985.5 1936.3,986.3 1937.0,985.1 1937.6,985.7 1938.2,984.2 1938.8,984.6 1939.4,984.7 1940.0,985.1 1940.6,983.8 1941.3,983.7 1941.9,983.4 1942.5,984.8 1943.1,983.3 1943.7,983.2 1944.3,983.9 1944.9,982.7 1945.6,982.2 1946.2,983.4 1946.8,980.2 1947.4,980.2 1948.0,980.8 1948.6,980.0 1949.2,980.8 1949.9,980.0 1950.5,980.8 1951.1,979.7 1951.7,979.3 1952.3,980.0 1952.9,979.4 1953.5,980.1 1954.2,980.0 1954.8,979.4 1955.4,980.3 1956.0,980.9 1956.6,980.4 1957.2,979.9 1957.8,981.5 1958.5,979.4 1959.1,980.7 1959.7,980.5 1960.3,981.6 1960.9,981.2 1961.5,983.4 1962.1,982.2 1962.8,982.7 1963.4,983.1 1964.0,982.2 1964.6,984.0 1965.2,983.9 1965.8,982.8 1966.4,983.9 1967.1,983.4 1967.7,985.2 1968.3,986.0 1968.9,985.7 1969.5,984.1 1970.1,984.9 1970.7,984.8 1971.3,986.9 1972.0,985.9 1972.6,986.8 1973.2,986.0 1973.8,987.6 1974.4,986.9 1975.0,986.6 1975.6,988.2 1976.3,987.5 1976.9,987.7 1977.5,987.3 1978.1,988.9 1978.7,988.3 1979.3,987.2 1979.9,986.7 1980.6,987.4 1981.2,990.4 1981.8,987.8 1982.4,988.0 1983.0,989.4 1983.6,988.4 1984.2,988.6 1984.9,987.5 1985.5,989.0 1986.1,988.0 1986.7,988.6 1987.3,988.9 1987.9,988.8 1988.5,987.8 1989.2,987.8 1989.8,989.3 1990.4,988.1 1991.0,988.6 1991.6,988.6 1992.2,987.9 1992.8,989.0 1993.5,989.5 1994.1,987.9 1994.7,988.9 1995.3,988.5 1995.9,988.0 1996.5,988.1 1997.1,989.0 1997.8,989.3 1998.4,989.4 1999.0,988.8 1999.6,988.4 2000.2,988.3 2000.8,988.4 2001.4,989.6 2002.1,988.8 2002.7,990.0 2003.3,989.0 2003.9,989.5 2004.5,987.8 2005.1,989.7 2005.7,990.2 2006.4,989.8 2007.0,989.2 2007.6,989.8 2008.2,989.9 2008.8,990.0 2009.4,989.4 2010.0,989.9 2010.7,988.8 2011.3,988.4 2011.9,987.8 2012.5,989.0 2013.1,988.7 2013.7,989.0 2014.3,988.3 2015.0,988.5 2015.6,989.2 2016.2,990.2 2016.8,988.7 2017.4,989.8 2018.0,989.1 2018.6,989.6 2019.3,990.2 2019.9,989.3 2020.5,987.8 2021.1,988.9 2021.7,989.4 2022.3,990.6 2022.9,990.4 2023.5,988.8 2024.2,988.9 2024.8,989.6 2025.4,989.1 2026.0,989.7 2026.6,990.6 2027.2,990.5 2027.8,989.1 2028.5,988.7 2029.1,989.1 2029.7,989.0 2030.3,991.2 2030.9,989.6 2031.5,989.4 2032.1,989.7 2032.8,989.4 2033.4,990.7 2034.0,990.0 2034.6,990.7 2035.2,988.5 2035.8,989.1 2036.4,989.6 2037.1,988.9 2037.7,989.3 2038.3,989.3 2038.9,989.9 2039.5,990.2 2040.1,989.1 2040.7,989.6 2041.4,989.7 2042.0,989.7 2042.6,990.6 2043.2,989.5 2043.8,989.2 2044.4,988.6 2045.0,990.3 2045.7,990.1 2046.3,989.2 2046.9,989.9 2047.5,988.9 2048.1,989.7 2048.7,989.5 2049.3,990.1 2050.0,989.3 2050.6,991.1 2051.2,988.7 2051.8,990.5 2052.4,990.2 2053.0,989.4 2053.6,987.0 2054.3,988.4 2054.9,990.2 2055.5,989.1 2056.1,987.4 2056.7,990.5 2057.3,989.7 2057.9,990.6 2058.6,989.8 2059.2,988.8 2059.8,990.0 2060.4,990.0 2061.0,990.0 2061.6,989.1 2062.2,990.2 2062.9,988.5 2063.5,989.9 2064.1,990.2 2064.7,990.4 2065.3,990.6 2065.9,989.1 2066.5,989.6 2067.2,990.1 2067.8,989.2 2068.4,990.0 2069.0,989.5 2069.6,989.2 2070.2,987.6 2070.8,988.8 2071.5,989.5 2072.1,989.6 2072.7,989.6 2073.3,990.4 2073.9,989.6 2074.5,989.0 2075.1,988.9 2075.7,988.9 2076.4,989.3 2077.0,988.8 2077.6,988.9 2078.2,989.4 2078.8,990.4 2079.4,989.9 2080.0,990.6 2080.7,989.6 2081.3,988.9 2081.9,989.2 2082.5,988.2 2083.1,989.2 2083.7,989.3 2084.3,990.2 2085.0,989.9 2085.6,988.8 2086.2,990.9 2086.8,989.9 2087.4,991.0 2088.0,989.4 2088.6,990.0 2089.3,989.1 2089.9,988.2 2090.5,989.2 2091.1,989.3 2091.7,989.4 2092.3,988.8 2092.9,989.5 2093.6,988.9 2094.2,989.2 2094.8,990.2 2095.4,989.0 2096.0,989.6 2096.6,989.5 2097.2,989.6 2097.9,989.4 2098.5,989.1 2099.1,988.9 2099.7,990.1 2100.3,989.1 2100.9,989.8 2101.5,989.7 2102.2,989.3 2102.8,988.9 2103.4,988.9 2104.0,989.9 2104.6,989.2 2105.2,988.2 2105.8,988.5 2106.5,989.9 2107.1,989.3 2107.7,989.6 2108.3,989.8 2108.9,991.3 2109.5,989.6 2110.1,990.2 2110.8,989.8 2111.4,989.2 2112.0,988.3 2112.6,990.1 2113.2,988.5 2113.8,989.8 2114.4,989.0 2115.1,989.3 2115.7,989.2 2116.3,989.8 2116.9,989.5 2117.5,989.6 2118.1,989.9 2118.7,989.9 2119.4,990.7 2120.0,989.8 2120.6,989.2 2121.2,989.0 2121.8,989.0 2122.4,989.0 2123.0,988.9 2123.7,989.5 2124.3,988.8 2124.9,988.8 2125.5,989.8 2126.1,988.8 2126.7,990.1 2127.3,989.1 2127.9,988.8 2128.6,988.6 2129.2,989.7 2129.8,989.0 2130.4,990.5 2131.0,989.9 2131.6,990.9 2132.2,990.0 2132.9,989.0 2133.5,990.0 2134.1,988.0 2134.7,989.4 2135.3,990.2 2135.9,987.0 2136.5,990.2 2137.2,989.8 2137.8,989.8 2138.4,990.6 2139.0,988.6 2139.6,989.2 2140.2,990.1 2140.8,990.0 2141.5,990.5 2142.1,988.7 2142.7,989.3 2143.3,988.6 2143.9,989.8 2144.5,989.3 2145.1,988.0 2145.8,988.6 2146.4,990.6 2147.0,989.8 2147.6,989.8 2148.2,989.1 2148.8,990.1 2149.4,989.5 2150.1,988.5 2150.7,990.4 2151.3,989.1 2151.9,989.1 2152.5,989.6 2153.1,990.5 2153.7,989.2 2154.4,989.9 2155.0,989.0 2155.6,990.1 2156.2,989.1 2156.8,990.2 2157.4,989.0 2158.0,991.2 2158.7,989.5 2159.3,989.1 2159.9,989.7 2160.5,989.1 2161.1,990.2 2161.7,989.4 2162.3,989.6 2163.0,990.6 2163.6,988.9 2164.2,989.8 2164.8,989.5 2165.4,989.9 2166.0,989.6 2166.6,989.9 2167.3,989.6 2167.9,988.9 2168.5,990.4 2169.1,989.4 2169.7,990.4 2170.3,989.5 2170.9,989.6 2171.6,990.2 2172.2,990.4 2172.8,990.3 2173.4,989.5 2174.0,989.5 2174.6,988.4 2175.2,989.3 2175.9,989.6 2176.5,988.4 2177.1,990.1 2177.7,988.1 2178.3,989.9 2178.9,989.6 2179.5,989.1 2180.2,989.9 2180.8,990.7 2181.4,990.0 2182.0,989.1 2182.6,988.2 2183.2,990.2 2183.8,988.6 2184.4,989.6 2185.1,988.9 2185.7,989.7 2186.3,988.4 2186.9,990.2 2187.5,989.7 2188.1,990.4 2188.7,988.8 2189.4,988.7 2190.0,988.5 2190.6,988.3 2191.2,988.8 2191.8,989.1 2192.4,988.2 2193.0,991.0 2193.7,989.5 2194.3,990.5 2194.9,989.1 2195.5,990.2 2196.1,990.6 2196.7,989.9 2197.3,989.3 2198.0,989.6 2198.6,988.4 2199.2,989.3 2199.8,990.2 2200.4,989.0 2201.0,989.9 2201.6,989.2 2202.3,989.8 2202.9,990.6 2203.5,987.5 2204.1,988.3 2204.7,989.5 2205.3,988.3 2205.9,988.5 2206.6,990.0 2207.2,989.4 2207.8,990.2 2208.4,988.1 2209.0,988.5 2209.6,988.4 2210.2,989.4 2210.9,988.5 2211.5,989.7 2212.1,989.8 2212.7,988.3 2213.3,987.3 2213.9,987.1 2214.5,988.5 2215.2,988.7 2215.8,989.4 2216.4,988.9 2217.0,988.3 2217.6,989.4 2218.2,987.9 2218.8,989.1 2219.5,987.5 2220.1,988.2 2220.7,988.3 2221.3,987.7 2221.9,987.3 2222.5,987.6 2223.1,985.7 2223.8,986.5 2224.4,985.1 2225.0,987.3 2225.6,985.7 2226.2,985.5 2226.8,985.9 2227.4,985.0 2228.1,985.1 2228.7,985.6 2229.3,985.7 2229.9,986.3 2230.5,984.3 2231.1,985.0 2231.7,983.5 2232.4,984.1 2233.0,984.0 2233.6,984.8 2234.2,983.4 2234.8,983.1 2235.4,982.4 2236.0,982.4 2236.6,980.7 2237.3,983.6 2237.9,981.3 2238.5,983.3 2239.1,983.1 2239.7,982.1 2240.3,981.8 2240.9,982.4 2241.6,981.9 2242.2,982.3 2242.8,983.5 2243.4,982.1 2244.0,983.8 2244.6,982.9 2245.2,983.0 2245.9,984.2 2246.5,983.5 2247.1,981.7 2247.7,984.5 2248.3,982.6 2248.9,983.9 2249.5,984.6 2250.2,984.7 2250.8,985.4 2251.4,985.4 2252.0,985.1 2252.6,984.7 2253.2,986.3 2253.8,985.3 2254.5,985.8 2255.1,986.0 2255.7,987.1 2256.3,986.8 2256.9,988.0 2257.5,987.9 2258.1,988.5 2258.8,988.8 2259.4,988.5 2260.0,987.6 2260.6,986.9 2261.2,987.5 2261.8,987.3 2262.4,989.3 2263.1,987.5 2263.7,989.3 2264.3,989.2 2264.9,988.9 2265.5,989.5 2266.1,988.9 2266.7,988.0 2267.4,989.9 2268.0,988.3 2268.6,989.7 2269.2,988.6 2269.8,988.9 2270.4,989.5 2271.0,989.8 2271.7,988.2 2272.3,990.2 2272.9,988.9 2273.5,989.6 2274.1,990.6 2274.7,990.3 2275.3,989.6 2276.0,990.3 2276.6,990.5 2277.2,990.9 2277.8,990.5 2278.4,990.2 2279.0,989.8 2279.6,991.0 2280.3,990.4 2280.9,990.8 2281.5,989.4 2282.1,992.2 2282.7,991.1 2283.3,989.4 2283.9,990.7 2284.6,990.9 2285.2,991.8 2285.8,989.8 2286.4,990.2 2287.0,990.7 2287.6,989.9 2288.2,990.2 2288.8,990.5 2289.5,990.3 2290.1,991.4 2290.7,990.7 2291.3,990.2 2291.9,990.7"/>
<polyline clip-path="url(#cc)" fill="none" stroke="#FF8000" stroke-width="8.5" stroke-linejoin="round" stroke-linecap="butt" shape-rendering="crispEdges" marker-start="url(#m3)" marker-mid="url(#m3)" marker-end="url(#m3)" points="142.5,1397.0 143.1,1397.7 143.7,1394.9 144.3,1398.0 145.0,1397.5 145.6,1394.9 146.2,1396.6 146.8,1397.3 147.4,1398.5 148.0,1397.6 148.6,1397.4 149.3,1393.3 149.9,1398.9 150.5,1396.6 151.1,1395.2 151.7,1396.5 152.3,1398.3 152.9,1397.1 153.6,1396.0 154.2,1399.0 154.8,1396.2 155.4,1399.3 156.0,1399.0 156.6,1395.2 157.2,1398.1 157.9,1397.4 158.5,1394.4 159.1,1394.6 159.7,1394.8 160.3,1398.5 160.9,1399.1 161.5,1394.9 162.2,1398.6 162.8,1394.0 163.4,1392.8 164.0,1398.5 164.6,1400.3 165.2,1396.1 165.8,1398.7 166.5,1394.4 167.1,1394.2 167.7,1398.5 168.3,1397.0 168.9,1398.6 169.5,1395.6 170.1,1397.1 170.7,1394.8 171.4,1399.8 172.0,1396.3 172.6,1401.0 173.2,1394.7 173.8,1397.2 174.4,1397.7 175.0,1398.4 175.7,1398.8 176.3,1398.2 176.9,1391.6 177.5,1398.3 178.1,1398.8 178.7,1394.7 179.3,1391.6 180.0,1397.0 180.6,1397.7 181.2,1397.2 181.8,1396.3 182.4,1394.8 183.0,1393.8 183.6,1397.1 184.3,1395.9 184.9,1395.5 185.5,1397.1 186.1,1397.7 186.7,1395.1 187.3,1397.8 187.9,1394.5 188.6,1397.3 189.2,1397.5 189.8,1399.2 190.4,1397.0 191.0,1397.5 191.6,1396.3 192.2,1396.6 192.9,1397.5 193.5,1397.7 194.1,1395.5 194.7,1392.3 195.3,1398.6 195.9,1397.1 196.5,1394.9 197.2,1398.9 197.8,1395.4 198.4,1396.2 199.0,1392.6 199.6,1403.1 200.2,1393.6 200.8,1400.4 201.5,1398.1 202.1,1396.5 202.7,1395.2 203.3,1399.2 203.9,1399.2 204.5,1396.8 205.1,1397.4 205.8,1400.0 206.4,1397.5 207.0,1394.9 207.6,1398.6 208.2,1395.8 208.8,1396.8 209.4,1397.3 210.1,1394.9 210.7,1398.6 211.3,1398.3 211.9,1400.7 212.5,1397.6 213.1,1394.3 213.7,1394.2 214.4,1396.9 215.0,1395.4 215.6,1396.1 216.2,1399.7 216.8,1397.0 217.4,1396.6 218.0,1398.5 218.7,1393.1 219.3,1396.8 219.9,1395.0 220.5,1396.0 221.1,1398.1 221.7,1396.7 222.3,1401.2 222.9,1399.2 223.6,1395.6 224.2,1397.6 224.8,1392.6 225.4,1395.1 226.0,1397.9 226.6,1399.0 227.2,1397.4 227.9,1400.4 228.5,1395.3 229.1,1396.4 229.7,1395.2 230.3,1396.7 230.9,1397.4 231.5,1398.4 232.2,1396.9 232.8,1399.7 233.4,1395.0 234.0,1394.6 234.6,1397.9 235.2,1395.5 235.8,1396.4 236.5,1396.8 237.1,1397.8 237.7,1395.2 238.3,1399.5 238.9,1396.8 239.5,1396.9 240.1,1394.0 240.8,1398.2 241.4,1396.3 242.0,1394.5 242.6,1395.4 243.2,1395.2 243.8,1394.1 244.4,1394.8 245.1,1397.6 245.7,1395.9 246.3,1399.4 246.9,1396.3 247.5,1396.3 248.1,1398.9 248.7,1399.5 249.4,1401.4 250.0,1393.4 250.6,1398.6 251.2,1401.3 251.8,1396.1 252.4,1400.6 253.0,1396.9 253.7,1398.0 254.3,1398.4 254.9,1395.6 255.5,1395.8 256.1,1394.5 256.7,1400.9 257.3,1398.0 258.0,1398.1 258.6,1396.7 259.2,1392.8 259.8,1396.4 260.4,1396.2 261.0,1397.6 261.6,1395.4 262.3,1395.1 262.9,1399.3 263.5,1395.7 264.1,1398.9 264.7,1394.6 265.3,1396.8 265.9,1394.2 266.6,1394.9 267.2,1396.6 267.8,1396.5 268.4,1397.3 269.0,1397.5 269.6,1396.8 270.2,1397.3 270.9,1395.7 271.5,1397.5 272.1,1397.5 272.7,1399.0 273.3,1397.5 273.9,1396.6 274.5,1397.3 275.1,1398.1 275.8,1396.9 276.4,1395.0 277.0,1397.4 277.6,1395.6 278.2,1398.9 278.8,1395.1 279.4,1395.9 280.1,1395.9 280.7,1398.1 281.3,1399.1 281.9,1396.8 282.5,1398.4 283.1,1396.3 283.7,1398.5 284.4,1399.6 285.0,1397.7 285.6,1397.6 286.2,1397.6 286.8,1393.4 287.4,1394.4 288.0,1400.5 288.7,1396.3 289.3,1400.4 289.9,1398.3 290.5,1395.8 291.1,1397.1 291.7,1397.0 292.3,1394.7 293.0,1397.1 293.6,1399.0 294.2,1398.1 294.8,1397.8 295.4,1396.4 296.0,1397.3 296.6,1396.1 297.3,1394.6 297.9,1393.0 298.5,1398.4 299.1,1398.6 299.7,1397.5 300.3,1395.8 300.9,1396.5 301.6,1394.1 302.2,1396.1 302.8,1394.7 303.4,1395.5 304.0,1395.3 304.6,1397.2 305.2,1395.9 305.9,1396.0 306.5,1396.6 307.1,1395.0 307.7,1394.6 308.3,1397.7 308.9,1398.9 309.5,1394.2 310.2,1394.3 310.8,1396.0 311.4,1394.3 312.0,1396.1 312.6,1395.8 313.2,1397.9 313.8,1396.3 314.5,1395.7 315.1,1396.3 315.7,1401.5 316.3,1398.0 316.9,1395.5 317.5,1397.3 318.1,1395.0 318.8,1395.8 319.4,1394.3 320.0,1398.4 320.6,1395.7 321.2,1398.0 321.8,1399.1 322.4,1397.3 323.1,1396.9 323.7,1397.9 324.3,1397.2 324.9,1397.8 325.5,1395.5 326.1,1396.8 326.7,1397.0 327.4,1399.1 328.0,1391.3 328.6,1395.5 329.2,1396.2 329.8,1394.7 330.4,1396.2 331.0,1400.0 331.6,1393.9 332.3,1395.5 332.9,1396.1 333.5,1400.1 334.1,1397.6 334.7,1393.5 335.3,1398.9 335.9,1395.3 336.6,1396.7 337.2,1392.2 337.8,1398.6 338.4,1394.4 339.0,1394.1 339.6,1394.4 340.2,1394.6 340.9,1395.6 341.5,1395.3 342.1,1395.0 342.7,1394.4 343.3,1397.5 343.9,1394.9 344.5,1394.9 345.2,1397.0 345.8,1393.9 346.4,1394.5 347.0,1391.9 347.6,1392.1 348.2,1392.2 348.8,1389.5 349.5,1387.8 350.1,1384.3 350.7,1386.8 351.3,1386.8 351.9,1385.9 352.5,1390.3 353.1,1390.0 353.8,1388.1 354.4,1391.7 355.0,1392.3 355.6,1393.2 356.2,1394.6 356.8,1395.0 357.4,1390.1 358.1,1391.0 358.7,1393.7 359.3,1391.4 359.9,1392.9 360.5,1392.1 361.1,1392.6 361.7,1392.2 362.4,1393.8 363.0,1392.9 363.6,1393.3 364.2,1389.8 364.8,1389.9 365.4,1389.6 366.0,1392.4 366.7,1394.4 367.3,1392.0 367.9,1390.8 368.5,1396.6 369.1,1391.1 369.7,1390.0 370.3,1389.7 371.0,1389.2 371.6,1388.6 372.2,1389.2 372.8,1387.0 373.4,1391.8 374.0,1386.2 374.6,1386.4 375.3,1387.0 375.9,1390.1 376.5,1387.8 377.1,1386.6 377.7,1388.7 378.3,1387.8 378.9,1386.1 379.6,1384.6 380.2,1382.3 380.8,1384.0 381.4,1381.8 382.0,1381.0 382.6,1379.3 383.2,1381.0 383.8,1379.9 384.5,1377.7 385.1,1377.0 385.7,1375.9 386.3,1374.6 386.9,1373.8 387.5,1370.3 388.1,1371.2 388.8,1371.1 389.4,1365.6 390.0,1365.3 390.6,1361.4 391.2,1358.0 391.8,1355.4 392.4,1350.7 393.1,1346.7 393.7,1343.3 394.3,1338.4 394.9,1333.5 395.5,1324.4 396.1,1322.1 396.7,1310.3 397.4,1300.3 398.0,1289.3 398.6,1280.9 399.2,1268.0 399.8,1250.5 400.4,1234.6 401.0,1214.1 401.7,1191.1 402.3,1171.7 402.9,1150.8 403.5,1133.0 404.1,1123.4 404.7,1114.8 405.3,1109.9 406.0,1111.4 406.6,1121.4 407.2,1136.5 407.8,1150.8 408.4,1166.1 409.0,1187.0 409.6,1205.5 410.3,1229.8 410.9,1243.9 411.5,1261.2 412.1,1272.8 412.7,1288.4 413.3,1299.2 413.9,1309.6 414.6,1319.0 415.2,1327.7 415.8,1329.3 416.4,1337.0 417.0,1344.5 417.6,1345.9 418.2,1349.1 418.9,1355.1 419.5,1357.0 420.1,1357.5 420.7,1363.6 421.3,1368.0 421.9,1369.1 422.5,1366.9 423.2,1372.8 423.8,1371.8 424.4,1372.7 425.0,1376.5 425.6,1377.0 426.2,1377.2 426.8,1379.4 427.5,1379.3 428.1,1379.4 428.7,1382.4 429.3,1382.8 429.9,1385.4 430.5,1384.9 431.1,1383.6 431.8,1386.9 432.4,1384.8 433.0,1387.9 433.6,1387.5 434.2,1386.0 434.8,1384.7 435.4,1387.0 436.0,1388.6 436.7,1390.6 437.3,1388.6 437.9,1389.6 438.5,1389.1 439.1,1388.2 439.7,1391.2 440.3,1389.7 441.0,1392.7 441.6,1390.9 442.2,1389.9 442.8,1390.1 443.4,1392.0 444.0,1390.1 444.6,1389.2 445.3,1390.5 445.9,1393.5 446.5,1394.5 447.1,1391.7 447.7,1392.0 448.3,1391.6 448.9,1392.4 449.6,1392.4 450.2,1393.0 450.8,1394.6 451.4,1391.7 452.0,1393.5 452.6,1393.2 453.2,1393.6 453.9,1390.0 454.5,1394.5 455.1,1393.9 455.7,1392.1 456.3,1394.7 456.9,1394.1 457.5,1394.7 458.2,1396.1 458.8,1393.8 459.4,1394.0 460.0,1394.3 460.6,1392.4 461.2,1391.6 461.8,1395.5 462.5,1395.9 463.1,1395.8 463.7,1394.7 464.3,1395.0 464.9,1393.9 465.5,1394.8 466.1,1393.6 466.8,1394.4 467.4,1395.1 468.0,1395.9 468.6,1393.7 469.2,1394.7 469.8,1394.1 470.4,1396.8 471.1,1396.1 471.7,1396.2 472.3,1395.3 472.9,1393.8 473.5,1395.8 474.1,1396.3 474.7,1395.7 475.4,1394.5 476.0,1395.2 476.6,1396.2 477.2,1393.7 477.8,1394.0 478.4,1395.9 479.0,1395.7 479.7,1395.3 480.3,1394.2 480.9,1395.5 481.5,1394.9 482.1,1394.4 482.7,1395.1 483.3,1393.3 484.0,1396.6 484.6,1397.8 485.2,1395.5 485.8,1394.3 486.4,1394.9 487.0,1395.4 487.6,1396.5 488.2,1395.3 488.9,1396.1 489.5,1396.2 490.1,1396.3 490.7,1395.4 491.3,1396.2 491.9,1397.4 492.5,1394.6 493.2,1396.1 493.8,1394.8 494.4,1394.2 495.0,1397.4 495.6,1395.4 496.2,1397.5 496.8,1396.0 497.5,1395.1 498.1,1395.0 498.7,1396.1 499.3,1394.2 499.9,1397.2 500.5,1397.0 501.1,1395.2 501.8,1396.1 502.4,1395.3 503.0,1395.4 503.6,1393.7 504.2,1395.4 504.8,1395.8 505.4,1395.2 506.1,1393.4 506.7,1393.6 507.3,1396.8 507.9,1393.9 508.5,1392.2 509.1,1393.6 509.7,1393.3 510.4,1395.1 511.0,1395.0 511.6,1394.4 512.2,1394.0 512.8,1392.6 513.4,1395.3 514.0,1393.8 514.7,1392.4 515.3,1392.6 515.9,1392.6 516.5,1394.6 517.1,1393.9 517.7,1394.6 518.3,1394.2 519.0,1393.0 519.6,1393.3 520.2,1393.6 520.8,1390.8 521.4,1394.4 522.0,1394.2 522.6,1393.1 523.3,1392.8 523.9,1392.0 524.5,1389.6 525.1,1389.4 525.7,1390.8 526.3,1390.4 526.9,1391.1 527.6,1390.7 528.2,1388.1 528.8,1386.9 529.4,1386.5 530.0,1384.9 530.6,1387.5 531.2,1383.6 531.9,1384.6 532.5,1382.6 533.1,1380.1 533.7,1377.8 534.3,1375.4 534.9,1374.5 535.5,1373.7 536.2,1370.0 536.8,1368.1 537.4,1363.5 538.0,1359.8 538.6,1357.4 539.2,1353.2 539.8,1345.8 540.4,1342.5 541.1,1339.0 541.7,1333.4 542.3,1330.9 542.9,1326.3 543.5,1321.9 544.1,1320.3 544.7,1321.4 545.4,1320.7 546.0,1321.8 546.6,1324.9 547.2,1328.5 547.8,1330.5 548.4,1334.7 549.0,1339.2 549.7,1342.9 550.3,1348.9 550.9,1354.3 551.5,1358.1 552.1,1359.5 552.7,1363.6 553.3,1369.7 554.0,1370.2 554.6,1375.1 555.2,1375.0 555.8,1378.1 556.4,1380.1 557.0,1381.5 557.6,1382.6 558.3,1384.7 558.9,1385.6 559.5,1385.4 560.1,1388.2 560.7,1387.5 561.3,1389.5 561.9,1388.5 562.6,1391.0 563.2,1391.6 563.8,1390.0 564.4,1393.1 565.0,1392.5 565.6,1392.2 566.2,1392.2 566.9,1391.8 567.5,1392.3 568.1,1391.9 568.7,1393.0 569.3,1394.6 569.9,1395.3 570.5,1393.7 571.2,1394.4 571.8,1394.3 572.4,1393.9 573.0,1395.0 573.6,1393.6 574.2,1393.6 574.8,1395.3 575.5,1395.9 576.1,1395.7 576.7,1397.4 577.3,1395.6 577.9,1395.9 578.5,1396.3 579.1,1395.0 579.8,1395.1 580.4,1397.2 581.0,1397.1 581.6,1393.1 582.2,1399.1 582.8,1396.1 583.4,1395.0 584.1,1394.9 584.7,1395.7 585.3,1397.6 585.9,1397.1 586.5,1394.9 587.1,1395.5 587.7,1395.3 588.4,1396.3 589.0,1396.6 589.6,1397.4 590.2,1396.2 590.8,1396.1 591.4,1395.9 592.0,1396.7 592.6,1399.2 593.3,1398.2 593.9,1396.4 594.5,1396.9 595.1,1398.3 595.7,1395.8 596.3,1395.6 596.9,1397.7 597.6,1399.6 598.2,1396.9 598.8,1396.5 599.4,1396.3 600.0,1397.7 600.6,1397.2 601.2,1395.5 601.9,1397.3 602.5,1396.3 603.1,1396.4 603.7,1398.0 604.3,1398.1 604.9,1398.3 605.5,1396.0 606.2,1397.1 606.8,1395.7 607.4,1396.9 608.0,1398.0 608.6,1397.3 609.2,1398.0 609.8,1396.7 610.5,1396.5 611.1,1394.9 611.7,1396.8 612.3,1396.5 612.9,1396.9 613.5,1398.7 614.1,1396.8 614.8,1396.3 615.4,1397.0 616.0,1397.7 616.6,1397.0 617.2,1396.5 617.8,1398.1 618.4,1396.5 619.1,1397.0 619.7,1396.3 620.3,1397.1 620.9,1398.0 621.5,1398.3 622.1,1398.0 622.7,1397.5 623.4,1397.5 624.0,1397.3 624.6,1395.2 625.2,1397.6 625.8,1399.0 626.4,1397.0 627.0,1397.6 627.7,1398.3 628.3,1397.1 628.9,1397.6 629.5,1397.4 630.1,1397.6 630.7,1397.3 631.3,1397.6 632.0,1396.3 632.6,1396.2 633.2,1398.5 633.8,1397.6 634.4,1397.0 635.0,1397.7 635.6,1397.0 636.3,1398.5 636.9,1398.0 637.5,1399.2 638.1,1397.4 638.7,1397.7 639.3,1397.6 639.9,1397.0 640.6,1398.1 641.2,1398.3 641.8,1398.7 642.4,1397.9 643.0,1397.9 643.6,1396.4 644.2,1396.9 644.9,1399.1 645.5,1396.6 646.1,1399.7 646.7,1398.9 647.3,1398.0 647.9,1398.1 648.5,1396.2 649.1,1397.3 649.8,1396.2 650.4,1398.7 651.0,1395.2 651.6,1398.0 652.2,1398.3 652.8,1398.2 653.4,1397.9 654.1,1399.3 654.7,1397.7 655.3,1399.1 655.9,1397.6 656.5,1397.4 657.1,1396.6 657.7,1396.8 658.4,1399.5 659.0,1396.5 659.6,1397.5 660.2,1400.1 660.8,1396.8 661.4,1397.3 662.0,1399.1 662.7,1396.8 663.3,1398.5 663.9,1397.5 664.5,1398.3 665.1,1399.1 665.7,1399.3 666.3,1397.6 667.0,1397.5 667.6,1398.0 668.2,1397.0 668.8,1395.6 669.4,1397.2 670.0,1398.0 670.6,1399.4 671.3,1399.5 671.9,1398.1 672.5,1397.0 673.1,1398.1 673.7,1399.2 674.3,1398.9 674.9,1398.3 675.6,1397.5 676.2,1397.4 676.8,1397.8 677.4,1398.7 678.0,1397.1 678.6,1397.8 679.2,1397.4 679.9,1396.5 680.5,1398.7 681.1,1399.4 681.7,1397.0 682.3,1399.6 682.9,1397.9 683.5,1398.4 684.2,1399.9 684.8,1397.8 685.4,1397.9 686.0,1396.7 686.6,1398.1 687.2,1398.6 687.8,1398.2 688.5,1398.8 689.1,1397.4 689.7,1397.2 690.3,1398.7 690.9,1398.0 691.5,1396.0 692.1,1397.1 692.8,1396.7 693.4,1397.5 694.0,1399.8 694.6,1398.5 695.2,1399.2 695.8,1398.7 696.4,1398.7 697.1,1397.2 697.7,1397.5 698.3,1398.1 698.9,1397.8 699.5,1398.1 700.1,1401.0 700.7,1399.5 701.3,1399.0 702.0,1397.8 702.6,1397.6 703.2,1398.5 703.8,1398.7 704.4,1398.8 705.0,1398.1 705.6,1399.5 706.3,1398.6 706.9,1396.7 707.5,1399.1 708.1,1397.1 708.7,1397.3 709.3,1399.9 709.9,1397.5 710.6,1398.7 711.2,1398.3 711.8,1399.1 712.4,1398.8 713.0,1397.4 713.6,1397.4 714.2,1397.9 714.9,1398.1 715.5,1399.2 716.1,1397.9 716.7,1397.3 717.3,1396.5 717.9,1397.1 718.5,1400.0 719.2,1397.7 719.8,1398.9 720.4,1400.2 721.0,1397.9 721.6,1397.8 722.2,1396.1 722.8,1398.9 723.5,1399.2 724.1,1397.4 724.7,1398.8 725.3,1398.5 725.9,1396.4 726.5,1400.1 727.1,1398.1 727.8,1397.4 728.4,1396.4 729.0,1397.1 729.6,1397.7 730.2,1397.3 730.8,1399.6 731.4,1399.8 732.1,1398.8 732.7,1398.0 733.3,1397.9 733.9,1398.4 734.5,1396.8 735.1,1397.6 735.7,1396.2 736.4,1398.6 737.0,1397.4 737.6,1397.3 738.2,1398.6 738.8,1397.9 739.4,1397.8 740.0,1398.4 740.7,1399.4 741.3,1398.8 741.9,1398.3 742.5,1398.4 743.1,1398.1 743.7,1397.7 744.3,1399.0 745.0,1397.6 745.6,1399.1 746.2,1397.1 746.8,1397.6 747.4,1398.0 748.0,1399.3 748.6,1398.8 749.3,1398.7 749.9,1397.8 750.5,1397.5 751.1,1397.8 751.7,1398.6 752.3,1398.0 752.9,1397.0 753.5,1398.8 754.2,1398.6 754.8,1397.9 755.4,1398.5 756.0,1398.7 756.6,1399.3 757.2,1398.0 757.8,1397.5 758.5,1400.4 759.1,1398.9 759.7,1399.6 760.3,1396.9 760.9,1398.4 761.5,1397.4 762.1,1400.3 762.8,1398.4 763.4,1399.0 764.0,1397.2 764.6,1399.0 765.2,1399.6 765.8,1398.0 766.4,1399.2 767.1,1397.5 767.7,1399.9 768.3,1398.3 768.9,1397.1 769.5,1399.8 770.1,1397.0 770.7,1398.4 771.4,1398.4 772.0,1399.6 772.6,1397.1 773.2,1399.5 773.8,1397.8 774.4,1397.8 775.0,1395.1 775.7,1399.2 776.3,1398.6 776.9,1397.0 777.5,1398.9 778.1,1399.6 778.7,1399.3 779.3,1397.5 780.0,1398.5 780.6,1399.2 781.2,1396.7 781.8,1397.3 782.4,1398.5 783.0,1397.0 783.6,1398.0 784.3,1396.5 784.9,1398.3 785.5,1398.7 786.1,1397.1 786.7,1397.5 787.3,1399.1 787.9,1399.8 788.6,1398.6 789.2,1398.3 789.8,1399.3 790.4,1397.5 791.0,1399.3 791.6,1398.8 792.2,1398.2 792.9,1399.1 793.5,1398.2 794.1,1399.3 794.7,1397.4 795.3,1397.5 795.9,1398.2 796.5,1398.6 797.2,1398.7 797.8,1399.6 798.4,1399.8 799.0,1398.2 799.6,1398.2 800.2,1397.2 800.8,1399.0 801.5,1398.6 802.1,1398.9 802.7,1397.9 803.3,1399.0 803.9,1397.1 804.5,1400.2 805.1,1397.2 805.7,1399.3 806.4,1398.9 807.0,1398.9 807.6,1398.5 808.2,1397.3 808.8,1398.1 809.4,1399.6 810.0,1397.4 810.7,1398.0 811.3,1398.3 811.9,1396.6 812.5,1398.1 813.1,1399.2 813.7,1399.0 814.3,1398.6 815.0,1397.8 815.6,1398.5 816.2,1398.2 816.8,1399.6 817.4,1397.8 818.0,1396.7 818.6,1398.1 819.3,1399.4 819.9,1397.8 820.5,1398.1 821.1,1398.0 821.7,1399.0 822.3,1398.0 822.9,1398.1 823.6,1397.3 824.2,1397.3 824.8,1400.0 825.4,1398.3 826.0,1397.5 826.6,1397.6 827.2,1398.8 827.9,1398.8 828.5,1398.1 829.1,1396.5 829.7,1398.9 830.3,1398.7 830.9,1398.2 831.5,1397.9 832.2,1396.9 832.8,1399.1 833.4,1397.4 834.0,1398.3 834.6,1397.8 835.2,1397.4 835.8,1398.2 836.5,1397.4 837.1,1398.1 837.7,1398.6 838.3,1397.1 838.9,1398.1 839.5,1398.7 840.1,1397.0 840.8,1397.0 841.4,1397.9 842.0,1399.2 842.6,1397.8 843.2,1397.7 843.8,1398.2 844.4,1397.5 845.1,1398.9 845.7,1399.5 846.3,1398.5 846.9,1397.5 847.5,1397.0 848.1,1398.2 848.7,1398.6 849.4,1398.6 850.0,1398.0 850.6,1398.0 851.2,1396.7 851.8,1397.4 852.4,1397.3 853.0,1398.3 853.7,1398.0 854.3,1398.8 854.9,1398.4 855.5,1397.7 856.1,1397.4 856.7,1399.1 857.3,1397.9 857.9,1398.6 858.6,1398.8 859.2,1397.0 859.8,1398.7 860.4,1400.1 861.0,1398.6 861.6,1398.4 862.2,1398.0 862.9,1399.8 863.5,1398.1 864.1,1397.0 864.7,1396.6 865.3,1396.4 865.9,1398.7 866.5,1397.4 867.2,1397.1 867.8,1397.1 868.4,1399.3 869.0,1398.4 869.6,1397.9 870.2,1399.1 870.8,1397.3 871.5,1400.0 872.1,1398.6 872.7,1399.5 873.3,1398.0 873.9,1397.6 874.5,1397.5 875.1,1398.7 875.8,1396.9 876.4,1398.2 877.0,1397.5 877.6,1398.4 878.2,1399.0 878.8,1398.9 879.4,1397.3 880.1,1397.4 880.7,1397.1 881.3,1398.9 881.9,1398.5 882.5,1398.4 883.1,1398.3 883.7,1398.2 884.4,1397.2 885.0,1398.6 885.6,1399.1 886.2,1397.5 886.8,1397.4 887.4,1398.5 888.0,1397.9 888.7,1399.0 889.3,1398.2 889.9,1397.2 890.5,1398.1 891.1,1398.3 891.7,1397.9 892.3,1396.9 893.0,1398.2 893.6,1396.9 894.2,1398.0 894.8,1397.3 895.4,1398.1 896.0,1399.3 896.6,1397.5 897.3,1396.3 897.9,1396.8 898.5,1398.2 899.1,1397.4 899.7,1398.5 900.3,1396.8 900.9,1397.4 901.6,1397.8 902.2,1399.1 902.8,1397.7 903.4,1397.8 904.0,1398.5 904.6,1397.9 905.2,1399.2 905.9,1397.7 906.5,1397.6 907.1,1396.4 907.7,1397.1 908.3,1398.2 908.9,1397.4 909.5,1397.0 910.1,1397.1 910.8,1397.9 911.4,1397.6 912.0,1396.9 912.6,1397.2 913.2,1398.0 913.8,1396.7 914.4,1397.2 915.1,1397.6 915.7,1397.8 916.3,1397.8 916.9,1397.6 917.5,1397.3 918.1,1397.3 918.7,1396.2 919.4,1397.5 920.0,1397.3 920.6,1398.0 921.2,1396.1 921.8,1398.1 922.4,1396.9 923.0,1397.1 923.7,1397.4 924.3,1397.4 924.9,1396.4 925.5,1395.6 926.1,1397.9 926.7,1397.2 927.3,1397.2 928.0,1396.8 928.6,1396.8 929.2,1396.6 929.8,1397.2 930.4,1396.1 931.0,1396.7 931.6,1396.0 932.3,1396.9 932.9,1397.2 933.5,1396.8 934.1,1395.9 934.7,1395.4 935.3,1396.4 935.9,1395.7 936.6,1396.2 937.2,1395.5 937.8,1395.3 938.4,1395.2 939.0,1396.4 939.6,1395.7 940.2,1393.9 940.9,1395.3 941.5,1395.5 942.1,1395.3 942.7,1395.0 943.3,1395.1 943.9,1395.5 944.5,1394.4 945.2,1394.9 945.8,1393.2 946.4,1394.5 947.0,1394.2 947.6,1394.0 948.2,1394.2 948.8,1393.3 949.5,1392.4 950.1,1393.4 950.7,1394.0 951.3,1392.3 951.9,1391.4 952.5,1394.1 953.1,1393.0 953.8,1393.5 954.4,1392.1 955.0,1391.1 955.6,1391.8 956.2,1392.5 956.8,1391.4 957.4,1390.9 958.1,1391.9 958.7,1390.4 959.3,1389.7 959.9,1389.2 960.5,1387.3 961.1,1389.8 961.7,1388.6 962.4,1387.0 963.0,1387.3 963.6,1385.4 964.2,1386.3 964.8,1386.1 965.4,1383.8 966.0,1384.4 966.6,1384.3 967.3,1381.0 967.9,1380.8 968.5,1378.5 969.1,1377.2 969.7,1377.3 970.3,1375.4 970.9,1374.9 971.6,1371.6 972.2,1367.8 972.8,1365.0 973.4,1362.2 974.0,1359.5 974.6,1357.1 975.2,1350.9 975.9,1348.3 976.5,1342.4 977.1,1339.1 977.7,1333.3 978.3,1327.1 978.9,1323.1 979.5,1315.3 980.2,1307.0 980.8,1301.5 981.4,1293.6 982.0,1288.1 982.6,1279.6 983.2,1272.4 983.8,1267.8 984.5,1261.1 985.1,1259.7 985.7,1254.4 986.3,1256.1 986.9,1253.5 987.5,1256.6 988.1,1258.9 988.8,1262.9 989.4,1266.6 990.0,1272.3 990.6,1279.2 991.2,1282.9 991.8,1291.9 992.4,1299.0 993.1,1307.2 993.7,1312.1 994.3,1320.4 994.9,1324.3 995.5,1332.2 996.1,1335.4 996.7,1341.8 997.4,1346.8 998.0,1349.9 998.6,1355.3 999.2,1358.3 999.8,1362.4 1000.4,1365.4 1001.0,1367.2 1001.7,1369.5 1002.3,1372.2 1002.9,1375.4 1003.5,1374.7 1004.1,1376.6 1004.7,1379.1 1005.3,1378.8 1006.0,1380.5 1006.6,1381.4 1007.2,1383.7 1007.8,1384.1 1008.4,1384.9 1009.0,1386.6 1009.6,1385.4 1010.3,1386.1 1010.9,1386.5 1011.5,1386.4 1012.1,1388.7 1012.7,1388.7 1013.3,1388.8 1013.9,1389.3 1014.6,1390.1 1015.2,1390.4 1015.8,1391.9 1016.4,1391.7 1017.0,1390.3 1017.6,1392.6 1018.2,1392.2 1018.8,1391.8 1019.5,1392.2 1020.1,1392.6 1020.7,1393.6 1021.3,1393.8 1021.9,1395.1 1022.5,1395.1 1023.1,1394.0 1023.8,1394.5 1024.4,1394.7 1025.0,1393.6 1025.6,1393.4 1026.2,1394.5 1026.8,1394.4 1027.4,1394.3 1028.1,1394.0 1028.7,1395.5 1029.3,1394.8 1029.9,1395.0 1030.5,1395.5 1031.1,1395.5 1031.7,1394.6 1032.4,1395.4 1033.0,1395.6 1033.6,1394.5 1034.2,1394.8 1034.8,1395.7 1035.4,1394.9 1036.0,1395.3 1036.7,1395.6 1037.3,1396.0 1037.9,1395.4 1038.5,1395.6 1039.1,1398.1 1039.7,1396.9 1040.3,1395.3 1041.0,1395.3 1041.6,1395.8 1042.2,1396.2 1042.8,1398.0 1043.4,1397.1 1044.0,1396.1 1044.6,1396.3 1045.3,1398.1 1045.9,1397.1 1046.5,1395.7 1047.1,1395.5 1047.7,1396.2 1048.3,1397.7 1048.9,1397.9 1049.6,1398.7 1050.2,1398.0 1050.8,1395.7 1051.4,1396.1 1052.0,1398.1 1052.6,1397.1 1053.2,1396.7 1053.9,1397.4 1054.5,1396.1 1055.1,1397.2 1055.7,1397.4 1056.3,1396.5 1056.9,1396.9 1057.5,1396.8 1058.2,1398.4 1058.8,1397.7 1059.4,1397.5 1060.0,1397.1 1060.6,1398.3 1061.2,1397.7 1061.8,1398.0 1062.5,1398.1 1063.1,1397.5 1063.7,1397.9 1064.3,1397.1 1064.9,1397.4 1065.5,1398.2 1066.1,1397.7 1066.8,1397.9 1067.4,1398.3 1068.0,1398.0 1068.6,1399.2 1069.2,1397.5 1069.8,1396.7 1070.4,1397.4 1071.0,1398.0 1071.7,1397.7 1072.3,1398.6 1072.9,1398.9 1073.5,1398.5 1074.1,1398.6 1074.7,1397.0 1075.3,1397.8 1076.0,1396.9 1076.6,1396.9 1077.2,1397.8 1077.8,1397.6 1078.4,1398.9 1079.0,1397.6 1079.6,1398.6 1080.3,1398.2 1080.9,1396.8 1081.5,1398.9 1082.1,1398.7 1082.7,1396.9 1083.3,1397.5 1083.9,1398.1 1084.6,1397.6 1085.2,1396.4 1085.8,1398.9 1086.4,1397.5 1087.0,1398.3 1087.6,1398.4 1088.2,1397.3 1088.9,1397.9 1089.5,1397.2 1090.1,1397.2 1090.7,1397.5 1091.3,1397.9 1091.9,1398.1 1092.5,1398.4 1093.2,1398.4 1093.8,1397.3 1094.4,1399.3 1095.0,1397.2 1095.6,1398.6 1096.2,1397.9 1096.8,1397.7 1097.5,1398.2 1098.1,1399.5 1098.7,1398.5 1099.3,1398.7 1099.9,1398.0 1100.5,1399.4 1101.1,1398.2 1101.8,1397.3 1102.4,1399.5 1103.0,1398.8 1103.6,1399.1 1104.2,1398.6 1104.8,1398.9 1105.4,1397.7 1106.1,1398.7 1106.7,1399.1 1107.3,1399.8 1107.9,1397.7 1108.5,1397.5 1109.1,1397.2 1109.7,1397.3 1110.4,1397.9 1111.0,1397.3 1111.6,1398.5 1112.2,1399.1 1112.8,1399.1 1113.4,1397.7 1114.0,1398.7 1114.7,1398.9 1115.3,1398.7 1115.9,1399.3 1116.5,1397.9 1117.1,1398.1 1117.7,1397.5 1118.3,1397.8 1119.0,1398.2 1119.6,1397.7 1120.2,1398.1 1120.8,1398.3 1121.4,1398.1 1122.0,1399.6 1122.6,1398.5 1123.2,1398.1 1123.9,1399.3 1124.5,1396.1 1125.1,1398.7 1125.7,1398.3 1126.3,1398.8 1126.9,1397.8 1127.5,1397.7 1128.2,1397.6 1128.8,1400.0 1129.4,1397.6 1130.0,1399.1 1130.6,1399.0 1131.2,1399.8 1131.8,1398.0 1132.5,1396.9 1133.1,1399.1 1133.7,1398.9 1134.3,1398.8 1134.9,1398.4 1135.5,1398.6 1136.1,1398.7 1136.8,1398.9 1137.4,1398.4 1138.0,1398.3 1138.6,1396.8 1139.2,1398.4 1139.8,1398.1 1140.4,1399.3 1141.1,1397.8 1141.7,1397.0 1142.3,1398.0 1142.9,1398.8 1143.5,1397.6 1144.1,1397.3 1144.7,1397.7 1145.4,1399.2 1146.0,1398.2 1146.6,1397.2 1147.2,1397.6 1147.8,1399.0 1148.4,1399.2 1149.0,1396.5 1149.7,1398.3 1150.3,1398.6 1150.9,1398.8 1151.5,1397.9 1152.1,1398.7 1152.7,1398.5 1153.3,1399.0 1154.0,1398.2 1154.6,1398.9 1155.2,1397.6 1155.8,1398.0 1156.4,1399.0 1157.0,1397.5 1157.6,1399.0 1158.3,1397.8 1158.9,1398.4 1159.5,1398.2 1160.1,1398.0 1160.7,1398.1 1161.3,1399.2 1161.9,1397.3 1162.6,1397.0 1163.2,1398.3 1163.8,1396.2 1164.4,1397.8 1165.0,1398.9 1165.6,1397.5 1166.2,1398.0 1166.9,1398.3 1167.5,1398.8 1168.1,1396.8 1168.7,1398.2 1169.3,1397.7 1169.9,1398.3 1170.5,1398.5 1171.2,1397.5 1171.8,1399.0 1172.4,1397.7 1173.0,1398.7 1173.6,1398.6 1174.2,1398.5 1174.8,1398.3 1175.4,1398.0 1176.1,1398.8 1176.7,1397.6 1177.3,1397.6 1177.9,1398.8 1178.5,1398.4 1179.1,1397.9 1179.7,1398.6 1180.4,1398.6 1181.0,1397.7 1181.6,1397.1 1182.2,1398.4 1182.8,1396.0 1183.4,1397.7 1184.0,1397.6 1184.7,1397.4 1185.3,1398.3 1185.9,1398.0 1186.5,1397.6 1187.1,1399.4 1187.7,1395.6 1188.3,1398.5 1189.0,1397.5 1189.6,1398.8 1190.2,1397.8 1190.8,1397.2 1191.4,1396.9 1192.0,1398.0 1192.6,1396.3 1193.3,1399.1 1193.9,1396.1 1194.5,1397.0 1195.1,1396.7 1195.7,1396.0 1196.3,1396.8 1196.9,1396.8 1197.6,1396.3 1198.2,1397.1 1198.8,1397.7 1199.4,1397.2 1200.0,1396.9 1200.6,1395.5 1201.2,1396.8 1201.9,1397.2 1202.5,1396.8 1203.1,1396.9 1203.7,1396.6 1204.3,1396.7 1204.9,1397.1 1205.5,1395.9 1206.2,1397.3 1206.8,1396.1 1207.4,1397.1 1208.0,1397.4 1208.6,1396.1 1209.2,1396.6 1209.8,1397.0 1210.5,1397.7 1211.1,1397.2 1211.7,1396.4 1212.3,1396.7 1212.9,1396.2 1213.5,1395.0 1214.1,1396.7 1214.8,1396.5 1215.4,1394.8 1216.0,1395.7 1216.6,1395.8 1217.2,1395.9 1217.8,1395.3 1218.4,1396.6 1219.1,1394.6 1219.7,1394.6 1220.3,1395.5 1220.9,1395.4 1221.5,1394.6 1222.1,1395.4 1222.7,1394.0 1223.4,1393.7 1224.0,1395.0 1224.6,1394.9 1225.2,1395.0 1225.8,1393.9 1226.4,1392.5 1227.0,1393.3 1227.7,1393.8 1228.3,1391.9 1228.9,1394.2 1229.5,1393.0 1230.1,1392.2 1230.7,1391.5 1231.3,1391.3 1231.9,1390.4 1232.6,1389.8 1233.2,1389.8 1233.8,1391.1 1234.4,1390.5 1235.0,1389.0 1235.6,1388.4 1236.2,1389.0 1236.9,1388.4 1237.5,1387.1 1238.1,1386.6 1238.7,1385.2 1239.3,1384.8 1239.9,1385.3 1240.5,1383.4 1241.2,1381.0 1241.8,1380.0 1242.4,1379.9 1243.0,1378.6 1243.6,1376.5 1244.2,1375.2 1244.8,1373.0 1245.5,1370.3 1246.1,1368.3 1246.7,1366.2 1247.3,1363.0 1247.9,1361.1 1248.5,1357.0 1249.1,1353.0 1249.8,1349.3 1250.4,1347.1 1251.0,1341.8 1251.6,1337.9 1252.2,1332.7 1252.8,1328.2 1253.4,1324.2 1254.1,1318.2 1254.7,1312.0 1255.3,1309.9 1255.9,1303.8 1256.5,1301.2 1257.1,1297.9 1257.7,1295.5 1258.4,1294.1 1259.0,1293.2 1259.6,1292.5 1260.2,1292.4 1260.8,1294.9 1261.4,1295.5 1262.0,1300.9 1262.7,1303.8 1263.3,1306.5 1263.9,1311.1 1264.5,1315.0 1265.1,1319.2 1265.7,1323.6 1266.3,1328.5 1267.0,1333.8 1267.6,1337.6 1268.2,1341.0 1268.8,1346.1 1269.4,1348.6 1270.0,1353.2 1270.6,1357.7 1271.3,1358.9 1271.9,1361.5 1272.5,1364.5 1273.1,1367.7 1273.7,1370.0 1274.3,1372.2 1274.9,1373.4 1275.6,1374.8 1276.2,1376.7 1276.8,1379.1 1277.4,1380.0 1278.0,1380.6 1278.6,1381.5 1279.2,1382.4 1279.9,1383.9 1280.5,1386.1 1281.1,1385.6 1281.7,1387.5 1282.3,1386.3 1282.9,1386.9 1283.5,1388.4 1284.1,1388.9 1284.8,1389.3 1285.4,1389.8 1286.0,1389.1 1286.6,1389.2 1287.2,1390.8 1287.8,1389.8 1288.4,1392.4 1289.1,1392.0 1289.7,1391.9 1290.3,1392.1 1290.9,1392.3 1291.5,1393.3 1292.1,1392.2 1292.7,1391.4 1293.4,1393.3 1294.0,1393.7 1294.6,1394.3 1295.2,1393.7 1295.8,1394.8 1296.4,1395.3 1297.0,1394.6 1297.7,1394.0 1298.3,1395.4 1298.9,1393.3 1299.5,1393.9 1300.1,1393.8 1300.7,1395.1 1301.3,1394.7 1302.0,1394.6 1302.6,1396.2 1303.2,1394.9 1303.8,1395.4 1304.4,1395.1 1305.0,1396.9 1305.6,1395.9 1306.3,1394.8 1306.9,1395.1 1307.5,1395.2 1308.1,1396.0 1308.7,1394.8 1309.3,1394.8 1309.9,1394.6 1310.6,1394.7 1311.2,1396.2 1311.8,1396.7 1312.4,1395.5 1313.0,1393.8 1313.6,1396.3 1314.2,1395.2 1314.9,1396.5 1315.5,1396.7 1316.1,1395.4 1316.7,1397.1 1317.3,1395.4 1317.9,1395.0 1318.5,1397.2 1319.2,1395.3 1319.8,1395.3 1320.4,1396.2 1321.0,1396.9 1321.6,1395.4 1322.2,1396.1 1322.8,1394.9 1323.5,1395.1 1324.1,1396.0 1324.7,1395.7 1325.3,1394.1 1325.9,1394.2 1326.5,1395.2 1327.1,1394.6 1327.8,1393.8 1328.4,1394.4 1329.0,1393.6 1329.6,1394.4 1330.2,1392.7 1330.8,1392.8 1331.4,1393.8 1332.1,1392.1 1332.7,1391.8 1333.3,1391.5 1333.9,1391.3 1334.5,1388.9 1335.1,1388.9 1335.7,1388.0 1336.3,1387.5 1337.0,1386.4 1337.6,1384.1 1338.2,1384.4 1338.8,1384.5 1339.4,1382.1 1340.0,1381.2 1340.6,1380.1 1341.3,1378.4 1341.9,1378.6 1342.5,1378.4 1343.1,1377.3 1343.7,1378.4 1344.3,1377.2 1344.9,1378.1 1345.6,1379.4 1346.2,1378.7 1346.8,1379.7 1347.4,1381.1 1348.0,1381.9 1348.6,1382.8 1349.2,1382.5 1349.9,1383.4 1350.5,1383.7 1351.1,1386.1 1351.7,1386.2 1352.3,1388.8 1352.9,1388.1 1353.5,1389.3 1354.2,1391.2 1354.8,1391.5 1355.4,1392.2 1356.0,1392.0 1356.6,1393.4 1357.2,1393.7 1357.8,1393.6 1358.5,1393.5 1359.1,1393.3 1359.7,1395.5 1360.3,1396.9 1360.9,1395.2 1361.5,1395.3 1362.1,1396.0 1362.8,1394.3 1363.4,1396.5 1364.0,1396.2 1364.6,1395.3 1365.2,1396.2 1365.8,1397.2 1366.4,1398.1 1367.1,1396.5 1367.7,1397.2 1368.3,1396.9 1368.9,1396.9 1369.5,1395.0 1370.1,1395.8 1370.7,1397.3 1371.4,1397.4 1372.0,1396.6 1372.6,1397.9 1373.2,1398.4 1373.8,1397.3 1374.4,1398.2 1375.0,1397.4 1375.7,1396.8 1376.3,1397.4 1376.9,1396.5 1377.5,1397.1 1378.1,1397.0 1378.7,1397.7 1379.3,1397.5 1380.0,1398.9 1380.6,1397.8 1381.2,1397.5 1381.8,1398.3 1382.4,1397.9 1383.0,1398.1 1383.6,1396.9 1384.3,1399.1 1384.9,1397.0 1385.5,1398.1 1386.1,1397.6 1386.7,1398.8 1387.3,1397.5 1387.9,1397.7 1388.5,1397.8 1389.2,1398.0 1389.8,1397.7 1390.4,1398.6 1391.0,1399.1 1391.6,1398.3 1392.2,1397.9 1392.8,1397.7 1393.5,1398.6 1394.1,1397.8 1394.7,1399.3 1395.3,1398.7 1395.9,1398.3 1396.5,1397.8 1397.1,1398.4 1397.8,1399.6 1398.4,1396.8 1399.0,1399.5 1399.6,1399.3 1400.2,1399.4 1400.8,1399.4 1401.4,1398.4 1402.1,1399.7 1402.7,1398.2 1403.3,1397.8 1403.9,1399.1 1404.5,1398.2 1405.1,1398.0 1405.7,1397.1 1406.4,1399.1 1407.0,1398.5 1407.6,1398.7 1408.2,1399.8 1408.8,1398.4 1409.4,1398.3 1410.0,1399.0 1410.7,1398.4 1411.3,1397.8 1411.9,1398.6 1412.5,1398.6 1413.1,1399.9 1413.7,1398.1 1414.3,1398.2 1415.0,1398.6 1415.6,1398.7 1416.2,1398.0 1416.8,1399.1 1417.4,1398.3 1418.0,1398.1 1418.6,1398.5 1419.3,1397.8 1419.9,1398.7 1420.5,1398.5 1421.1,1399.7 1421.7,1398.8 1422.3,1397.4 1422.9,1397.9 1423.6,1398.2 1424.2,1397.9 1424.8,1398.6 1425.4,1398.8 1426.0,1398.0 1426.6,1398.5 1427.2,1398.4 1427.9,1398.8 1428.5,1399.2 1429.1,1397.8 1429.7,1399.2 1430.3,1398.7 1430.9,1399.0 1431.5,1398.3 1432.2,1398.7 1432.8,1397.7 1433.4,1398.4 1434.0,1398.3 1434.6,1398.1 1435.2,1398.8 1435.8,1399.0 1436.5,1397.5 1437.1,1398.1 1437.7,1399.1 1438.3,1399.4 1438.9,1399.3 1439.5,1397.6 1440.1,1398.4 1440.7,1399.5 1441.4,1400.4 1442.0,1398.3 1442.6,1397.0 1443.2,1399.9 1443.8,1398.7 1444.4,1398.3 1445.0,1399.4 1445.7,1398.9 1446.3,1396.9 1446.9,1400.3 1447.5,1398.9 1448.1,1397.4 1448.7,1398.0 1449.3,1398.1 1450.0,1398.3 1450.6,1398.7 1451.2,1398.7 1451.8,1397.7 1452.4,1398.7 1453.0,1398.6 1453.6,1398.4 1454.3,1399.9 1454.9,1398.5 1455.5,1399.2 1456.1,1398.9 1456.7,1397.7 1457.3,1397.4 1457.9,1399.6 1458.6,1398.8 1459.2,1399.0 1459.8,1398.4 1460.4,1398.1 1461.0,1398.7 1461.6,1398.4 1462.2,1398.7 1462.9,1399.4 1463.5,1398.1 1464.1,1398.8 1464.7,1399.3 1465.3,1398.0 1465.9,1397.8 1466.5,1399.1 1467.2,1397.4 1467.8,1398.5 1468.4,1399.1 1469.0,1399.7 1469.6,1399.8 1470.2,1400.2 1470.8,1399.6 1471.5,1398.4 1472.1,1399.4 1472.7,1399.6 1473.3,1398.2 1473.9,1399.1 1474.5,1398.4 1475.1,1400.7 1475.8,1399.3 1476.4,1398.2 1477.0,1398.2 1477.6,1398.4 1478.2,1399.4 1478.8,1399.9 1479.4,1399.0 1480.1,1399.2 1480.7,1400.4 1481.3,1401.0 1481.9,1399.4 1482.5,1399.4 1483.1,1398.7 1483.7,1398.7 1484.4,1398.8 1485.0,1399.0 1485.6,1399.3 1486.2,1399.6 1486.8,1399.1 1487.4,1399.8 1488.0,1398.2 1488.7,1397.5 1489.3,1398.3 1489.9,1399.0 1490.5,1398.1 1491.1,1399.1 1491.7,1398.6 1492.3,1400.0 1492.9,1399.5 1493.6,1399.0 1494.2,1398.0 1494.8,1398.7 1495.4,1399.3 1496.0,1398.0 1496.6,1401.1 1497.2,1398.3 1497.9,1399.2 1498.5,1399.1 1499.1,1399.0 1499.7,1398.9 1500.3,1398.0 1500.9,1399.7 1501.5,1398.8 1502.2,1399.1 1502.8,1397.1 1503.4,1398.4 1504.0,1398.9 1504.6,1397.9 1505.2,1398.2 1505.8,1398.8 1506.5,1399.0 1507.1,1399.1 1507.7,1397.8 1508.3,1399.6 1508.9,1399.0 1509.5,1399.1 1510.1,1398.9 1510.8,1399.2 1511.4,1399.0 1512.0,1398.3 1512.6,1399.1 1513.2,1398.3 1513.8,1399.0 1514.4,1399.6 1515.1,1399.4 1515.7,1398.7 1516.3,1398.5 1516.9,1398.9 1517.5,1397.7 1518.1,1398.2 1518.7,1400.0 1519.4,1398.8 1520.0,1399.7 1520.6,1398.7 1521.2,1398.3 1521.8,1397.8 1522.4,1399.0 1523.0,1398.9 1523.7,1399.1 1524.3,1399.9 1524.9,1399.4 1525.5,1399.1 1526.1,1399.7 1526.7,1398.5 1527.3,1398.6 1528.0,1399.9 1528.6,1397.7 1529.2,1399.5 1529.8,1398.8 1530.4,1397.8 1531.0,1398.4 1531.6,1398.8 1532.3,1398.9 1532.9,1398.6 1533.5,1400.0 1534.1,1398.9 1534.7,1398.4 1535.3,1398.8 1535.9,1398.7 1536.6,1399.0 1537.2,1399.4 1537.8,1399.2 1538.4,1398.9 1539.0,1398.3 1539.6,1397.7 1540.2,1399.6 1540.9,1399.2 1541.5,1397.7 1542.1,1398.6 1542.7,1399.3 1543.3,1399.5 1543.9,1399.6 1544.5,1397.7 1545.2,1398.7 1545.8,1398.8 1546.4,1400.3 1547.0,1399.7 1547.6,1397.7 1548.2,1399.9 1548.8,1399.4 1549.4,1400.6 1550.1,1398.4 1550.7,1398.7 1551.3,1398.6 1551.9,1399.7 1552.5,1398.6 1553.1,1398.9 1553.7,1398.9 1554.4,1398.8 1555.0,1397.7 1555.6,1398.2 1556.2,1397.9 1556.8,1399.3 1557.4,1397.7 1558.0,1399.0 1558.7,1398.5 1559.3,1398.7 1559.9,1400.8 1560.5,1397.9 1561.1,1399.2 1561.7,1399.4 1562.3,1397.5 1563.0,1398.7 1563.6,1398.2 1564.2,1398.5 1564.8,1398.4 1565.4,1399.1 1566.0,1399.3 1566.6,1399.1 1567.3,1399.1 1567.9,1398.7 1568.5,1399.1 1569.1,1399.5 1569.7,1400.2 1570.3,1398.4 1570.9,1399.9 1571.6,1399.3 1572.2,1399.6 1572.8,1398.1 1573.4,1400.0 1574.0,1399.2 1574.6,1398.5 1575.2,1399.4 1575.9,1399.1 1576.5,1398.5 1577.1,1398.4 1577.7,1398.1 1578.3,1397.9 1578.9,1400.1 1579.5,1398.6 1580.2,1398.9 1580.8,1397.7 1581.4,1398.9 1582.0,1400.0 1582.6,1398.0 1583.2,1398.3 1583.8,1398.8 1584.5,1399.1 1585.1,1396.2 1585.7,1398.5 1586.3,1399.0 1586.9,1399.5 1587.5,1400.0 1588.1,1397.7 1588.8,1398.3 1589.4,1398.8 1590.0,1399.3 1590.6,1399.1 1591.2,1398.0 1591.8,1397.8 1592.4,1399.6 1593.1,1399.5 1593.7,1396.4 1594.3,1398.2 1594.9,1398.7 1595.5,1398.2 1596.1,1399.2 1596.7,1397.9 1597.4,1398.3 1598.0,1398.5 1598.6,1398.6 1599.2,1398.2 1599.8,1398.4 1600.4,1398.3 1601.0,1399.2 1601.6,1397.4 1602.3,1398.3 1602.9,1397.9 1603.5,1398.5 1604.1,1398.7 1604.7,1397.7 1605.3,1397.9 1605.9,1400.3 1606.6,1399.8 1607.2,1398.8 1607.8,1398.6 1608.4,1398.5 1609.0,1397.8 1609.6,1399.6 1610.2,1398.3 1610.9,1397.7 1611.5,1398.7 1612.1,1396.8 1612.7,1398.5 1613.3,1398.6 1613.9,1399.2 1614.5,1398.1 1615.2,1399.0 1615.8,1398.6 1616.4,1398.5 1617.0,1397.8 1617.6,1397.6 1618.2,1397.8 1618.8,1397.7 1619.5,1398.5 1620.1,1397.4 1620.7,1397.8 1621.3,1398.0 1621.9,1396.7 1622.5,1396.7 1623.1,1399.0 1623.8,1397.6 1624.4,1397.5 1625.0,1397.3 1625.6,1396.7 1626.2,1396.5 1626.8,1395.8 1627.4,1398.6 1628.1,1398.1 1628.7,1397.2 1629.3,1396.8 1629.9,1398.1 1630.5,1396.8 1631.1,1398.9 1631.7,1398.3 1632.4,1397.0 1633.0,1398.6 1633.6,1397.3 1634.2,1396.7 1634.8,1397.5 1635.4,1397.6 1636.0,1397.4 1636.7,1396.1 1637.3,1397.1 1637.9,1396.3 1638.5,1395.7 1639.1,1398.1 1639.7,1396.1 1640.3,1395.8 1641.0,1394.8 1641.6,1395.9 1642.2,1394.7 1642.8,1395.3 1643.4,1394.4 1644.0,1394.8 1644.6,1394.1 1645.3,1392.8 1645.9,1394.5 1646.5,1393.3 1647.1,1392.6 1647.7,1393.7 1648.3,1391.5 1648.9,1390.3 1649.6,1390.9 1650.2,1390.3 1650.8,1389.9 1651.4,1387.6 1652.0,1388.2 1652.6,1387.9 1653.2,1385.5 1653.8,1385.7 1654.5,1384.6 1655.1,1384.5 1655.7,1383.0 1656.3,1382.8 1656.9,1381.6 1657.5,1380.7 1658.1,1381.9 1658.8,1380.5 1659.4,1380.4 1660.0,1379.8 1660.6,1379.6 1661.2,1380.1 1661.8,1380.8 1662.4,1381.1 1663.1,1381.5 1663.7,1381.0 1664.3,1381.7 1664.9,1382.7 1665.5,1382.4 1666.1,1384.4 1666.7,1384.0 1667.4,1386.2 1668.0,1386.4 1668.6,1388.0 1669.2,1387.4 1669.8,1387.1 1670.4,1389.9 1671.0,1390.1 1671.7,1390.0 1672.3,1390.6 1672.9,1391.0 1673.5,1392.6 1674.1,1393.1 1674.7,1393.4 1675.3,1392.5 1676.0,1392.1 1676.6,1394.4 1677.2,1394.2 1677.8,1395.9 1678.4,1395.5 1679.0,1395.3 1679.6,1395.9 1680.3,1393.7 1680.9,1394.3 1681.5,1396.4 1682.1,1395.6 1682.7,1396.2 1683.3,1396.4 1683.9,1396.1 1684.6,1396.8 1685.2,1396.1 1685.8,1397.0 1686.4,1398.1 1687.0,1396.7 1687.6,1398.4 1688.2,1397.4 1688.9,1397.9 1689.5,1398.4 1690.1,1398.7 1690.7,1396.7 1691.3,1398.9 1691.9,1398.7 1692.5,1397.4 1693.2,1397.1 1693.8,1398.1 1694.4,1398.0 1695.0,1397.8 1695.6,1398.2 1696.2,1398.4 1696.8,1399.0 1697.5,1398.2 1698.1,1398.0 1698.7,1397.7 1699.3,1397.7 1699.9,1398.4 1700.5,1397.6 1701.1,1398.5 1701.8,1397.8 1702.4,1397.6 1703.0,1399.5 1703.6,1399.1 1704.2,1397.7 1704.8,1398.5 1705.4,1398.0 1706.0,1398.1 1706.7,1398.8 1707.3,1398.5 1707.9,1397.9 1708.5,1398.1 1709.1,1398.0 1709.7,1398.3 1710.3,1397.1 1711.0,1398.6 1711.6,1399.4 1712.2,1397.9 1712.8,1395.4 1713.4,1399.2 1714.0,1397.8 1714.6,1399.3 1715.3,1399.3 1715.9,1397.8 1716.5,1398.7 1717.1,1398.9 1717.7,1398.3 1718.3,1399.4 1718.9,1398.8 1719.6,1398.0 1720.2,1398.1 1720.8,1399.7 1721.4,1398.7 1722.0,1397.4 1722.6,1398.2 1723.2,1398.4 1723.9,1398.0 1724.5,1398.4 1725.1,1399.5 1725.7,1397.9 1726.3,1398.6 1726.9,1397.9 1727.5,1398.0 1728.2,1398.4 1728.8,1397.5 1729.4,1398.3 1730.0,1399.3 1730.6,1398.3 1731.2,1397.6 1731.8,1398.8 1732.5,1399.4 1733.1,1398.3 1733.7,1397.8 1734.3,1399.2 1734.9,1398.4 1735.5,1399.5 1736.1,1400.1 1736.8,1398.9 1737.4,1398.6 1738.0,1399.8 1738.6,1398.3 1739.2,1398.0 1739.8,1398.1 1740.4,1397.3 1741.1,1398.4 1741.7,1398.9 1742.3,1396.7 1742.9,1398.7 1743.5,1398.3 1744.1,1397.9 1744.7,1399.0 1745.4,1399.2 1746.0,1397.2 1746.6,1400.3 1747.2,1397.9 1747.8,1398.4 1748.4,1399.0 1749.0,1397.4 1749.7,1397.8 1750.3,1398.8 1750.9,1399.0 1751.5,1399.4 1752.1,1397.7 1752.7,1397.4 1753.3,1399.0 1754.0,1398.1 1754.6,1399.4 1755.2,1399.4 1755.8,1398.0 1756.4,1398.6 1757.0,1399.0 1757.6,1398.6 1758.2,1398.7 1758.9,1398.9 1759.5,1399.4 1760.1,1399.2 1760.7,1398.6 1761.3,1399.0 1761.9,1397.9 1762.5,1397.9 1763.2,1399.0 1763.8,1398.0 1764.4,1398.2 1765.0,1399.6 1765.6,1398.2 1766.2,1397.8 1766.8,1398.3 1767.5,1398.4 1768.1,1398.7 1768.7,1399.2 1769.3,1399.6 1769.9,1399.6 1770.5,1398.5 1771.1,1398.7 1771.8,1398.0 1772.4,1397.5 1773.0,1398.5 1773.6,1399.3 1774.2,1399.7 1774.8,1398.6 1775.4,1398.1 1776.1,1398.8 1776.7,1397.9 1777.3,1399.6 1777.9,1398.7 1778.5,1397.6 1779.1,1398.8 1779.7,1399.6 1780.4,1398.2 1781.0,1399.0 1781.6,1397.9 1782.2,1398.9 1782.8,1398.3 1783.4,1399.4 1784.0,1399.9 1784.7,1398.1 1785.3,1399.3 1785.9,1398.5 1786.5,1398.0 1787.1,1398.4 1787.7,1398.9 1788.3,1399.3 1789.0,1398.6 1789.6,1398.2 1790.2,1398.4 1790.8,1397.9 1791.4,1399.9 1792.0,1398.9 1792.6,1397.8 1793.3,1396.8 1793.9,1398.6 1794.5,1399.0 1795.1,1398.7 1795.7,1399.8 1796.3,1398.6 1796.9,1399.0 1797.6,1398.9 1798.2,1399.1 1798.8,1398.8 1799.4,1397.7 1800.0,1397.9 1800.6,1397.5 1801.2,1398.1 1801.9,1399.2 1802.5,1397.1 1803.1,1399.2 1803.7,1398.0 1804.3,1399.7 1804.9,1399.8 1805.5,1398.0 1806.2,1398.4 1806.8,1398.9 1807.4,1399.3 1808.0,1399.0 1808.6,1398.7 1809.2,1396.7 1809.8,1398.4 1810.4,1398.3 1811.1,1399.0 1811.7,1399.2 1812.3,1398.8 1812.9,1398.4 1813.5,1400.0 1814.1,1399.2 1814.7,1399.9 1815.4,1398.2 1816.0,1397.8 1816.6,1398.1 1817.2,1398.5 1817.8,1397.6 1818.4,1398.6 1819.0,1398.7 1819.7,1399.7 1820.3,1398.2 1820.9,1397.5 1821.5,1398.2 1822.1,1396.5 1822.7,1397.5 1823.3,1398.5 1824.0,1399.0 1824.6,1397.9 1825.2,1398.4 1825.8,1397.6 1826.4,1398.0 1827.0,1397.1 1827.6,1397.5 1828.3,1398.4 1828.9,1399.1 1829.5,1397.1 1830.1,1398.9 1830.7,1397.7 1831.3,1398.1 1831.9,1397.7 1832.6,1397.8 1833.2,1398.3 1833.8,1398.4 1834.4,1397.6 1835.0,1397.7 1835.6,1398.6 1836.2,1397.5 1836.9,1398.6 1837.5,1395.9 1838.1,1398.3 1838.7,1397.7 1839.3,1397.2 1839.9,1397.4 1840.5,1397.3 1841.2,1396.2 1841.8,1397.5 1842.4,1397.5 1843.0,1397.2 1843.6,1398.3 1844.2,1398.4 1844.8,1396.0 1845.5,1396.7 1846.1,1397.5 1846.7,1397.8 1847.3,1398.0 1847.9,1395.3 1848.5,1395.6 1849.1,1396.5 1849.8,1396.9 1850.4,1397.1 1851.0,1396.1 1851.6,1395.9 1852.2,1396.3 1852.8,1395.4 1853.4,1395.9 1854.1,1395.6 1854.7,1395.6 1855.3,1395.3 1855.9,1395.5 1856.5,1396.9 1857.1,1395.2 1857.7,1395.8 1858.4,1394.9 1859.0,1393.9 1859.6,1395.2 1860.2,1393.7 1860.8,1395.3 1861.4,1394.4 1862.0,1394.4 1862.7,1392.6 1863.3,1393.5 1863.9,1392.3 1864.5,1393.2 1865.1,1392.8 1865.7,1393.2 1866.3,1390.6 1866.9,1390.3 1867.6,1389.5 1868.2,1390.1 1868.8,1389.9 1869.4,1386.8 1870.0,1387.4 1870.6,1387.6 1871.2,1386.6 1871.9,1385.4 1872.5,1384.1 1873.1,1381.2 1873.7,1382.1 1874.3,1379.7 1874.9,1379.3 1875.5,1378.2 1876.2,1376.3 1876.8,1376.7 1877.4,1374.5 1878.0,1371.5 1878.6,1371.6 1879.2,1369.5 1879.8,1369.1 1880.5,1367.9 1881.1,1366.6 1881.7,1365.6 1882.3,1365.2 1882.9,1365.1 1883.5,1363.6 1884.1,1363.8 1884.8,1363.2 1885.4,1364.0 1886.0,1362.1 1886.6,1363.7 1887.2,1364.3 1887.8,1364.7 1888.4,1365.5 1889.1,1366.9 1889.7,1369.7 1890.3,1369.4 1890.9,1370.5 1891.5,1371.1 1892.1,1372.6 1892.7,1374.0 1893.4,1376.3 1894.0,1376.0 1894.6,1375.9 1895.2,1376.7 1895.8,1379.2 1896.4,1381.9 1897.0,1381.1 1897.7,1382.0 1898.3,1382.3 1898.9,1385.7 1899.5,1385.2 1900.1,1385.6 1900.7,1387.7 1901.3,1385.8 1902.0,1388.2 1902.6,1389.4 1903.2,1389.1 1903.8,1388.8 1904.4,1390.8 1905.0,1391.3 1905.6,1392.3 1906.3,1391.2 1906.9,1393.8 1907.5,1391.7 1908.1,1392.3 1908.7,1392.3 1909.3,1392.8 1909.9,1394.2 1910.6,1394.4 1911.2,1393.9 1911.8,1393.9 1912.4,1393.9 1913.0,1394.1 1913.6,1395.3 1914.2,1393.7 1914.9,1394.0 1915.5,1393.9 1916.1,1395.4 1916.7,1394.6 1917.3,1395.4 1917.9,1394.6 1918.5,1397.4 1919.1,1394.9 1919.8,1394.9 1920.4,1395.3 1921.0,1395.2 1921.6,1394.9 1922.2,1395.0 1922.8,1395.8 1923.4,1395.1 1924.1,1394.6 1924.7,1394.1 1925.3,1394.3 1925.9,1396.0 1926.5,1394.8 1927.1,1395.2 1927.7,1395.6 1928.4,1396.4 1929.0,1395.0 1929.6,1395.0 1930.2,1395.8 1930.8,1394.2 1931.4,1394.2 1932.0,1394.6 1932.7,1396.2 1933.3,1396.0 1933.9,1395.0 1934.5,1394.7 1935.1,1395.6 1935.7,1395.2 1936.3,1394.7 1937.0,1394.2 1937.6,1393.3 1938.2,1392.7 1938.8,1392.4 1939.4,1393.6 1940.0,1392.9 1940.6,1392.3 1941.3,1391.7 1941.9,1392.8 1942.5,1391.3 1943.1,1390.8 1943.7,1389.8 1944.3,1389.3 1944.9,1389.0 1945.6,1389.1 1946.2,1386.4 1946.8,1387.9 1947.4,1386.4 1948.0,1385.6 1948.6,1384.9 1949.2,1383.5 1949.9,1382.8 1950.5,1381.6 1951.1,1382.7 1951.7,1380.5 1952.3,1379.5 1952.9,1378.4 1953.5,1378.9 1954.2,1376.3 1954.8,1375.6 1955.4,1376.6 1956.0,1376.3 1956.6,1375.2 1957.2,1375.4 1957.8,1375.7 1958.5,1374.0 1959.1,1375.1 1959.7,1375.5 1960.3,1375.4 1960.9,1376.3 1961.5,1376.3 1962.1,1377.0 1962.8,1378.4 1963.4,1378.7 1964.0,1379.6 1964.6,1380.6 1965.2,1380.0 1965.8,1382.7 1966.4,1382.9 1967.1,1384.1 1967.7,1384.2 1968.3,1386.5 1968.9,1386.0 1969.5,1385.8 1970.1,1386.7 1970.7,1387.8 1971.3,1388.2 1972.0,1389.9 1972.6,1389.2 1973.2,1391.0 1973.8,1390.3 1974.4,1391.5 1975.0,1391.6 1975.6,1393.4 1976.3,1393.7 1976.9,1392.7 1977.5,1394.8 1978.1,1393.8 1978.7,1393.1 1979.3,1394.9 1979.9,1395.0 1980.6,1394.2 1981.2,1395.5 1981.8,1395.8 1982.4,1394.9 1983.0,1395.7 1983.6,1395.0 1984.2,1396.5 1984.9,1395.8 1985.5,1395.3 1986.1,1396.2 1986.7,1396.4 1987.3,1396.7 1987.9,1396.4 1988.5,1396.6 1989.2,1396.2 1989.8,1396.7 1990.4,1396.1 1991.0,1396.9 1991.6,1398.0 1992.2,1397.3 1992.8,1396.3 1993.5,1397.2 1994.1,1397.0 1994.7,1397.3 1995.3,1397.3 1995.9,1397.4 1996.5,1397.3 1997.1,1396.3 1997.8,1397.9 1998.4,1397.8 1999.0,1396.9 1999.6,1396.8 2000.2,1398.4 2000.8,1397.9 2001.4,1397.7 2002.1,1397.6 2002.7,1399.4 2003.3,1398.3 2003.9,1397.9 2004.5,1397.2 2005.1,1397.4 2005.7,1398.3 2006.4,1398.5 2007.0,1398.2 2007.6,1399.3 2008.2,1397.7 2008.8,1398.7 2009.4,1397.1 2010.0,1399.2 2010.7,1398.4 2011.3,1397.8 2011.9,1398.3 2012.5,1398.3 2013.1,1397.6 2013.7,1398.9 2014.3,1397.3 2015.0,1398.2 2015.6,1397.4 2016.2,1397.6 2016.8,1398.5 2017.4,1397.0 2018.0,1397.8 2018.6,1399.1 2019.3,1398.0 2019.9,1399.0 2020.5,1397.8 2021.1,1397.6 2021.7,1398.7 2022.3,1398.4 2022.9,1397.8 2023.5,1399.0 2024.2,1398.3 2024.8,1397.6 2025.4,1397.7 2026.0,1397.5 2026.6,1398.4 2027.2,1399.6 2027.8,1398.3 2028.5,1400.3 2029.1,1398.2 2029.7,1399.1 2030.3,1399.5 2030.9,1399.1 2031.5,1399.3 2032.1,1397.8 2032.8,1398.4 2033.4,1398.7 2034.0,1399.8 2034.6,1398.3 2035.2,1397.3 2035.8,1398.6 2036.4,1398.9 2037.1,1398.7 2037.7,1399.2 2038.3,1398.7 2038.9,1398.9 2039.5,1398.5 2040.1,1398.9 2040.7,1397.9 2041.4,1397.8 2042.0,1399.3 2042.6,1398.5 2043.2,1398.6 2043.8,1398.0 2044.4,1396.6 2045.0,1398.8 2045.7,1399.6 2046.3,1398.6 2046.9,1399.7 2047.5,1399.9 2048.1,1400.6 2048.7,1398.7 2049.3,1399.3 2050.0,1398.6 2050.6,1399.7 2051.2,1399.0 2051.8,1398.8 2052.4,1400.0 2053.0,1398.1 2053.6,1397.6 2054.3,1398.3 2054.9,1397.7 2055.5,1398.6 2056.1,1399.0 2056.7,1400.4 2057.3,1398.1 2057.9,1398.7 2058.6,1398.8 2059.2,1399.3 2059.8,1397.2 2060.4,1399.5 2061.0,1398.1 2061.6,1399.1 2062.2,1398.5 2062.9,1398.8 2063.5,1398.2 2064.1,1399.6 2064.7,1398.1 2065.3,1398.2 2065.9,1397.9 2066.5,1398.6 2067.2,1398.7 2067.8,1397.6 2068.4,1399.0 2069.0,1397.4 2069.6,1397.9 2070.2,1398.8 2070.8,1398.7 2071.5,1399.2 2072.1,1397.9 2072.7,1399.0 2073.3,1399.2 2073.9,1398.8 2074.5,1398.7 2075.1,1399.2 2075.7,1399.9 2076.4,1398.5 2077.0,1398.3 2077.6,1398.2 2078.2,1399.1 2078.8,1398.7 2079.4,1397.7 2080.0,1398.3 2080.7,1398.1 2081.3,1397.7 2081.9,1400.0 2082.5,1399.3 2083.1,1398.5 2083.7,1399.4 2084.3,1397.8 2085.0,1398.3 2085.6,1398.9 2086.2,1399.0 2086.8,1399.2 2087.4,1398.3 2088.0,1398.5 2088.6,1398.2 2089.3,1398.2 2089.9,1397.9 2090.5,1399.2 2091.1,1399.5 2091.7,1398.0 2092.3,1398.8 2092.9,1398.2 2093.6,1399.1 2094.2,1398.2 2094.8,1399.0 2095.4,1398.2 2096.0,1397.6 2096.6,1399.4 2097.2,1397.8 2097.9,1398.6 2098.5,1399.3 2099.1,1398.6 2099.7,1397.9 2100.3,1398.6 2100.9,1398.9 2101.5,1399.4 2102.2,1400.3 2102.8,1399.2 2103.4,1397.8 2104.0,1398.8 2104.6,1399.3 2105.2,1398.9 2105.8,1397.5 2106.5,1398.7 2107.1,1399.9 2107.7,1398.6 2108.3,1399.2 2108.9,1399.1 2109.5,1399.0 2110.1,1398.9 2110.8,1398.1 2111.4,1398.7 2112.0,1398.7 2112.6,1398.1 2113.2,1399.9 2113.8,1398.5 2114.4,1398.7 2115.1,1398.6 2115.7,1399.1 2116.3,1397.8 2116.9,1399.1 2117.5,1398.8 2118.1,1397.9 2118.7,1399.5 2119.4,1397.6 2120.0,1398.7 2120.6,1399.5 2121.2,1398.1 2121.8,1398.6 2122.4,1397.8 2123.0,1398.7 2123.7,1398.8 2124.3,1398.0 2124.9,1399.1 2125.5,1398.6 2126.1,1399.5 2126.7,1397.3 2127.3,1398.8 2127.9,1398.7 2128.6,1398.7 2129.2,1398.9 2129.8,1399.6 2130.4,1398.8 2131.0,1399.2 2131.6,1398.8 2132.2,1399.3 2132.9,1397.5 2133.5,1398.3 2134.1,1398.1 2134.7,1398.6 2135.3,1398.0 2135.9,1399.0 2136.5,1398.6 2137.2,1398.8 2137.8,1398.6 2138.4,1397.0 2139.0,1398.0 2139.6,1398.9 2140.2,1398.0 2140.8,1399.7 2141.5,1398.4 2142.1,1398.0 2142.7,1398.0 2143.3,1398.3 2143.9,1397.9 2144.5,1398.9 2145.1,1398.7 2145.8,1398.6 2146.4,1398.4 2147.0,1398.4 2147.6,1397.3 2148.2,1399.0 2148.8,1400.0 2149.4,1398.2 2150.1,1398.1 2150.7,1399.4 2151.3,1399.3 2151.9,1398.7 2152.5,1398.7 2153.1,1399.1 2153.7,1398.4 2154.4,1397.6 2155.0,1399.4 2155.6,1398.9 2156.2,1397.9 2156.8,1398.4 2157.4,1398.5 2158.0,1398.5 2158.7,1399.3 2159.3,1398.9 2159.9,1399.0 2160.5,1397.6 2161.1,1397.8 2161.7,1399.2 2162.3,1399.1 2163.0,1399.0 2163.6,1398.8 2164.2,1397.2 2164.8,1397.3 2165.4,1398.1 2166.0,1399.4 2166.6,1399.9 2167.3,1399.8 2167.9,1397.7 2168.5,1398.5 2169.1,1398.1 2169.7,1398.8 2170.3,1398.1 2170.9,1398.2 2171.6,1399.1 2172.2,1398.9 2172.8,1399.0 2173.4,1397.9 2174.0,1399.0 2174.6,1399.3 2175.2,1398.9 2175.9,1399.0 2176.5,1397.6 2177.1,1399.9 2177.7,1398.2 2178.3,1398.6 2178.9,1397.2 2179.5,1396.7 2180.2,1396.9 2180.8,1397.6 2181.4,1398.5 2182.0,1398.9 2182.6,1398.5 2183.2,1397.7 2183.8,1398.2 2184.4,1397.8 2185.1,1397.2 2185.7,1397.0 2186.3,1398.8 2186.9,1398.5 2187.5,1397.8 2188.1,1397.9 2188.7,1398.5 2189.4,1398.5 2190.0,1398.6 2190.6,1398.1 2191.2,1397.6 2191.8,1398.0 2192.4,1397.0 2193.0,1398.9 2193.7,1398.2 2194.3,1398.4 2194.9,1397.8 2195.5,1398.1 2196.1,1399.6 2196.7,1398.7 2197.3,1398.7 2198.0,1399.4 2198.6,1397.8 2199.2,1397.6 2199.8,1396.9 2200.4,1397.3 2201.0,1396.8 2201.6,1397.5 2202.3,1397.5 2202.9,1398.3 2203.5,1396.2 2204.1,1398.1 2204.7,1396.3 2205.3,1397.3 2205.9,1398.2 2206.6,1396.7 2207.2,1398.1 2207.8,1397.2 2208.4,1397.4 2209.0,1397.7 2209.6,1398.2 2210.2,1395.2 2210.9,1398.2 2211.5,1395.7 2212.1,1394.9 2212.7,1396.7 2213.3,1395.5 2213.9,1397.5 2214.5,1397.1 2215.2,1396.2 2215.8,1396.0 2216.4,1397.0 2217.0,1395.7 2217.6,1396.6 2218.2,1395.1 2218.8,1396.0 2219.5,1395.0 2220.1,1394.6 2220.7,1394.9 2221.3,1394.1 2221.9,1393.7 2222.5,1394.0 2223.1,1394.2 2223.8,1391.9 2224.4,1394.0 2225.0,1393.7 2225.6,1393.0 2226.2,1393.0 2226.8,1391.8 2227.4,1391.9 2228.1,1390.9 2228.7,1390.7 2229.3,1389.4 2229.9,1389.4 2230.5,1388.8 2231.1,1388.8 2231.7,1388.1 2232.4,1387.9 2233.0,1387.1 2233.6,1384.2 2234.2,1384.2 2234.8,1383.4 2235.4,1383.0 2236.0,1382.5 2236.6,1381.1 2237.3,1380.4 2237.9,1380.6 2238.5,1377.9 2239.1,1377.5 2239.7,1375.4 2240.3,1374.4 2240.9,1375.2 2241.6,1373.4 2242.2,1372.8 2242.8,1372.4 2243.4,1373.2 2244.0,1371.7 2244.6,1370.0 2245.2,1369.6 2245.9,1370.9 2246.5,1371.4 2247.1,1369.8 2247.7,1371.7 2248.3,1372.3 2248.9,1372.8 2249.5,1371.7 2250.2,1372.3 2250.8,1372.9 2251.4,1374.7 2252.0,1374.7 2252.6,1375.6 2253.2,1375.9 2253.8,1376.9 2254.5,1377.3 2255.1,1378.9 2255.7,1380.0 2256.3,1381.2 2256.9,1380.3 2257.5,1383.6 2258.1,1383.8 2258.8,1384.6 2259.4,1384.8 2260.0,1386.1 2260.6,1385.4 2261.2,1387.2 2261.8,1387.4 2262.4,1389.4 2263.1,1388.1 2263.7,1389.2 2264.3,1389.9 2264.9,1390.7 2265.5,1392.0 2266.1,1393.1 2266.7,1392.1 2267.4,1391.8 2268.0,1392.8 2268.6,1393.1 2269.2,1393.2 2269.8,1392.3 2270.4,1393.6 2271.0,1393.5 2271.7,1395.7 2272.3,1394.7 2272.9,1393.3 2273.5,1394.4 2274.1,1396.1 2274.7,1395.1 2275.3,1396.7 2276.0,1396.2 2276.6,1395.5 2277.2,1395.4 2277.8,1396.1 2278.4,1396.4 2279.0,1396.1 2279.6,1395.7 2280.3,1397.3 2280.9,1397.6 2281.5,1395.9 2282.1,1396.6 2282.7,1395.6 2283.3,1396.0 2283.9,1395.8 2284.6,1397.8 2285.2,1397.0 2285.8,1397.4 2286.4,1398.0 2287.0,1396.6 2287.6,1396.9 2288.2,1397.6 2288.8,1396.5 2289.5,1397.0 2290.1,1398.1 2290.7,1397.0 2291.3,1396.3 2291.9,1397.8"/>
<g id="labels"><text transform="translate(2055.73,398.95) scale(0.9066,1)" font-size="47.12">ST-PtCeSi</text>
<text transform="translate(2048.93,692.10) scale(0.9604,1)" font-size="47.63">IM-PtCeSi</text>
<text transform="translate(2172.66,931.90) scale(0.8758,1)" font-size="46.91">CeSi</text>
<text transform="translate(721.58,368.90) scale(0.9584,1)" font-size="53.24">Pt</text>
<text transform="translate(725.58,647.00) scale(0.9559,1)" font-size="53.38">Pt</text>
<text transform="translate(358.27,1097.90) scale(1.0782,1)" font-size="46.04">(111)</text>
<text transform="translate(491.78,1304.60) scale(1.0159,1)" font-size="46.33">(200)</text>
<text transform="translate(941.78,1240.00) scale(1.0096,1)" font-size="46.62">(220)</text>
<text transform="translate(1201.73,1273.90) scale(1.0415,1)" font-size="46.33">(311)</text>
<text transform="translate(1291.80,1365.00) scale(0.9991,1)" font-size="46.62">(222)</text>
<text transform="translate(1600.68,1361.80) scale(1.0128,1)" font-size="46.47">(400)</text>
<text transform="translate(1820.69,1345.90) scale(1.0140,1)" font-size="46.33">(331)</text>
<text transform="translate(1928.58,1364.10) scale(1.0118,1)" font-size="46.47">(420)</text>
<text transform="translate(2172.69,1361.80) scale(1.0108,1)" font-size="46.47">(422)</text>
<text transform="translate(992.53,1887.50) scale(0.9799,1)" font-size="73.96">2Theta (deg.)</text>
<text transform="translate(106.00,1740.90) scale(0.9838,1)" font-size="67.63">20</text>
<text transform="translate(259.20,1740.90) scale(0.9838,1)" font-size="67.63">25</text>
<text transform="translate(413.40,1740.90) scale(0.9838,1)" font-size="67.63">30</text>
<text transform="translate(566.59,1740.90) scale(0.9838,1)" font-size="67.63">35</text>
<text transform="translate(720.62,1740.90) scale(0.9838,1)" font-size="67.63">40</text>
<text transform="translate(873.82,1740.90) scale(0.9838,1)" font-size="67.63">45</text>
<text transform="translate(1027.18,1740.90) scale(0.9838,1)" font-size="67.63">50</text>
<text transform="translate(1180.38,1740.90) scale(0.9838,1)" font-size="67.63">55</text>
<text transform="translate(1334.08,1740.90) scale(0.9838,1)" font-size="67.63">60</text>
<text transform="translate(1487.28,1740.90) scale(0.9838,1)" font-size="67.63">65</text>
<text transform="translate(1640.97,1740.90) scale(0.9838,1)" font-size="67.63">70</text>
<text transform="translate(1794.17,1740.90) scale(0.9838,1)" font-size="67.63">75</text>
<text transform="translate(1948.36,1740.90) scale(0.9838,1)" font-size="67.63">80</text>
<text transform="translate(2101.56,1740.90) scale(0.9838,1)" font-size="67.63">85</text>
<text transform="translate(2255.42,1740.90) scale(0.9838,1)" font-size="67.63">90</text>
<text transform="translate(2086.42,1256.70) scale(0.9514,1)" font-size="46.76">CeO<tspan font-size="31.33" dy="15.0">2</tspan><tspan dy="-15.0">-NF</tspan></text>
<text><tspan x="1927.61" y="1478.10" font-size="46.47" textLength="87.10" lengthAdjust="spacingAndGlyphs">CeO</tspan> <tspan x="2016.81" y="1491.60" font-size="31.14" textLength="16.46" lengthAdjust="spacingAndGlyphs">2</tspan> <tspan x="2046.79" y="1478.10" font-size="46.47" textLength="227.67" lengthAdjust="spacingAndGlyphs">#034-0394</tspan></text>
<text transform="translate(84.90,1093.83) rotate(-90) scale(0.9705,1)" font-size="74.96">Intensity (a.u.)</text>
<text transform="translate(728.44,425.10) scale(0.8920,0.8575)" font-size="50" style="font-family:'DejaVu Sans',sans-serif;font-weight:normal">♦</text>
<text transform="translate(728.44,701.10) scale(0.8920,0.8575)" font-size="50" style="font-family:'DejaVu Sans',sans-serif;font-weight:normal">♦</text></g>
</svg></body></html>
